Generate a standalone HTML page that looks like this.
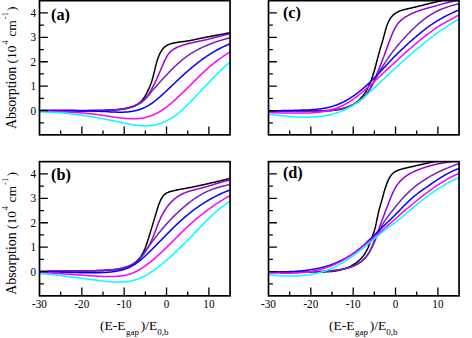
<!DOCTYPE html><html><head><meta charset="utf-8"><style>html,body{margin:0;padding:0;background:#fff;width:472px;height:338px;overflow:hidden}svg{display:block}text{font-family:"Liberation Serif",serif;fill:#000}</style></head><body>
<svg width="472" height="338" viewBox="0 0 472 338">
<rect width="472" height="338" fill="#fff"/>
<clipPath id="clipa"><rect x="39.50" y="0.65" width="190.55" height="134.20"/></clipPath>
<g clip-path="url(#clipa)" fill="none" stroke-width="1.5" stroke-linejoin="round">
<path d="M39.4 110.7 L40.0 110.7 L40.6 110.7 L41.1 110.6 L41.7 110.6 L42.3 110.6 L42.9 110.6 L43.5 110.6 L44.1 110.6 L44.6 110.6 L45.2 110.6 L45.8 110.6 L46.4 110.6 L47.0 110.6 L47.5 110.6 L48.1 110.6 L48.7 110.5 L49.3 110.5 L49.9 110.5 L50.4 110.5 L51.0 110.5 L51.6 110.5 L52.2 110.5 L52.8 110.5 L53.4 110.5 L53.9 110.5 L54.5 110.5 L55.1 110.5 L55.7 110.5 L56.3 110.5 L56.8 110.5 L57.4 110.5 L58.0 110.5 L58.6 110.5 L59.2 110.5 L59.8 110.5 L60.3 110.5 L60.9 110.5 L61.5 110.6 L62.1 110.6 L62.7 110.6 L63.2 110.6 L63.8 110.6 L64.4 110.6 L65.0 110.6 L65.6 110.6 L66.2 110.6 L66.7 110.6 L67.3 110.6 L67.9 110.6 L68.5 110.6 L69.1 110.6 L69.6 110.6 L70.2 110.6 L70.8 110.6 L71.4 110.6 L72.0 110.6 L72.6 110.6 L73.1 110.6 L73.7 110.6 L74.3 110.6 L74.9 110.6 L75.5 110.6 L76.0 110.6 L76.6 110.6 L77.2 110.6 L77.8 110.7 L78.4 110.7 L79.0 110.7 L79.5 110.7 L80.1 110.7 L80.7 110.7 L81.3 110.7 L81.9 110.7 L82.5 110.7 L83.0 110.7 L83.6 110.7 L84.2 110.7 L84.8 110.7 L85.4 110.7 L85.9 110.7 L86.5 110.7 L87.1 110.7 L87.7 110.6 L88.3 110.6 L88.9 110.6 L89.4 110.6 L90.0 110.6 L90.6 110.6 L91.2 110.6 L91.8 110.6 L92.3 110.6 L92.9 110.6 L93.5 110.6 L94.1 110.6 L94.7 110.6 L95.2 110.6 L95.8 110.6 L96.4 110.5 L97.0 110.5 L97.6 110.5 L98.2 110.5 L98.7 110.5 L99.3 110.5 L99.9 110.5 L100.5 110.4 L101.1 110.4 L101.6 110.4 L102.2 110.4 L102.8 110.4 L103.4 110.4 L104.0 110.3 L104.5 110.3 L105.1 110.3 L105.7 110.3 L106.3 110.2 L106.9 110.2 L107.4 110.2 L108.0 110.2 L108.6 110.1 L109.2 110.1 L109.8 110.1 L110.3 110.0 L110.9 110.0 L111.5 110.0 L112.1 109.9 L112.7 109.9 L113.2 109.9 L113.8 109.8 L114.4 109.8 L115.0 109.8 L115.6 109.7 L116.1 109.7 L116.7 109.6 L117.3 109.6 L117.9 109.5 L118.4 109.5 L119.0 109.4 L119.6 109.3 L120.2 109.3 L120.8 109.2 L121.3 109.1 L121.9 109.1 L122.5 109.0 L123.1 108.9 L123.6 108.8 L124.2 108.7 L124.8 108.6 L125.4 108.5 L125.9 108.4 L126.5 108.3 L127.1 108.1 L127.7 108.0 L128.2 107.9 L128.8 107.7 L129.4 107.6 L130.0 107.4 L130.5 107.3 L131.1 107.1 L131.7 106.9 L132.2 106.7 L132.8 106.5 L133.3 106.3 L133.9 106.1 L134.4 105.9 L134.9 105.6 L135.5 105.4 L136.0 105.1 L136.5 104.8 L137.0 104.6 L137.5 104.3 L138.0 104.0 L138.4 103.6 L138.9 103.3 L139.4 103.0 L139.8 102.6 L140.2 102.2 L140.6 101.9 L141.1 101.5 L141.4 101.1 L141.8 100.6 L142.2 100.2 L142.6 99.8 L142.9 99.3 L143.3 98.9 L143.6 98.4 L143.9 97.9 L144.2 97.4 L144.6 96.9 L144.9 96.4 L145.2 95.9 L145.5 95.4 L145.7 94.9 L146.0 94.4 L146.3 93.9 L146.6 93.4 L146.8 92.8 L147.1 92.3 L147.4 91.8 L147.6 91.3 L147.9 90.7 L148.1 90.2 L148.4 89.7 L148.6 89.2 L148.9 88.6 L149.1 88.1 L149.3 87.6 L149.6 87.0 L149.8 86.5 L150.0 86.0 L150.2 85.4 L150.4 84.9 L150.6 84.4 L150.9 83.8 L151.1 83.3 L151.3 82.7 L151.4 82.2 L151.6 81.6 L151.8 81.1 L152.0 80.5 L152.2 80.0 L152.3 79.4 L152.5 78.9 L152.7 78.3 L152.8 77.7 L153.0 77.2 L153.1 76.6 L153.3 76.0 L153.4 75.5 L153.5 74.9 L153.7 74.3 L153.8 73.8 L154.0 73.2 L154.1 72.6 L154.2 72.0 L154.4 71.5 L154.5 70.9 L154.6 70.3 L154.8 69.7 L154.9 69.2 L155.0 68.6 L155.2 68.0 L155.3 67.4 L155.4 66.9 L155.6 66.3 L155.7 65.7 L155.9 65.2 L156.0 64.6 L156.2 64.0 L156.3 63.5 L156.5 62.9 L156.6 62.3 L156.8 61.8 L157.0 61.2 L157.1 60.7 L157.3 60.1 L157.5 59.5 L157.7 59.0 L157.9 58.4 L158.1 57.9 L158.3 57.4 L158.5 56.8 L158.7 56.3 L158.9 55.8 L159.1 55.2 L159.4 54.7 L159.6 54.2 L159.9 53.7 L160.1 53.1 L160.4 52.6 L160.7 52.1 L161.0 51.6 L161.3 51.1 L161.6 50.6 L161.9 50.2 L162.2 49.7 L162.6 49.2 L162.9 48.8 L163.3 48.4 L163.6 47.9 L164.0 47.5 L164.4 47.2 L164.8 46.8 L165.3 46.4 L165.7 46.1 L166.2 45.8 L166.6 45.5 L167.1 45.2 L167.6 45.0 L168.1 44.7 L168.7 44.5 L169.2 44.3 L169.7 44.1 L170.3 43.9 L170.8 43.7 L171.4 43.6 L172.0 43.4 L172.5 43.3 L173.1 43.2 L173.7 43.0 L174.3 42.9 L174.8 42.8 L175.4 42.7 L176.0 42.6 L176.6 42.5 L177.2 42.4 L177.8 42.3 L178.3 42.2 L178.9 42.1 L179.5 42.1 L180.1 42.0 L180.7 41.9 L181.3 41.8 L181.9 41.8 L182.4 41.7 L183.0 41.6 L183.6 41.5 L184.2 41.5 L184.8 41.4 L185.4 41.3 L186.0 41.2 L186.5 41.1 L187.1 41.1 L187.7 41.0 L188.3 40.9 L188.8 40.8 L189.4 40.7 L190.0 40.6 L190.5 40.5 L191.1 40.3 L191.7 40.2 L192.3 40.1 L192.8 40.0 L193.4 39.9 L193.9 39.8 L194.5 39.6 L195.1 39.5 L195.6 39.4 L196.2 39.3 L196.8 39.1 L197.3 39.0 L197.9 38.9 L198.5 38.8 L199.0 38.6 L199.6 38.5 L200.2 38.4 L200.7 38.3 L201.3 38.2 L201.9 38.0 L202.4 37.9 L203.0 37.8 L203.6 37.7 L204.1 37.6 L204.7 37.5 L205.3 37.4 L205.8 37.2 L206.4 37.1 L207.0 37.0 L207.6 36.9 L208.1 36.8 L208.7 36.7 L209.3 36.6 L209.8 36.5 L210.4 36.4 L211.0 36.3 L211.6 36.2 L212.1 36.1 L212.7 36.0 L213.3 35.9 L213.9 35.7 L214.4 35.6 L215.0 35.5 L215.6 35.4 L216.2 35.3 L216.7 35.2 L217.3 35.1 L217.9 35.0 L218.5 34.9 L219.0 34.8 L219.6 34.7 L220.2 34.6 L220.8 34.5 L221.3 34.4 L221.9 34.3 L222.5 34.1 L223.0 34.0 L223.6 33.9 L224.2 33.8 L224.8 33.7 L225.3 33.6 L225.9 33.5 L226.5 33.4 L227.0 33.2 L227.6 33.1 L228.2 33.0 L228.7 32.9 L229.3 32.8 L229.9 32.6 L230.4 32.5 L231.0 32.4" stroke="#000000"/>
<path d="M39.4 110.7 L39.9 110.7 L40.5 110.7 L41.1 110.6 L41.6 110.6 L42.2 110.6 L42.8 110.6 L43.4 110.6 L43.9 110.6 L44.5 110.6 L45.1 110.6 L45.6 110.6 L46.2 110.6 L46.8 110.6 L47.3 110.6 L47.9 110.6 L48.5 110.5 L49.0 110.5 L49.6 110.5 L50.2 110.5 L50.7 110.5 L51.3 110.5 L51.9 110.5 L52.5 110.5 L53.0 110.5 L53.6 110.5 L54.2 110.5 L54.7 110.5 L55.3 110.5 L55.9 110.5 L56.4 110.5 L57.0 110.5 L57.6 110.5 L58.1 110.5 L58.7 110.5 L59.2 110.5 L59.8 110.5 L60.4 110.5 L60.9 110.6 L61.5 110.6 L62.1 110.6 L62.6 110.6 L63.2 110.6 L63.8 110.6 L64.3 110.6 L64.9 110.6 L65.5 110.6 L66.0 110.6 L66.6 110.6 L67.2 110.6 L67.7 110.6 L68.3 110.6 L68.9 110.6 L69.4 110.6 L70.0 110.6 L70.5 110.6 L71.1 110.6 L71.7 110.6 L72.2 110.6 L72.8 110.6 L73.4 110.6 L73.9 110.6 L74.5 110.7 L75.1 110.7 L75.6 110.7 L76.2 110.7 L76.7 110.7 L77.3 110.7 L77.9 110.7 L78.4 110.7 L79.0 110.7 L79.6 110.7 L80.1 110.7 L80.7 110.7 L81.3 110.7 L81.8 110.7 L82.4 110.7 L83.0 110.7 L83.5 110.7 L84.1 110.7 L84.6 110.7 L85.2 110.7 L85.8 110.7 L86.3 110.7 L86.9 110.7 L87.5 110.7 L88.0 110.7 L88.6 110.7 L89.2 110.7 L89.7 110.7 L90.3 110.7 L90.9 110.7 L91.4 110.7 L92.0 110.7 L92.6 110.6 L93.1 110.6 L93.7 110.6 L94.3 110.6 L94.8 110.6 L95.4 110.6 L96.0 110.6 L96.5 110.6 L97.1 110.6 L97.7 110.6 L98.2 110.6 L98.8 110.5 L99.4 110.5 L99.9 110.5 L100.5 110.5 L101.1 110.5 L101.6 110.5 L102.2 110.5 L102.8 110.4 L103.3 110.4 L103.9 110.4 L104.5 110.4 L105.0 110.4 L105.6 110.3 L106.2 110.3 L106.7 110.3 L107.3 110.3 L107.9 110.2 L108.5 110.2 L109.0 110.2 L109.6 110.2 L110.2 110.1 L110.7 110.1 L111.3 110.1 L111.9 110.0 L112.4 110.0 L113.0 110.0 L113.6 109.9 L114.2 109.9 L114.7 109.8 L115.3 109.8 L115.9 109.8 L116.4 109.7 L117.0 109.6 L117.6 109.6 L118.1 109.5 L118.7 109.5 L119.3 109.4 L119.8 109.3 L120.4 109.3 L120.9 109.2 L121.5 109.1 L122.1 109.0 L122.6 108.9 L123.2 108.8 L123.7 108.7 L124.3 108.6 L124.8 108.5 L125.4 108.4 L125.9 108.3 L126.5 108.2 L127.0 108.0 L127.6 107.9 L128.1 107.8 L128.7 107.6 L129.2 107.5 L129.7 107.3 L130.3 107.2 L130.8 107.0 L131.3 106.8 L131.9 106.6 L132.4 106.5 L132.9 106.3 L133.4 106.1 L134.0 105.9 L134.5 105.6 L135.0 105.4 L135.5 105.2 L136.0 105.0 L136.5 104.7 L137.0 104.5 L137.5 104.2 L138.0 103.9 L138.5 103.7 L139.0 103.4 L139.5 103.1 L139.9 102.8 L140.4 102.5 L140.9 102.2 L141.3 101.8 L141.8 101.5 L142.2 101.2 L142.7 100.8 L143.1 100.5 L143.5 100.1 L143.9 99.7 L144.3 99.3 L144.7 98.9 L145.1 98.5 L145.5 98.1 L145.9 97.7 L146.3 97.3 L146.6 96.8 L147.0 96.4 L147.3 95.9 L147.7 95.5 L148.0 95.0 L148.3 94.6 L148.7 94.1 L149.0 93.6 L149.3 93.1 L149.6 92.7 L149.9 92.2 L150.2 91.7 L150.5 91.2 L150.8 90.7 L151.1 90.2 L151.4 89.7 L151.6 89.2 L151.9 88.7 L152.2 88.2 L152.4 87.7 L152.7 87.2 L153.0 86.7 L153.2 86.2 L153.5 85.7 L153.8 85.2 L154.0 84.7 L154.3 84.1 L154.5 83.6 L154.8 83.1 L155.0 82.6 L155.2 82.1 L155.5 81.6 L155.7 81.1 L156.0 80.6 L156.2 80.1 L156.4 79.6 L156.7 79.0 L156.9 78.5 L157.1 78.0 L157.3 77.5 L157.6 77.0 L157.8 76.5 L158.0 76.0 L158.3 75.5 L158.5 74.9 L158.7 74.4 L158.9 73.9 L159.1 73.4 L159.4 72.9 L159.6 72.4 L159.8 71.8 L160.0 71.3 L160.3 70.8 L160.5 70.3 L160.7 69.8 L160.9 69.2 L161.1 68.7 L161.4 68.2 L161.6 67.7 L161.8 67.2 L162.0 66.6 L162.3 66.1 L162.5 65.6 L162.7 65.1 L162.9 64.6 L163.2 64.0 L163.4 63.5 L163.6 63.0 L163.9 62.5 L164.1 61.9 L164.3 61.4 L164.6 60.9 L164.8 60.4 L165.0 59.9 L165.3 59.3 L165.6 58.8 L165.8 58.3 L166.1 57.8 L166.3 57.3 L166.6 56.8 L166.9 56.3 L167.2 55.8 L167.5 55.4 L167.8 54.9 L168.1 54.4 L168.4 54.0 L168.8 53.5 L169.1 53.1 L169.5 52.7 L169.8 52.3 L170.2 51.9 L170.6 51.5 L171.0 51.1 L171.4 50.8 L171.9 50.4 L172.3 50.1 L172.8 49.8 L173.2 49.5 L173.7 49.2 L174.2 48.9 L174.7 48.6 L175.2 48.3 L175.7 48.0 L176.2 47.8 L176.7 47.5 L177.2 47.3 L177.7 47.1 L178.3 46.9 L178.8 46.6 L179.3 46.4 L179.9 46.2 L180.4 46.0 L181.0 45.8 L181.5 45.6 L182.0 45.5 L182.6 45.3 L183.1 45.1 L183.7 44.9 L184.2 44.8 L184.8 44.6 L185.3 44.4 L185.9 44.3 L186.4 44.1 L187.0 44.0 L187.5 43.8 L188.1 43.7 L188.6 43.5 L189.2 43.4 L189.7 43.3 L190.3 43.1 L190.8 43.0 L191.4 42.9 L191.9 42.8 L192.5 42.6 L193.0 42.5 L193.6 42.4 L194.1 42.3 L194.7 42.1 L195.2 42.0 L195.8 41.9 L196.3 41.8 L196.9 41.7 L197.4 41.6 L198.0 41.4 L198.5 41.3 L199.1 41.2 L199.6 41.1 L200.2 41.0 L200.7 40.9 L201.3 40.8 L201.8 40.6 L202.4 40.5 L202.9 40.4 L203.5 40.3 L204.0 40.2 L204.6 40.0 L205.1 39.9 L205.7 39.8 L206.2 39.7 L206.8 39.5 L207.4 39.4 L207.9 39.3 L208.5 39.1 L209.0 39.0 L209.6 38.9 L210.1 38.7 L210.6 38.6 L211.2 38.5 L211.7 38.3 L212.3 38.2 L212.8 38.0 L213.4 37.9 L213.9 37.8 L214.5 37.6 L215.0 37.5 L215.6 37.3 L216.1 37.2 L216.7 37.0 L217.2 36.9 L217.8 36.8 L218.3 36.6 L218.9 36.5 L219.4 36.3 L220.0 36.2 L220.5 36.1 L221.1 35.9 L221.6 35.8 L222.2 35.6 L222.7 35.5 L223.3 35.4 L223.8 35.2 L224.4 35.1 L224.9 35.0 L225.5 34.8 L226.0 34.7 L226.6 34.6 L227.1 34.5 L227.7 34.3 L228.2 34.2 L228.8 34.1 L229.3 34.0 L229.9 33.9 L230.5 33.7 L231.0 33.6" stroke="#9400d3"/>
<path d="M39.3 110.6 L39.9 110.6 L40.4 110.6 L41.0 110.6 L41.5 110.6 L42.1 110.6 L42.6 110.6 L43.2 110.6 L43.7 110.6 L44.3 110.6 L44.8 110.6 L45.4 110.6 L45.9 110.6 L46.5 110.6 L47.0 110.6 L47.6 110.6 L48.1 110.6 L48.7 110.6 L49.2 110.6 L49.8 110.6 L50.3 110.6 L50.8 110.6 L51.4 110.6 L51.9 110.6 L52.5 110.6 L53.0 110.6 L53.6 110.6 L54.1 110.6 L54.7 110.6 L55.2 110.6 L55.8 110.6 L56.3 110.6 L56.8 110.6 L57.4 110.6 L57.9 110.6 L58.5 110.6 L59.0 110.6 L59.6 110.6 L60.1 110.6 L60.6 110.6 L61.2 110.6 L61.7 110.6 L62.3 110.6 L62.8 110.6 L63.4 110.6 L63.9 110.6 L64.4 110.6 L65.0 110.6 L65.5 110.6 L66.1 110.6 L66.6 110.6 L67.1 110.6 L67.7 110.6 L68.2 110.6 L68.8 110.6 L69.3 110.6 L69.8 110.6 L70.4 110.6 L70.9 110.6 L71.5 110.6 L72.0 110.6 L72.6 110.6 L73.1 110.6 L73.6 110.6 L74.2 110.6 L74.7 110.6 L75.3 110.6 L75.8 110.6 L76.3 110.6 L76.9 110.6 L77.4 110.6 L78.0 110.6 L78.5 110.6 L79.0 110.6 L79.6 110.6 L80.1 110.6 L80.7 110.6 L81.2 110.6 L81.7 110.6 L82.3 110.6 L82.8 110.6 L83.4 110.6 L83.9 110.6 L84.5 110.6 L85.0 110.6 L85.5 110.6 L86.1 110.6 L86.6 110.6 L87.2 110.6 L87.7 110.6 L88.2 110.6 L88.8 110.6 L89.3 110.6 L89.9 110.6 L90.4 110.6 L91.0 110.6 L91.5 110.6 L92.0 110.6 L92.6 110.6 L93.1 110.6 L93.7 110.6 L94.2 110.6 L94.8 110.6 L95.3 110.6 L95.9 110.6 L96.4 110.6 L96.9 110.6 L97.5 110.6 L98.0 110.5 L98.6 110.5 L99.1 110.5 L99.7 110.5 L100.2 110.5 L100.8 110.5 L101.3 110.5 L101.8 110.5 L102.4 110.5 L102.9 110.5 L103.5 110.4 L104.0 110.4 L104.6 110.4 L105.1 110.4 L105.7 110.4 L106.2 110.4 L106.8 110.4 L107.3 110.4 L107.9 110.3 L108.4 110.3 L109.0 110.3 L109.5 110.3 L110.1 110.3 L110.6 110.3 L111.2 110.2 L111.7 110.2 L112.3 110.2 L112.8 110.2 L113.4 110.1 L113.9 110.1 L114.5 110.1 L115.0 110.1 L115.6 110.0 L116.1 110.0 L116.7 110.0 L117.2 109.9 L117.7 109.9 L118.3 109.8 L118.8 109.8 L119.4 109.7 L119.9 109.7 L120.5 109.6 L121.0 109.5 L121.5 109.5 L122.1 109.4 L122.6 109.3 L123.2 109.3 L123.7 109.2 L124.2 109.1 L124.8 109.0 L125.3 108.9 L125.8 108.8 L126.3 108.7 L126.9 108.6 L127.4 108.5 L127.9 108.3 L128.4 108.2 L129.0 108.1 L129.5 107.9 L130.0 107.8 L130.5 107.6 L131.0 107.5 L131.5 107.3 L132.0 107.2 L132.5 107.0 L133.0 106.8 L133.5 106.6 L134.0 106.4 L134.5 106.2 L135.0 106.0 L135.5 105.8 L136.0 105.5 L136.5 105.3 L137.0 105.1 L137.4 104.8 L137.9 104.6 L138.4 104.3 L138.9 104.0 L139.3 103.8 L139.8 103.5 L140.2 103.2 L140.7 102.9 L141.1 102.6 L141.6 102.2 L142.0 101.9 L142.4 101.6 L142.8 101.2 L143.2 100.9 L143.7 100.5 L144.1 100.2 L144.4 99.8 L144.8 99.4 L145.2 99.1 L145.6 98.7 L146.0 98.3 L146.3 97.9 L146.7 97.5 L147.0 97.1 L147.4 96.6 L147.8 96.2 L148.1 95.8 L148.4 95.4 L148.8 95.0 L149.1 94.5 L149.5 94.1 L149.8 93.7 L150.2 93.3 L150.5 92.9 L150.9 92.4 L151.2 92.0 L151.6 91.6 L151.9 91.2 L152.3 90.8 L152.6 90.4 L153.0 89.9 L153.3 89.5 L153.7 89.1 L154.0 88.7 L154.4 88.3 L154.7 87.9 L155.1 87.5 L155.4 87.1 L155.8 86.7 L156.2 86.2 L156.5 85.8 L156.9 85.4 L157.2 85.0 L157.6 84.6 L158.0 84.2 L158.3 83.8 L158.7 83.4 L159.1 83.0 L159.4 82.6 L159.8 82.2 L160.1 81.8 L160.5 81.4 L160.9 81.0 L161.2 80.6 L161.6 80.2 L162.0 79.8 L162.3 79.4 L162.7 79.0 L163.1 78.6 L163.5 78.2 L163.8 77.8 L164.2 77.4 L164.6 77.0 L164.9 76.6 L165.3 76.2 L165.7 75.8 L166.0 75.4 L166.4 75.0 L166.8 74.6 L167.2 74.2 L167.5 73.8 L167.9 73.5 L168.3 73.1 L168.7 72.7 L169.0 72.3 L169.4 71.9 L169.8 71.5 L170.2 71.1 L170.6 70.7 L170.9 70.3 L171.3 69.9 L171.7 69.5 L172.1 69.1 L172.5 68.8 L172.9 68.4 L173.2 68.0 L173.6 67.6 L174.0 67.2 L174.4 66.8 L174.8 66.5 L175.2 66.1 L175.6 65.7 L176.0 65.3 L176.4 65.0 L176.8 64.6 L177.2 64.2 L177.6 63.9 L178.0 63.5 L178.4 63.1 L178.8 62.8 L179.2 62.4 L179.6 62.1 L180.0 61.7 L180.4 61.4 L180.8 61.0 L181.2 60.7 L181.7 60.3 L182.1 60.0 L182.5 59.6 L182.9 59.3 L183.3 58.9 L183.8 58.6 L184.2 58.3 L184.6 58.0 L185.1 57.6 L185.5 57.3 L185.9 57.0 L186.4 56.7 L186.8 56.4 L187.2 56.0 L187.7 55.7 L188.1 55.4 L188.6 55.1 L189.0 54.8 L189.5 54.5 L189.9 54.2 L190.4 53.9 L190.9 53.6 L191.3 53.3 L191.8 53.1 L192.2 52.8 L192.7 52.5 L193.2 52.2 L193.6 51.9 L194.1 51.7 L194.6 51.4 L195.0 51.1 L195.5 50.9 L196.0 50.6 L196.5 50.3 L196.9 50.1 L197.4 49.8 L197.9 49.6 L198.4 49.3 L198.9 49.1 L199.3 48.8 L199.8 48.6 L200.3 48.3 L200.8 48.1 L201.3 47.9 L201.8 47.6 L202.3 47.4 L202.8 47.2 L203.3 46.9 L203.8 46.7 L204.3 46.5 L204.8 46.3 L205.3 46.1 L205.8 45.8 L206.3 45.6 L206.8 45.4 L207.3 45.2 L207.8 45.0 L208.3 44.8 L208.8 44.6 L209.3 44.4 L209.8 44.2 L210.3 44.0 L210.8 43.8 L211.3 43.6 L211.8 43.4 L212.3 43.2 L212.8 43.0 L213.3 42.8 L213.9 42.6 L214.4 42.5 L214.9 42.3 L215.4 42.1 L215.9 41.9 L216.4 41.7 L216.9 41.6 L217.5 41.4 L218.0 41.2 L218.5 41.1 L219.0 40.9 L219.5 40.7 L220.0 40.6 L220.6 40.4 L221.1 40.2 L221.6 40.1 L222.1 39.9 L222.6 39.8 L223.2 39.6 L223.7 39.5 L224.2 39.3 L224.7 39.2 L225.2 39.0 L225.8 38.9 L226.3 38.7 L226.8 38.6 L227.3 38.5 L227.8 38.3 L228.4 38.2 L228.9 38.0 L229.4 37.9 L229.9 37.8 L230.4 37.6 L231.0 37.5" stroke="#7221bc"/>
<path d="M39.4 110.7 L39.9 110.7 L40.4 110.7 L41.0 110.7 L41.5 110.8 L42.1 110.8 L42.6 110.8 L43.1 110.8 L43.7 110.8 L44.2 110.9 L44.8 110.9 L45.3 110.9 L45.9 110.9 L46.4 110.9 L46.9 110.9 L47.5 110.9 L48.0 110.9 L48.6 111.0 L49.1 111.0 L49.6 111.0 L50.2 111.0 L50.7 111.0 L51.2 111.0 L51.8 111.0 L52.3 111.0 L52.9 111.0 L53.4 111.0 L53.9 111.0 L54.5 111.0 L55.0 111.0 L55.5 111.0 L56.1 111.0 L56.6 111.0 L57.2 111.1 L57.7 111.1 L58.2 111.1 L58.8 111.1 L59.3 111.1 L59.8 111.1 L60.4 111.1 L60.9 111.1 L61.4 111.1 L62.0 111.1 L62.5 111.1 L63.1 111.1 L63.6 111.1 L64.1 111.1 L64.7 111.1 L65.2 111.1 L65.7 111.1 L66.3 111.0 L66.8 111.0 L67.3 111.0 L67.9 111.0 L68.4 111.0 L68.9 111.0 L69.5 111.0 L70.0 111.0 L70.5 111.0 L71.1 111.0 L71.6 111.0 L72.1 111.0 L72.7 111.0 L73.2 111.0 L73.8 111.0 L74.3 111.0 L74.8 111.0 L75.4 111.0 L75.9 111.0 L76.4 111.0 L77.0 111.0 L77.5 111.0 L78.0 111.0 L78.6 111.0 L79.1 111.0 L79.6 111.0 L80.2 111.0 L80.7 111.0 L81.2 111.0 L81.8 111.0 L82.3 111.0 L82.8 111.0 L83.4 111.0 L83.9 111.0 L84.4 111.0 L85.0 111.0 L85.5 111.0 L86.1 111.0 L86.6 111.0 L87.1 111.0 L87.7 111.0 L88.2 111.0 L88.7 111.1 L89.3 111.1 L89.8 111.1 L90.3 111.1 L90.9 111.1 L91.4 111.1 L92.0 111.1 L92.5 111.1 L93.0 111.1 L93.6 111.1 L94.1 111.1 L94.6 111.2 L95.2 111.2 L95.7 111.2 L96.2 111.2 L96.8 111.2 L97.3 111.2 L97.9 111.3 L98.4 111.3 L98.9 111.3 L99.5 111.3 L100.0 111.3 L100.6 111.4 L101.1 111.4 L101.6 111.4 L102.2 111.4 L102.7 111.4 L103.3 111.5 L103.8 111.5 L104.3 111.5 L104.9 111.6 L105.4 111.6 L106.0 111.6 L106.5 111.6 L107.0 111.7 L107.6 111.7 L108.1 111.7 L108.7 111.8 L109.2 111.8 L109.8 111.8 L110.3 111.9 L110.8 111.9 L111.4 111.9 L111.9 111.9 L112.5 112.0 L113.0 112.0 L113.5 112.0 L114.1 112.1 L114.6 112.1 L115.2 112.1 L115.7 112.1 L116.3 112.1 L116.8 112.2 L117.3 112.2 L117.9 112.2 L118.4 112.2 L119.0 112.2 L119.5 112.2 L120.0 112.2 L120.6 112.2 L121.1 112.2 L121.6 112.2 L122.2 112.2 L122.7 112.2 L123.3 112.2 L123.8 112.2 L124.3 112.1 L124.9 112.1 L125.4 112.1 L125.9 112.0 L126.5 112.0 L127.0 112.0 L127.5 111.9 L128.1 111.9 L128.6 111.8 L129.1 111.8 L129.6 111.7 L130.2 111.6 L130.7 111.6 L131.2 111.5 L131.7 111.4 L132.3 111.3 L132.8 111.2 L133.3 111.1 L133.8 111.0 L134.4 110.9 L134.9 110.8 L135.4 110.7 L135.9 110.6 L136.4 110.4 L136.9 110.3 L137.5 110.1 L138.0 110.0 L138.5 109.8 L139.0 109.7 L139.5 109.5 L140.0 109.4 L140.5 109.2 L141.0 109.0 L141.5 108.8 L142.0 108.6 L142.5 108.4 L142.9 108.2 L143.4 108.0 L143.9 107.8 L144.4 107.6 L144.9 107.4 L145.4 107.1 L145.8 106.9 L146.3 106.7 L146.8 106.4 L147.2 106.2 L147.7 105.9 L148.1 105.6 L148.6 105.4 L149.1 105.1 L149.5 104.8 L150.0 104.5 L150.4 104.2 L150.9 104.0 L151.3 103.7 L151.7 103.4 L152.2 103.1 L152.6 102.7 L153.0 102.4 L153.5 102.1 L153.9 101.8 L154.3 101.5 L154.8 101.1 L155.2 100.8 L155.6 100.5 L156.0 100.1 L156.5 99.8 L156.9 99.4 L157.3 99.1 L157.7 98.8 L158.1 98.4 L158.5 98.1 L158.9 97.7 L159.4 97.3 L159.8 97.0 L160.2 96.6 L160.6 96.3 L161.0 95.9 L161.4 95.5 L161.8 95.2 L162.2 94.8 L162.6 94.4 L163.0 94.1 L163.4 93.7 L163.8 93.3 L164.2 92.9 L164.6 92.6 L165.0 92.2 L165.4 91.8 L165.8 91.5 L166.2 91.1 L166.6 90.7 L166.9 90.3 L167.3 90.0 L167.7 89.6 L168.1 89.2 L168.5 88.9 L168.9 88.5 L169.3 88.1 L169.7 87.7 L170.1 87.4 L170.5 87.0 L170.9 86.6 L171.2 86.3 L171.6 85.9 L172.0 85.5 L172.4 85.1 L172.8 84.8 L173.2 84.4 L173.6 84.0 L174.0 83.7 L174.4 83.3 L174.7 82.9 L175.1 82.6 L175.5 82.2 L175.9 81.8 L176.3 81.5 L176.7 81.1 L177.1 80.7 L177.5 80.4 L177.9 80.0 L178.2 79.6 L178.6 79.3 L179.0 78.9 L179.4 78.6 L179.8 78.2 L180.2 77.8 L180.6 77.5 L181.0 77.1 L181.4 76.7 L181.8 76.4 L182.2 76.0 L182.6 75.7 L183.0 75.3 L183.4 74.9 L183.7 74.6 L184.1 74.2 L184.5 73.9 L184.9 73.5 L185.3 73.2 L185.7 72.8 L186.1 72.4 L186.5 72.1 L186.9 71.7 L187.4 71.4 L187.8 71.0 L188.2 70.7 L188.6 70.3 L189.0 70.0 L189.4 69.6 L189.8 69.3 L190.2 68.9 L190.6 68.6 L191.0 68.2 L191.4 67.9 L191.8 67.5 L192.3 67.2 L192.7 66.9 L193.1 66.5 L193.5 66.2 L193.9 65.8 L194.3 65.5 L194.8 65.2 L195.2 64.8 L195.6 64.5 L196.0 64.2 L196.4 63.8 L196.9 63.5 L197.3 63.2 L197.7 62.8 L198.1 62.5 L198.6 62.2 L199.0 61.8 L199.4 61.5 L199.8 61.2 L200.3 60.9 L200.7 60.6 L201.1 60.2 L201.6 59.9 L202.0 59.6 L202.4 59.3 L202.9 59.0 L203.3 58.7 L203.7 58.3 L204.2 58.0 L204.6 57.7 L205.1 57.4 L205.5 57.1 L206.0 56.8 L206.4 56.5 L206.8 56.2 L207.3 55.9 L207.7 55.6 L208.2 55.3 L208.6 55.0 L209.1 54.7 L209.5 54.4 L210.0 54.1 L210.4 53.9 L210.9 53.6 L211.4 53.3 L211.8 53.0 L212.3 52.7 L212.7 52.5 L213.2 52.2 L213.6 51.9 L214.1 51.6 L214.6 51.4 L215.0 51.1 L215.5 50.8 L216.0 50.6 L216.4 50.3 L216.9 50.0 L217.4 49.8 L217.8 49.5 L218.3 49.3 L218.8 49.0 L219.3 48.8 L219.7 48.5 L220.2 48.3 L220.7 48.0 L221.2 47.8 L221.7 47.6 L222.1 47.3 L222.6 47.1 L223.1 46.9 L223.6 46.6 L224.1 46.4 L224.6 46.2 L225.0 46.0 L225.5 45.8 L226.0 45.5 L226.5 45.3 L227.0 45.1 L227.5 44.9 L228.0 44.7 L228.5 44.5 L229.0 44.3 L229.5 44.1 L230.0 43.9 L230.5 43.7 L231.0 43.5" stroke="#0000ff"/>
<path d="M39.4 111.0 L40.0 111.0 L40.5 111.1 L41.0 111.1 L41.6 111.1 L42.1 111.1 L42.6 111.1 L43.2 111.2 L43.7 111.2 L44.3 111.2 L44.8 111.2 L45.3 111.2 L45.9 111.2 L46.4 111.3 L47.0 111.3 L47.5 111.3 L48.0 111.3 L48.6 111.3 L49.1 111.4 L49.7 111.4 L50.2 111.4 L50.7 111.4 L51.3 111.4 L51.8 111.4 L52.4 111.5 L52.9 111.5 L53.4 111.5 L54.0 111.5 L54.5 111.5 L55.1 111.6 L55.6 111.6 L56.2 111.6 L56.7 111.6 L57.2 111.6 L57.8 111.6 L58.3 111.7 L58.9 111.7 L59.4 111.7 L59.9 111.7 L60.5 111.7 L61.0 111.8 L61.6 111.8 L62.1 111.8 L62.6 111.8 L63.2 111.9 L63.7 111.9 L64.3 111.9 L64.8 111.9 L65.4 111.9 L65.9 112.0 L66.4 112.0 L67.0 112.0 L67.5 112.0 L68.1 112.1 L68.6 112.1 L69.1 112.1 L69.7 112.2 L70.2 112.2 L70.8 112.2 L71.3 112.2 L71.9 112.3 L72.4 112.3 L72.9 112.3 L73.5 112.4 L74.0 112.4 L74.6 112.4 L75.1 112.5 L75.6 112.5 L76.2 112.5 L76.7 112.6 L77.3 112.6 L77.8 112.6 L78.3 112.7 L78.9 112.7 L79.4 112.7 L80.0 112.8 L80.5 112.8 L81.0 112.9 L81.6 112.9 L82.1 113.0 L82.7 113.0 L83.2 113.0 L83.7 113.1 L84.3 113.1 L84.8 113.2 L85.3 113.2 L85.9 113.3 L86.4 113.3 L87.0 113.4 L87.5 113.4 L88.0 113.5 L88.6 113.5 L89.1 113.6 L89.6 113.7 L90.2 113.7 L90.7 113.8 L91.3 113.8 L91.8 113.9 L92.3 114.0 L92.9 114.0 L93.4 114.1 L93.9 114.1 L94.5 114.2 L95.0 114.3 L95.5 114.3 L96.1 114.4 L96.6 114.5 L97.1 114.6 L97.7 114.6 L98.2 114.7 L98.7 114.8 L99.3 114.9 L99.8 114.9 L100.3 115.0 L100.9 115.1 L101.4 115.2 L101.9 115.2 L102.5 115.3 L103.0 115.4 L103.5 115.5 L104.1 115.6 L104.6 115.6 L105.1 115.7 L105.7 115.8 L106.2 115.9 L106.7 116.0 L107.3 116.1 L107.8 116.1 L108.3 116.2 L108.9 116.3 L109.4 116.4 L109.9 116.5 L110.5 116.5 L111.0 116.6 L111.6 116.7 L112.1 116.8 L112.6 116.9 L113.2 116.9 L113.7 117.0 L114.2 117.1 L114.8 117.2 L115.3 117.2 L115.8 117.3 L116.4 117.4 L116.9 117.4 L117.5 117.5 L118.0 117.6 L118.5 117.7 L119.1 117.7 L119.6 117.8 L120.2 117.9 L120.7 117.9 L121.3 118.0 L121.8 118.0 L122.3 118.1 L122.9 118.2 L123.4 118.2 L124.0 118.3 L124.5 118.3 L125.1 118.4 L125.6 118.4 L126.2 118.5 L126.7 118.5 L127.3 118.5 L127.8 118.6 L128.4 118.6 L128.9 118.6 L129.4 118.7 L130.0 118.7 L130.5 118.7 L131.1 118.7 L131.6 118.7 L132.2 118.8 L132.7 118.8 L133.3 118.8 L133.8 118.8 L134.4 118.8 L134.9 118.7 L135.4 118.7 L136.0 118.7 L136.5 118.7 L137.1 118.7 L137.6 118.6 L138.1 118.6 L138.7 118.5 L139.2 118.5 L139.7 118.4 L140.3 118.4 L140.8 118.3 L141.3 118.3 L141.9 118.2 L142.4 118.1 L142.9 118.0 L143.4 117.9 L144.0 117.8 L144.5 117.7 L145.0 117.6 L145.5 117.5 L146.0 117.4 L146.5 117.2 L147.1 117.1 L147.6 116.9 L148.1 116.8 L148.6 116.6 L149.1 116.5 L149.6 116.3 L150.1 116.1 L150.6 115.9 L151.1 115.8 L151.6 115.6 L152.1 115.4 L152.6 115.2 L153.1 115.0 L153.6 114.7 L154.1 114.5 L154.5 114.3 L155.0 114.1 L155.5 113.8 L156.0 113.6 L156.5 113.3 L156.9 113.1 L157.4 112.8 L157.9 112.6 L158.4 112.3 L158.8 112.1 L159.3 111.8 L159.8 111.5 L160.2 111.2 L160.7 111.0 L161.2 110.7 L161.6 110.4 L162.1 110.1 L162.5 109.8 L163.0 109.5 L163.4 109.2 L163.9 108.9 L164.3 108.6 L164.8 108.2 L165.2 107.9 L165.7 107.6 L166.1 107.3 L166.5 107.0 L167.0 106.6 L167.4 106.3 L167.8 106.0 L168.3 105.6 L168.7 105.3 L169.1 104.9 L169.5 104.6 L170.0 104.3 L170.4 103.9 L170.8 103.6 L171.2 103.2 L171.6 102.9 L172.0 102.5 L172.4 102.1 L172.9 101.8 L173.3 101.4 L173.7 101.1 L174.1 100.7 L174.5 100.3 L174.9 100.0 L175.3 99.6 L175.7 99.2 L176.1 98.9 L176.5 98.5 L176.9 98.1 L177.3 97.8 L177.7 97.4 L178.1 97.0 L178.5 96.7 L178.9 96.3 L179.3 95.9 L179.6 95.5 L180.0 95.2 L180.4 94.8 L180.8 94.4 L181.2 94.0 L181.6 93.7 L182.0 93.3 L182.4 92.9 L182.8 92.6 L183.2 92.2 L183.6 91.8 L183.9 91.4 L184.3 91.1 L184.7 90.7 L185.1 90.3 L185.5 89.9 L185.9 89.5 L186.3 89.2 L186.7 88.8 L187.0 88.4 L187.4 88.0 L187.8 87.7 L188.2 87.3 L188.6 86.9 L189.0 86.5 L189.3 86.1 L189.7 85.8 L190.1 85.4 L190.5 85.0 L190.9 84.6 L191.3 84.2 L191.6 83.9 L192.0 83.5 L192.4 83.1 L192.8 82.7 L193.2 82.3 L193.6 82.0 L193.9 81.6 L194.3 81.2 L194.7 80.8 L195.1 80.4 L195.5 80.1 L195.9 79.7 L196.2 79.3 L196.6 78.9 L197.0 78.5 L197.4 78.2 L197.8 77.8 L198.2 77.4 L198.5 77.0 L198.9 76.6 L199.3 76.3 L199.7 75.9 L200.1 75.5 L200.5 75.1 L200.9 74.8 L201.2 74.4 L201.6 74.0 L202.0 73.6 L202.4 73.3 L202.8 72.9 L203.2 72.5 L203.6 72.1 L204.0 71.8 L204.4 71.4 L204.8 71.0 L205.2 70.7 L205.6 70.3 L206.0 69.9 L206.4 69.6 L206.8 69.2 L207.2 68.9 L207.6 68.5 L208.0 68.1 L208.4 67.8 L208.8 67.4 L209.2 67.1 L209.6 66.7 L210.0 66.4 L210.4 66.0 L210.8 65.7 L211.2 65.3 L211.7 65.0 L212.1 64.6 L212.5 64.3 L212.9 64.0 L213.3 63.6 L213.8 63.3 L214.2 62.9 L214.6 62.6 L215.0 62.3 L215.5 62.0 L215.9 61.6 L216.3 61.3 L216.8 61.0 L217.2 60.6 L217.6 60.3 L218.1 60.0 L218.5 59.7 L218.9 59.4 L219.4 59.0 L219.8 58.7 L220.2 58.4 L220.7 58.1 L221.1 57.8 L221.6 57.5 L222.0 57.2 L222.5 56.9 L222.9 56.6 L223.4 56.2 L223.8 55.9 L224.3 55.6 L224.7 55.3 L225.2 55.0 L225.6 54.7 L226.1 54.4 L226.5 54.1 L227.0 53.8 L227.4 53.5 L227.9 53.2 L228.3 52.9 L228.8 52.6 L229.2 52.3 L229.7 52.0 L230.1 51.8 L230.6 51.5 L231.1 51.2" stroke="#ff00ff"/>
<path d="M39.4 112.0 L39.9 112.0 L40.5 112.0 L41.0 112.0 L41.6 112.1 L42.1 112.1 L42.7 112.1 L43.2 112.1 L43.8 112.1 L44.3 112.1 L44.8 112.1 L45.4 112.1 L45.9 112.1 L46.5 112.2 L47.0 112.2 L47.6 112.2 L48.1 112.2 L48.6 112.2 L49.2 112.3 L49.7 112.3 L50.3 112.3 L50.8 112.3 L51.4 112.3 L51.9 112.4 L52.5 112.4 L53.0 112.4 L53.5 112.5 L54.1 112.5 L54.6 112.5 L55.2 112.5 L55.7 112.6 L56.3 112.6 L56.8 112.6 L57.3 112.7 L57.9 112.7 L58.4 112.8 L59.0 112.8 L59.5 112.8 L60.1 112.9 L60.6 112.9 L61.2 113.0 L61.7 113.0 L62.2 113.0 L62.8 113.1 L63.3 113.1 L63.9 113.2 L64.4 113.2 L65.0 113.3 L65.5 113.3 L66.0 113.4 L66.6 113.4 L67.1 113.5 L67.7 113.5 L68.2 113.6 L68.8 113.6 L69.3 113.7 L69.8 113.8 L70.4 113.8 L70.9 113.9 L71.5 113.9 L72.0 114.0 L72.6 114.1 L73.1 114.1 L73.6 114.2 L74.2 114.2 L74.7 114.3 L75.3 114.4 L75.8 114.4 L76.3 114.5 L76.9 114.6 L77.4 114.6 L78.0 114.7 L78.5 114.8 L79.0 114.9 L79.6 114.9 L80.1 115.0 L80.7 115.1 L81.2 115.1 L81.7 115.2 L82.3 115.3 L82.8 115.4 L83.4 115.4 L83.9 115.5 L84.4 115.6 L85.0 115.7 L85.5 115.8 L86.1 115.8 L86.6 115.9 L87.1 116.0 L87.7 116.1 L88.2 116.2 L88.7 116.3 L89.3 116.3 L89.8 116.4 L90.4 116.5 L90.9 116.6 L91.4 116.7 L92.0 116.8 L92.5 116.9 L93.0 116.9 L93.6 117.0 L94.1 117.1 L94.6 117.2 L95.2 117.3 L95.7 117.4 L96.2 117.5 L96.8 117.6 L97.3 117.7 L97.8 117.8 L98.4 117.9 L98.9 118.0 L99.4 118.1 L100.0 118.2 L100.5 118.3 L101.0 118.4 L101.6 118.5 L102.1 118.6 L102.6 118.7 L103.2 118.8 L103.7 118.9 L104.2 119.0 L104.8 119.1 L105.3 119.2 L105.8 119.3 L106.4 119.4 L106.9 119.5 L107.4 119.6 L108.0 119.7 L108.5 119.8 L109.0 119.9 L109.6 120.0 L110.1 120.1 L110.6 120.2 L111.2 120.3 L111.7 120.4 L112.2 120.6 L112.8 120.7 L113.3 120.8 L113.8 120.9 L114.4 121.0 L114.9 121.1 L115.4 121.2 L116.0 121.3 L116.5 121.4 L117.0 121.6 L117.6 121.7 L118.1 121.8 L118.6 121.9 L119.2 122.0 L119.7 122.1 L120.3 122.2 L120.8 122.3 L121.3 122.5 L121.9 122.6 L122.4 122.7 L122.9 122.8 L123.5 122.9 L124.0 123.0 L124.6 123.1 L125.1 123.3 L125.6 123.4 L126.2 123.5 L126.7 123.6 L127.3 123.7 L127.8 123.8 L128.3 123.9 L128.9 124.0 L129.4 124.1 L130.0 124.2 L130.5 124.3 L131.0 124.4 L131.6 124.5 L132.1 124.6 L132.7 124.7 L133.2 124.8 L133.7 124.9 L134.3 125.0 L134.8 125.1 L135.4 125.1 L135.9 125.2 L136.5 125.3 L137.0 125.3 L137.5 125.4 L138.1 125.5 L138.6 125.5 L139.2 125.6 L139.7 125.6 L140.2 125.7 L140.8 125.7 L141.3 125.8 L141.9 125.8 L142.4 125.8 L142.9 125.8 L143.5 125.9 L144.0 125.9 L144.6 125.9 L145.1 125.9 L145.6 125.9 L146.2 125.9 L146.7 125.9 L147.3 125.8 L147.8 125.8 L148.3 125.8 L148.9 125.8 L149.4 125.7 L150.0 125.7 L150.5 125.6 L151.0 125.6 L151.6 125.5 L152.1 125.4 L152.6 125.3 L153.2 125.3 L153.7 125.2 L154.2 125.1 L154.7 125.0 L155.3 124.9 L155.8 124.7 L156.3 124.6 L156.8 124.5 L157.4 124.3 L157.9 124.2 L158.4 124.1 L158.9 123.9 L159.4 123.7 L159.9 123.6 L160.5 123.4 L161.0 123.2 L161.5 123.0 L162.0 122.9 L162.5 122.7 L163.0 122.5 L163.5 122.3 L164.0 122.0 L164.5 121.8 L165.0 121.6 L165.5 121.4 L165.9 121.1 L166.4 120.9 L166.9 120.7 L167.4 120.4 L167.9 120.2 L168.3 119.9 L168.8 119.7 L169.3 119.4 L169.8 119.1 L170.2 118.8 L170.7 118.6 L171.1 118.3 L171.6 118.0 L172.1 117.7 L172.5 117.4 L173.0 117.1 L173.4 116.8 L173.9 116.5 L174.3 116.2 L174.7 115.9 L175.2 115.5 L175.6 115.2 L176.1 114.9 L176.5 114.6 L176.9 114.2 L177.4 113.9 L177.8 113.6 L178.2 113.2 L178.6 112.9 L179.1 112.5 L179.5 112.2 L179.9 111.8 L180.3 111.5 L180.7 111.1 L181.1 110.8 L181.6 110.4 L182.0 110.0 L182.4 109.7 L182.8 109.3 L183.2 108.9 L183.6 108.6 L184.0 108.2 L184.4 107.8 L184.8 107.4 L185.2 107.1 L185.6 106.7 L186.0 106.3 L186.4 105.9 L186.8 105.5 L187.2 105.1 L187.6 104.8 L188.0 104.4 L188.4 104.0 L188.8 103.6 L189.1 103.2 L189.5 102.8 L189.9 102.4 L190.3 102.0 L190.7 101.6 L191.1 101.2 L191.5 100.9 L191.8 100.5 L192.2 100.1 L192.6 99.7 L193.0 99.3 L193.4 98.9 L193.7 98.5 L194.1 98.1 L194.5 97.7 L194.9 97.3 L195.3 96.9 L195.6 96.5 L196.0 96.1 L196.4 95.7 L196.8 95.3 L197.1 94.9 L197.5 94.5 L197.9 94.1 L198.2 93.8 L198.6 93.4 L199.0 93.0 L199.4 92.6 L199.7 92.2 L200.1 91.8 L200.5 91.4 L200.9 91.0 L201.2 90.6 L201.6 90.2 L202.0 89.8 L202.3 89.4 L202.7 89.0 L203.1 88.6 L203.4 88.2 L203.8 87.8 L204.2 87.4 L204.6 87.0 L204.9 86.6 L205.3 86.2 L205.7 85.8 L206.0 85.4 L206.4 85.0 L206.8 84.7 L207.1 84.3 L207.5 83.9 L207.9 83.5 L208.3 83.1 L208.6 82.7 L209.0 82.3 L209.4 81.9 L209.8 81.5 L210.1 81.1 L210.5 80.7 L210.9 80.3 L211.2 79.9 L211.6 79.6 L212.0 79.2 L212.4 78.8 L212.8 78.4 L213.1 78.0 L213.5 77.6 L213.9 77.2 L214.3 76.8 L214.6 76.4 L215.0 76.1 L215.4 75.7 L215.8 75.3 L216.2 74.9 L216.6 74.5 L216.9 74.1 L217.3 73.8 L217.7 73.4 L218.1 73.0 L218.5 72.6 L218.9 72.2 L219.3 71.9 L219.7 71.5 L220.0 71.1 L220.4 70.7 L220.8 70.3 L221.2 70.0 L221.6 69.6 L222.0 69.2 L222.4 68.8 L222.8 68.5 L223.2 68.1 L223.6 67.7 L224.0 67.4 L224.4 67.0 L224.8 66.6 L225.2 66.3 L225.7 65.9 L226.1 65.5 L226.5 65.2 L226.9 64.8 L227.3 64.4 L227.7 64.1 L228.1 63.7 L228.5 63.4 L229.0 63.0 L229.4 62.6 L229.8 62.3 L230.2 61.9 L230.7 61.6 L231.1 61.2" stroke="#00ffff"/>
</g>
<path d="M39.50 110.60H47.90 M39.50 86.18H47.90 M39.50 61.76H47.90 M39.50 37.34H47.90 M39.50 12.92H47.90 M39.50 122.81H43.90 M39.50 98.39H43.90 M39.50 73.97H43.90 M39.50 49.55H43.90 M39.50 25.13H43.90 M81.84 134.85V126.45 M124.19 134.85V126.45 M166.53 134.85V126.45 M208.88 134.85V126.45 M60.67 134.85V130.45 M103.02 134.85V130.45 M145.36 134.85V130.45 M187.71 134.85V130.45" stroke="#000" stroke-width="1.3" fill="none"/>
<rect x="39.50" y="0.65" width="190.55" height="134.20" fill="none" stroke="#000" stroke-width="1.7"/>
<text x="51.00" y="19.50" font-size="16.3" font-weight="bold">(a)</text>
<text transform="translate(36.0 114.50) scale(0.933 1)" font-size="12" text-anchor="end">0</text>
<text transform="translate(36.0 90.08) scale(0.933 1)" font-size="12" text-anchor="end">1</text>
<text transform="translate(36.0 65.66) scale(0.933 1)" font-size="12" text-anchor="end">2</text>
<text transform="translate(36.0 41.24) scale(0.933 1)" font-size="12" text-anchor="end">3</text>
<text transform="translate(36.0 16.82) scale(0.933 1)" font-size="12" text-anchor="end">4</text>
<g transform="translate(16.2 129.00) rotate(-90)">
<text x="0" y="0" font-size="13.85">Absorption</text>
<text x="65.6" y="0" font-size="13.5">(10</text>
<text x="84.5" y="-7.8" font-size="8.5">4</text>
<text x="92.3" y="0" font-size="13.5">cm</text>
<text x="109.8" y="-7.8" font-size="8.5">-1</text>
<text x="118.1" y="0" font-size="13.5">)</text>
</g>
<clipPath id="clipb"><rect x="39.50" y="161.65" width="190.55" height="134.20"/></clipPath>
<g clip-path="url(#clipb)" fill="none" stroke-width="1.5" stroke-linejoin="round">
<path d="M39.4 271.6 L40.0 271.6 L40.6 271.5 L41.2 271.5 L41.8 271.5 L42.4 271.5 L43.0 271.5 L43.6 271.4 L44.2 271.4 L44.8 271.4 L45.4 271.4 L46.1 271.4 L46.7 271.4 L47.3 271.3 L47.9 271.3 L48.5 271.3 L49.1 271.3 L49.7 271.3 L50.3 271.3 L50.9 271.3 L51.5 271.3 L52.1 271.2 L52.7 271.2 L53.3 271.2 L53.9 271.2 L54.5 271.2 L55.1 271.2 L55.7 271.2 L56.3 271.2 L56.9 271.2 L57.5 271.2 L58.2 271.2 L58.8 271.2 L59.4 271.1 L60.0 271.1 L60.6 271.1 L61.2 271.1 L61.8 271.1 L62.4 271.1 L63.0 271.1 L63.6 271.1 L64.2 271.1 L64.8 271.1 L65.4 271.1 L66.0 271.1 L66.6 271.1 L67.2 271.1 L67.8 271.1 L68.4 271.1 L69.0 271.1 L69.6 271.1 L70.2 271.1 L70.8 271.1 L71.5 271.1 L72.1 271.0 L72.7 271.0 L73.3 271.0 L73.9 271.0 L74.5 271.0 L75.1 271.0 L75.7 271.0 L76.3 271.0 L76.9 271.0 L77.5 271.0 L78.1 271.0 L78.7 271.0 L79.3 271.0 L79.9 271.0 L80.5 271.0 L81.1 271.0 L81.7 271.0 L82.3 271.0 L82.9 270.9 L83.5 270.9 L84.1 270.9 L84.7 270.9 L85.4 270.9 L86.0 270.9 L86.6 270.9 L87.2 270.9 L87.8 270.9 L88.4 270.9 L89.0 270.8 L89.6 270.8 L90.2 270.8 L90.8 270.8 L91.4 270.8 L92.0 270.8 L92.6 270.8 L93.2 270.7 L93.8 270.7 L94.4 270.7 L95.0 270.7 L95.6 270.7 L96.2 270.6 L96.8 270.6 L97.4 270.6 L98.0 270.6 L98.7 270.6 L99.3 270.5 L99.9 270.5 L100.5 270.5 L101.1 270.5 L101.7 270.4 L102.3 270.4 L102.9 270.4 L103.5 270.4 L104.1 270.3 L104.7 270.3 L105.3 270.3 L105.9 270.2 L106.5 270.2 L107.1 270.2 L107.7 270.1 L108.3 270.1 L108.9 270.0 L109.5 270.0 L110.1 270.0 L110.7 269.9 L111.3 269.9 L112.0 269.8 L112.6 269.8 L113.2 269.7 L113.8 269.7 L114.4 269.6 L115.0 269.5 L115.6 269.5 L116.2 269.4 L116.8 269.3 L117.4 269.2 L118.0 269.2 L118.6 269.1 L119.1 269.0 L119.7 268.9 L120.3 268.7 L120.9 268.6 L121.5 268.5 L122.1 268.4 L122.7 268.2 L123.3 268.1 L123.9 267.9 L124.4 267.7 L125.0 267.6 L125.6 267.4 L126.2 267.2 L126.7 267.0 L127.3 266.8 L127.9 266.5 L128.4 266.3 L129.0 266.1 L129.6 265.8 L130.1 265.6 L130.6 265.3 L131.2 265.0 L131.7 264.7 L132.2 264.4 L132.8 264.1 L133.3 263.8 L133.8 263.5 L134.3 263.1 L134.7 262.8 L135.2 262.4 L135.7 262.1 L136.2 261.7 L136.6 261.3 L137.0 260.9 L137.5 260.5 L137.9 260.1 L138.3 259.7 L138.7 259.3 L139.1 258.8 L139.5 258.4 L139.8 257.9 L140.2 257.4 L140.5 257.0 L140.9 256.5 L141.2 256.0 L141.5 255.5 L141.8 255.0 L142.1 254.5 L142.4 254.0 L142.7 253.4 L143.0 252.9 L143.3 252.4 L143.5 251.8 L143.8 251.3 L144.1 250.7 L144.3 250.2 L144.6 249.6 L144.8 249.1 L145.0 248.5 L145.3 247.9 L145.5 247.3 L145.7 246.8 L145.9 246.2 L146.1 245.6 L146.3 245.0 L146.5 244.4 L146.7 243.9 L146.9 243.3 L147.1 242.7 L147.3 242.1 L147.5 241.5 L147.7 240.9 L147.9 240.3 L148.0 239.7 L148.2 239.1 L148.4 238.6 L148.6 238.0 L148.8 237.4 L148.9 236.8 L149.1 236.2 L149.3 235.6 L149.5 235.0 L149.6 234.5 L149.8 233.9 L150.0 233.3 L150.2 232.7 L150.3 232.1 L150.5 231.6 L150.7 231.0 L150.9 230.4 L151.0 229.8 L151.2 229.3 L151.4 228.7 L151.5 228.1 L151.7 227.5 L151.9 227.0 L152.1 226.4 L152.2 225.8 L152.4 225.3 L152.6 224.7 L152.7 224.1 L152.9 223.5 L153.1 223.0 L153.3 222.4 L153.4 221.8 L153.6 221.3 L153.8 220.7 L153.9 220.1 L154.1 219.5 L154.3 219.0 L154.5 218.4 L154.6 217.8 L154.8 217.2 L155.0 216.7 L155.1 216.1 L155.3 215.5 L155.5 215.0 L155.7 214.4 L155.9 213.8 L156.0 213.2 L156.2 212.7 L156.4 212.1 L156.6 211.5 L156.7 210.9 L156.9 210.3 L157.1 209.8 L157.3 209.2 L157.5 208.6 L157.7 208.0 L157.8 207.4 L158.0 206.8 L158.2 206.3 L158.4 205.7 L158.6 205.1 L158.8 204.5 L159.0 203.9 L159.3 203.4 L159.5 202.8 L159.7 202.2 L159.9 201.7 L160.2 201.1 L160.4 200.5 L160.7 200.0 L161.0 199.4 L161.3 198.9 L161.6 198.4 L161.9 197.8 L162.2 197.3 L162.5 196.8 L162.9 196.3 L163.2 195.9 L163.6 195.4 L164.0 195.0 L164.4 194.6 L164.9 194.2 L165.3 193.8 L165.8 193.5 L166.3 193.2 L166.8 192.9 L167.3 192.6 L167.9 192.4 L168.4 192.2 L169.0 192.0 L169.6 191.8 L170.2 191.6 L170.8 191.5 L171.4 191.3 L171.9 191.1 L172.5 191.0 L173.1 190.9 L173.7 190.7 L174.3 190.6 L174.9 190.4 L175.5 190.3 L176.1 190.2 L176.7 190.0 L177.3 189.9 L177.9 189.8 L178.5 189.7 L179.1 189.6 L179.7 189.4 L180.3 189.3 L180.9 189.2 L181.5 189.1 L182.0 189.0 L182.6 188.9 L183.2 188.8 L183.8 188.7 L184.4 188.6 L185.0 188.5 L185.6 188.4 L186.2 188.3 L186.8 188.1 L187.4 188.0 L188.0 187.9 L188.6 187.8 L189.2 187.7 L189.8 187.6 L190.4 187.5 L191.0 187.4 L191.6 187.2 L192.2 187.1 L192.7 187.0 L193.3 186.9 L193.9 186.8 L194.5 186.6 L195.1 186.5 L195.7 186.4 L196.3 186.3 L196.9 186.1 L197.5 186.0 L198.1 185.9 L198.7 185.8 L199.2 185.6 L199.8 185.5 L200.4 185.4 L201.0 185.2 L201.6 185.1 L202.2 185.0 L202.8 184.8 L203.4 184.7 L204.0 184.6 L204.6 184.4 L205.2 184.3 L205.7 184.2 L206.3 184.1 L206.9 183.9 L207.5 183.8 L208.1 183.7 L208.7 183.5 L209.3 183.4 L209.9 183.2 L210.5 183.1 L211.1 183.0 L211.6 182.8 L212.2 182.7 L212.8 182.6 L213.4 182.4 L214.0 182.3 L214.6 182.2 L215.2 182.0 L215.8 181.9 L216.4 181.7 L216.9 181.6 L217.5 181.5 L218.1 181.3 L218.7 181.2 L219.3 181.0 L219.9 180.9 L220.5 180.7 L221.1 180.6 L221.6 180.5 L222.2 180.3 L222.8 180.2 L223.4 180.0 L224.0 179.9 L224.6 179.7 L225.2 179.6 L225.7 179.4 L226.3 179.3 L226.9 179.1 L227.5 178.9 L228.1 178.8 L228.7 178.6 L229.2 178.5 L229.8 178.3 L230.4 178.1 L231.0 178.0" stroke="#000000"/>
<path d="M39.4 271.6 L40.0 271.6 L40.6 271.6 L41.2 271.5 L41.7 271.5 L42.3 271.5 L42.9 271.5 L43.5 271.4 L44.1 271.4 L44.7 271.4 L45.2 271.4 L45.8 271.4 L46.4 271.4 L47.0 271.3 L47.6 271.3 L48.2 271.3 L48.7 271.3 L49.3 271.3 L49.9 271.3 L50.5 271.3 L51.1 271.2 L51.7 271.2 L52.3 271.2 L52.8 271.2 L53.4 271.2 L54.0 271.2 L54.6 271.2 L55.2 271.2 L55.8 271.2 L56.3 271.2 L56.9 271.1 L57.5 271.1 L58.1 271.1 L58.7 271.1 L59.3 271.1 L59.8 271.1 L60.4 271.1 L61.0 271.1 L61.6 271.1 L62.2 271.1 L62.8 271.1 L63.4 271.1 L63.9 271.1 L64.5 271.1 L65.1 271.1 L65.7 271.1 L66.3 271.1 L66.9 271.1 L67.4 271.1 L68.0 271.1 L68.6 271.1 L69.2 271.1 L69.8 271.1 L70.4 271.1 L71.0 271.1 L71.5 271.1 L72.1 271.1 L72.7 271.0 L73.3 271.0 L73.9 271.0 L74.5 271.0 L75.1 271.0 L75.6 271.0 L76.2 271.0 L76.8 271.0 L77.4 271.0 L78.0 271.0 L78.6 271.0 L79.1 271.0 L79.7 271.0 L80.3 271.0 L80.9 271.0 L81.5 271.0 L82.1 271.0 L82.7 271.0 L83.2 271.0 L83.8 271.0 L84.4 271.0 L85.0 270.9 L85.6 270.9 L86.2 270.9 L86.7 270.9 L87.3 270.9 L87.9 270.9 L88.5 270.9 L89.1 270.9 L89.7 270.9 L90.2 270.9 L90.8 270.8 L91.4 270.8 L92.0 270.8 L92.6 270.8 L93.2 270.8 L93.8 270.8 L94.3 270.7 L94.9 270.7 L95.5 270.7 L96.1 270.7 L96.7 270.7 L97.3 270.6 L97.8 270.6 L98.4 270.6 L99.0 270.6 L99.6 270.6 L100.2 270.5 L100.8 270.5 L101.3 270.5 L101.9 270.4 L102.5 270.4 L103.1 270.4 L103.7 270.4 L104.3 270.3 L104.8 270.3 L105.4 270.3 L106.0 270.2 L106.6 270.2 L107.2 270.1 L107.8 270.1 L108.3 270.1 L108.9 270.0 L109.5 270.0 L110.1 269.9 L110.7 269.9 L111.2 269.8 L111.8 269.8 L112.4 269.7 L113.0 269.6 L113.6 269.6 L114.1 269.5 L114.7 269.4 L115.3 269.4 L115.9 269.3 L116.4 269.2 L117.0 269.1 L117.6 269.0 L118.2 268.9 L118.7 268.8 L119.3 268.7 L119.9 268.6 L120.4 268.5 L121.0 268.3 L121.6 268.2 L122.2 268.1 L122.7 267.9 L123.3 267.8 L123.8 267.6 L124.4 267.5 L125.0 267.3 L125.5 267.2 L126.1 267.0 L126.7 266.8 L127.2 266.6 L127.8 266.4 L128.3 266.2 L128.9 266.0 L129.4 265.8 L130.0 265.6 L130.5 265.3 L131.1 265.1 L131.6 264.8 L132.1 264.6 L132.7 264.3 L133.2 264.0 L133.7 263.7 L134.2 263.4 L134.6 263.1 L135.1 262.7 L135.5 262.4 L136.0 262.0 L136.4 261.6 L136.8 261.2 L137.2 260.8 L137.6 260.4 L138.0 260.0 L138.4 259.5 L138.8 259.1 L139.2 258.7 L139.6 258.3 L140.0 257.9 L140.4 257.5 L140.8 257.1 L141.2 256.6 L141.6 256.2 L142.0 255.8 L142.4 255.3 L142.8 254.9 L143.1 254.4 L143.5 254.0 L143.9 253.5 L144.2 253.1 L144.6 252.6 L144.9 252.1 L145.3 251.7 L145.6 251.2 L145.9 250.7 L146.3 250.2 L146.6 249.7 L146.9 249.2 L147.2 248.7 L147.5 248.2 L147.8 247.7 L148.1 247.2 L148.4 246.7 L148.7 246.2 L149.0 245.7 L149.3 245.2 L149.5 244.7 L149.8 244.1 L150.1 243.6 L150.3 243.1 L150.6 242.6 L150.8 242.0 L151.1 241.5 L151.3 241.0 L151.6 240.4 L151.8 239.9 L152.0 239.4 L152.3 238.8 L152.5 238.3 L152.7 237.8 L152.9 237.2 L153.2 236.7 L153.4 236.2 L153.6 235.6 L153.8 235.1 L154.0 234.5 L154.2 234.0 L154.4 233.4 L154.6 232.9 L154.9 232.4 L155.1 231.8 L155.3 231.3 L155.5 230.7 L155.7 230.2 L155.9 229.6 L156.1 229.1 L156.3 228.5 L156.5 228.0 L156.7 227.5 L156.9 226.9 L157.1 226.4 L157.3 225.8 L157.5 225.3 L157.7 224.7 L158.0 224.2 L158.2 223.7 L158.4 223.1 L158.6 222.6 L158.8 222.0 L159.1 221.5 L159.3 221.0 L159.5 220.4 L159.8 219.9 L160.0 219.4 L160.2 218.8 L160.5 218.3 L160.7 217.8 L161.0 217.2 L161.2 216.7 L161.5 216.2 L161.8 215.7 L162.0 215.1 L162.3 214.6 L162.6 214.1 L162.9 213.6 L163.1 213.1 L163.4 212.6 L163.7 212.0 L164.0 211.5 L164.3 211.0 L164.7 210.5 L165.0 210.0 L165.3 209.5 L165.6 209.1 L166.0 208.6 L166.3 208.1 L166.6 207.6 L167.0 207.1 L167.3 206.6 L167.7 206.2 L168.0 205.7 L168.4 205.3 L168.8 204.8 L169.2 204.4 L169.5 203.9 L169.9 203.5 L170.3 203.0 L170.7 202.6 L171.1 202.2 L171.5 201.8 L171.9 201.3 L172.3 200.9 L172.8 200.5 L173.2 200.1 L173.6 199.8 L174.0 199.4 L174.5 199.0 L174.9 198.6 L175.4 198.3 L175.8 197.9 L176.3 197.6 L176.7 197.2 L177.2 196.9 L177.7 196.6 L178.2 196.3 L178.6 196.0 L179.1 195.7 L179.6 195.4 L180.1 195.1 L180.6 194.8 L181.1 194.5 L181.6 194.3 L182.2 194.0 L182.7 193.8 L183.2 193.5 L183.7 193.3 L184.3 193.1 L184.8 192.9 L185.3 192.6 L185.9 192.4 L186.4 192.2 L187.0 192.0 L187.5 191.8 L188.1 191.6 L188.6 191.5 L189.2 191.3 L189.7 191.1 L190.3 190.9 L190.9 190.8 L191.4 190.6 L192.0 190.4 L192.6 190.3 L193.1 190.1 L193.7 190.0 L194.3 189.8 L194.9 189.7 L195.4 189.5 L196.0 189.4 L196.6 189.2 L197.2 189.1 L197.7 188.9 L198.3 188.8 L198.9 188.7 L199.5 188.5 L200.1 188.4 L200.6 188.2 L201.2 188.1 L201.8 187.9 L202.3 187.8 L202.9 187.6 L203.5 187.5 L204.1 187.3 L204.6 187.2 L205.2 187.0 L205.8 186.9 L206.3 186.7 L206.9 186.6 L207.4 186.4 L208.0 186.2 L208.6 186.1 L209.1 185.9 L209.7 185.7 L210.2 185.6 L210.8 185.4 L211.3 185.2 L211.9 185.0 L212.4 184.9 L213.0 184.7 L213.5 184.5 L214.1 184.4 L214.6 184.2 L215.2 184.0 L215.7 183.8 L216.3 183.7 L216.9 183.5 L217.4 183.3 L218.0 183.2 L218.5 183.0 L219.1 182.8 L219.6 182.7 L220.2 182.5 L220.7 182.3 L221.3 182.2 L221.9 182.0 L222.4 181.9 L223.0 181.7 L223.5 181.5 L224.1 181.4 L224.7 181.3 L225.2 181.1 L225.8 181.0 L226.4 180.8 L227.0 180.7 L227.5 180.6 L228.1 180.5 L228.7 180.3 L229.3 180.2 L229.9 180.1 L230.5 180.0 L231.1 179.9" stroke="#9400d3"/>
<path d="M39.3 271.6 L39.9 271.5 L40.5 271.5 L41.1 271.5 L41.6 271.5 L42.2 271.5 L42.8 271.5 L43.3 271.5 L43.9 271.4 L44.5 271.4 L45.0 271.4 L45.6 271.4 L46.2 271.4 L46.7 271.4 L47.3 271.4 L47.9 271.4 L48.4 271.4 L49.0 271.4 L49.6 271.3 L50.1 271.3 L50.7 271.3 L51.3 271.3 L51.8 271.3 L52.4 271.3 L53.0 271.3 L53.5 271.3 L54.1 271.3 L54.7 271.3 L55.2 271.3 L55.8 271.3 L56.4 271.3 L56.9 271.3 L57.5 271.3 L58.0 271.2 L58.6 271.2 L59.2 271.2 L59.7 271.2 L60.3 271.2 L60.9 271.2 L61.4 271.2 L62.0 271.2 L62.5 271.2 L63.1 271.2 L63.7 271.2 L64.2 271.2 L64.8 271.2 L65.4 271.2 L65.9 271.2 L66.5 271.2 L67.0 271.2 L67.6 271.2 L68.2 271.2 L68.7 271.2 L69.3 271.2 L69.8 271.2 L70.4 271.2 L71.0 271.2 L71.5 271.2 L72.1 271.2 L72.6 271.1 L73.2 271.1 L73.8 271.1 L74.3 271.1 L74.9 271.1 L75.4 271.1 L76.0 271.1 L76.6 271.1 L77.1 271.1 L77.7 271.1 L78.2 271.1 L78.8 271.1 L79.4 271.1 L79.9 271.1 L80.5 271.1 L81.1 271.1 L81.6 271.1 L82.2 271.1 L82.7 271.1 L83.3 271.1 L83.9 271.0 L84.4 271.0 L85.0 271.0 L85.5 271.0 L86.1 271.0 L86.7 271.0 L87.2 271.0 L87.8 271.0 L88.4 271.0 L88.9 271.0 L89.5 271.0 L90.0 271.0 L90.6 270.9 L91.2 270.9 L91.7 270.9 L92.3 270.9 L92.9 270.9 L93.4 270.9 L94.0 270.9 L94.6 270.9 L95.1 270.8 L95.7 270.8 L96.3 270.8 L96.8 270.8 L97.4 270.8 L97.9 270.8 L98.5 270.7 L99.1 270.7 L99.6 270.7 L100.2 270.7 L100.8 270.7 L101.4 270.6 L101.9 270.6 L102.5 270.6 L103.1 270.6 L103.6 270.6 L104.2 270.5 L104.8 270.5 L105.3 270.5 L105.9 270.5 L106.5 270.4 L107.0 270.4 L107.6 270.4 L108.2 270.4 L108.8 270.3 L109.3 270.3 L109.9 270.3 L110.5 270.2 L111.0 270.2 L111.6 270.1 L112.2 270.1 L112.7 270.0 L113.3 270.0 L113.9 269.9 L114.4 269.9 L115.0 269.8 L115.6 269.7 L116.1 269.7 L116.7 269.6 L117.2 269.5 L117.8 269.4 L118.3 269.3 L118.9 269.2 L119.5 269.1 L120.0 269.0 L120.6 268.9 L121.1 268.8 L121.6 268.7 L122.2 268.6 L122.7 268.4 L123.3 268.3 L123.8 268.2 L124.3 268.0 L124.9 267.9 L125.4 267.7 L125.9 267.5 L126.4 267.3 L127.0 267.2 L127.5 267.0 L128.0 266.8 L128.5 266.6 L129.0 266.3 L129.5 266.1 L130.0 265.9 L130.5 265.6 L131.0 265.4 L131.5 265.1 L132.0 264.9 L132.5 264.6 L133.0 264.3 L133.4 264.0 L133.9 263.7 L134.4 263.4 L134.8 263.1 L135.3 262.8 L135.7 262.5 L136.2 262.1 L136.6 261.8 L137.1 261.4 L137.5 261.0 L137.9 260.7 L138.3 260.3 L138.7 259.9 L139.1 259.5 L139.5 259.1 L139.9 258.7 L140.2 258.3 L140.6 257.9 L141.0 257.4 L141.3 257.0 L141.7 256.6 L142.0 256.1 L142.4 255.7 L142.7 255.2 L143.1 254.8 L143.4 254.3 L143.7 253.8 L144.0 253.4 L144.4 252.9 L144.7 252.4 L145.0 252.0 L145.3 251.5 L145.6 251.0 L145.9 250.6 L146.3 250.1 L146.6 249.6 L146.9 249.2 L147.2 248.7 L147.5 248.2 L147.9 247.8 L148.2 247.3 L148.5 246.8 L148.8 246.4 L149.2 245.9 L149.5 245.4 L149.8 245.0 L150.1 244.5 L150.5 244.1 L150.8 243.6 L151.1 243.1 L151.5 242.7 L151.8 242.2 L152.1 241.8 L152.5 241.3 L152.8 240.9 L153.1 240.4 L153.5 240.0 L153.8 239.5 L154.2 239.1 L154.5 238.6 L154.8 238.2 L155.2 237.7 L155.5 237.3 L155.9 236.8 L156.2 236.4 L156.6 235.9 L156.9 235.5 L157.3 235.0 L157.6 234.6 L157.9 234.2 L158.3 233.7 L158.7 233.3 L159.0 232.8 L159.4 232.4 L159.7 232.0 L160.1 231.5 L160.4 231.1 L160.8 230.7 L161.1 230.2 L161.5 229.8 L161.9 229.4 L162.2 228.9 L162.6 228.5 L163.0 228.1 L163.3 227.7 L163.7 227.2 L164.1 226.8 L164.4 226.4 L164.8 226.0 L165.2 225.5 L165.5 225.1 L165.9 224.7 L166.3 224.3 L166.7 223.9 L167.0 223.4 L167.4 223.0 L167.8 222.6 L168.2 222.2 L168.6 221.8 L168.9 221.4 L169.3 221.0 L169.7 220.6 L170.1 220.1 L170.5 219.7 L170.9 219.3 L171.3 218.9 L171.7 218.5 L172.1 218.1 L172.4 217.7 L172.8 217.3 L173.2 216.9 L173.6 216.5 L174.0 216.1 L174.4 215.7 L174.8 215.3 L175.2 214.9 L175.6 214.5 L176.0 214.2 L176.4 213.8 L176.9 213.4 L177.3 213.0 L177.7 212.6 L178.1 212.2 L178.5 211.8 L178.9 211.4 L179.3 211.1 L179.7 210.7 L180.2 210.3 L180.6 209.9 L181.0 209.5 L181.4 209.2 L181.8 208.8 L182.3 208.4 L182.7 208.0 L183.1 207.7 L183.5 207.3 L184.0 206.9 L184.4 206.6 L184.8 206.2 L185.3 205.8 L185.7 205.5 L186.1 205.1 L186.6 204.7 L187.0 204.4 L187.4 204.0 L187.9 203.7 L188.3 203.3 L188.8 203.0 L189.2 202.6 L189.7 202.3 L190.1 201.9 L190.6 201.6 L191.0 201.2 L191.5 200.9 L191.9 200.6 L192.4 200.2 L192.8 199.9 L193.3 199.6 L193.8 199.3 L194.2 198.9 L194.7 198.6 L195.1 198.3 L195.6 198.0 L196.1 197.7 L196.6 197.4 L197.0 197.0 L197.5 196.7 L198.0 196.4 L198.5 196.1 L198.9 195.8 L199.4 195.6 L199.9 195.3 L200.4 195.0 L200.9 194.7 L201.3 194.4 L201.8 194.1 L202.3 193.9 L202.8 193.6 L203.3 193.3 L203.8 193.1 L204.3 192.8 L204.8 192.6 L205.3 192.3 L205.8 192.1 L206.3 191.8 L206.8 191.6 L207.3 191.4 L207.8 191.1 L208.4 190.9 L208.9 190.7 L209.4 190.5 L209.9 190.3 L210.4 190.1 L210.9 189.8 L211.5 189.6 L212.0 189.5 L212.5 189.3 L213.1 189.1 L213.6 188.9 L214.1 188.7 L214.6 188.5 L215.2 188.4 L215.7 188.2 L216.3 188.0 L216.8 187.8 L217.3 187.7 L217.9 187.5 L218.4 187.4 L219.0 187.2 L219.5 187.1 L220.0 186.9 L220.6 186.8 L221.1 186.6 L221.7 186.5 L222.2 186.3 L222.8 186.2 L223.3 186.0 L223.9 185.9 L224.4 185.8 L225.0 185.6 L225.5 185.5 L226.1 185.4 L226.6 185.3 L227.2 185.1 L227.7 185.0 L228.3 184.9 L228.8 184.7 L229.4 184.6 L229.9 184.5 L230.5 184.4 L231.0 184.2" stroke="#7221bc"/>
<path d="M39.4 272.2 L39.9 272.2 L40.5 272.2 L41.0 272.1 L41.6 272.1 L42.1 272.1 L42.7 272.1 L43.3 272.1 L43.8 272.1 L44.4 272.0 L44.9 272.0 L45.5 272.0 L46.0 272.0 L46.6 272.0 L47.1 272.0 L47.7 272.0 L48.2 272.0 L48.8 272.0 L49.3 272.0 L49.9 272.0 L50.4 272.0 L51.0 272.0 L51.5 272.0 L52.1 272.0 L52.6 272.0 L53.2 272.0 L53.7 272.0 L54.3 272.0 L54.8 272.0 L55.4 272.0 L56.0 272.1 L56.5 272.1 L57.1 272.1 L57.6 272.1 L58.2 272.1 L58.7 272.1 L59.3 272.1 L59.8 272.1 L60.4 272.1 L60.9 272.2 L61.5 272.2 L62.0 272.2 L62.6 272.2 L63.1 272.2 L63.7 272.2 L64.2 272.2 L64.8 272.3 L65.3 272.3 L65.9 272.3 L66.4 272.3 L67.0 272.3 L67.5 272.3 L68.1 272.4 L68.6 272.4 L69.2 272.4 L69.7 272.4 L70.3 272.4 L70.8 272.4 L71.4 272.5 L71.9 272.5 L72.5 272.5 L73.0 272.5 L73.6 272.5 L74.1 272.5 L74.7 272.6 L75.2 272.6 L75.8 272.6 L76.3 272.6 L76.9 272.6 L77.4 272.6 L78.0 272.7 L78.5 272.7 L79.1 272.7 L79.6 272.7 L80.2 272.7 L80.7 272.7 L81.3 272.7 L81.8 272.7 L82.4 272.8 L82.9 272.8 L83.5 272.8 L84.0 272.8 L84.6 272.8 L85.1 272.8 L85.7 272.8 L86.2 272.8 L86.8 272.8 L87.3 272.8 L87.9 272.8 L88.4 272.8 L89.0 272.8 L89.5 272.8 L90.1 272.8 L90.6 272.8 L91.2 272.8 L91.7 272.8 L92.3 272.8 L92.8 272.8 L93.4 272.8 L93.9 272.8 L94.5 272.8 L95.0 272.8 L95.6 272.8 L96.1 272.8 L96.7 272.8 L97.2 272.8 L97.8 272.8 L98.3 272.7 L98.9 272.7 L99.4 272.7 L100.0 272.7 L100.5 272.7 L101.1 272.6 L101.7 272.6 L102.2 272.6 L102.8 272.6 L103.3 272.5 L103.9 272.5 L104.4 272.5 L105.0 272.4 L105.5 272.4 L106.1 272.4 L106.6 272.3 L107.2 272.3 L107.7 272.2 L108.3 272.2 L108.9 272.2 L109.4 272.1 L110.0 272.1 L110.5 272.0 L111.1 271.9 L111.6 271.9 L112.2 271.8 L112.7 271.7 L113.3 271.7 L113.8 271.6 L114.3 271.5 L114.9 271.4 L115.4 271.4 L116.0 271.3 L116.5 271.2 L117.1 271.1 L117.6 271.0 L118.1 270.9 L118.7 270.8 L119.2 270.6 L119.7 270.5 L120.3 270.4 L120.8 270.3 L121.3 270.1 L121.9 270.0 L122.4 269.9 L122.9 269.7 L123.4 269.6 L123.9 269.4 L124.5 269.2 L125.0 269.1 L125.5 268.9 L126.0 268.7 L126.5 268.5 L127.0 268.3 L127.5 268.1 L128.0 267.9 L128.5 267.7 L129.0 267.5 L129.5 267.2 L130.0 267.0 L130.5 266.7 L131.0 266.5 L131.4 266.2 L131.9 266.0 L132.4 265.7 L132.9 265.4 L133.3 265.1 L133.8 264.9 L134.3 264.6 L134.7 264.3 L135.2 264.0 L135.7 263.7 L136.1 263.4 L136.6 263.0 L137.0 262.7 L137.5 262.4 L137.9 262.1 L138.3 261.7 L138.8 261.4 L139.2 261.1 L139.6 260.7 L140.1 260.4 L140.5 260.0 L140.9 259.7 L141.4 259.3 L141.8 258.9 L142.2 258.6 L142.6 258.2 L143.0 257.8 L143.4 257.5 L143.9 257.1 L144.3 256.7 L144.7 256.4 L145.1 256.0 L145.5 255.6 L145.9 255.2 L146.3 254.9 L146.7 254.5 L147.1 254.1 L147.5 253.7 L147.9 253.3 L148.3 252.9 L148.7 252.6 L149.1 252.2 L149.5 251.8 L149.9 251.4 L150.3 251.0 L150.7 250.6 L151.1 250.3 L151.5 249.9 L151.9 249.5 L152.2 249.1 L152.6 248.7 L153.0 248.3 L153.4 247.9 L153.8 247.5 L154.2 247.1 L154.6 246.7 L155.0 246.4 L155.4 246.0 L155.8 245.6 L156.1 245.2 L156.5 244.8 L156.9 244.4 L157.3 244.0 L157.7 243.6 L158.1 243.2 L158.5 242.8 L158.9 242.4 L159.2 242.0 L159.6 241.6 L160.0 241.2 L160.4 240.8 L160.8 240.5 L161.2 240.1 L161.6 239.7 L161.9 239.3 L162.3 238.9 L162.7 238.5 L163.1 238.1 L163.5 237.7 L163.9 237.3 L164.3 236.9 L164.6 236.5 L165.0 236.1 L165.4 235.7 L165.8 235.3 L166.2 234.9 L166.6 234.5 L167.0 234.2 L167.3 233.8 L167.7 233.4 L168.1 233.0 L168.5 232.6 L168.9 232.2 L169.3 231.8 L169.7 231.4 L170.1 231.0 L170.4 230.6 L170.8 230.2 L171.2 229.9 L171.6 229.5 L172.0 229.1 L172.4 228.7 L172.8 228.3 L173.2 227.9 L173.6 227.5 L174.0 227.2 L174.4 226.8 L174.8 226.4 L175.1 226.0 L175.5 225.6 L175.9 225.2 L176.3 224.9 L176.7 224.5 L177.1 224.1 L177.5 223.7 L177.9 223.4 L178.3 223.0 L178.7 222.6 L179.1 222.2 L179.5 221.9 L179.9 221.5 L180.4 221.1 L180.8 220.7 L181.2 220.4 L181.6 220.0 L182.0 219.6 L182.4 219.3 L182.8 218.9 L183.2 218.6 L183.6 218.2 L184.0 217.8 L184.5 217.5 L184.9 217.1 L185.3 216.7 L185.7 216.4 L186.1 216.0 L186.6 215.7 L187.0 215.3 L187.4 215.0 L187.8 214.6 L188.3 214.3 L188.7 213.9 L189.1 213.6 L189.5 213.2 L190.0 212.9 L190.4 212.6 L190.8 212.2 L191.3 211.9 L191.7 211.5 L192.1 211.2 L192.6 210.9 L193.0 210.5 L193.5 210.2 L193.9 209.9 L194.3 209.5 L194.8 209.2 L195.2 208.9 L195.7 208.6 L196.1 208.2 L196.6 207.9 L197.0 207.6 L197.5 207.3 L197.9 207.0 L198.4 206.6 L198.8 206.3 L199.3 206.0 L199.7 205.7 L200.2 205.4 L200.7 205.1 L201.1 204.8 L201.6 204.5 L202.0 204.2 L202.5 203.9 L203.0 203.6 L203.4 203.3 L203.9 203.0 L204.4 202.7 L204.8 202.4 L205.3 202.1 L205.8 201.8 L206.2 201.5 L206.7 201.2 L207.2 201.0 L207.7 200.7 L208.1 200.4 L208.6 200.1 L209.1 199.8 L209.6 199.6 L210.0 199.3 L210.5 199.0 L211.0 198.8 L211.5 198.5 L212.0 198.2 L212.5 198.0 L212.9 197.7 L213.4 197.4 L213.9 197.2 L214.4 196.9 L214.9 196.7 L215.4 196.4 L215.9 196.2 L216.4 195.9 L216.9 195.7 L217.3 195.4 L217.8 195.2 L218.3 194.9 L218.8 194.7 L219.3 194.5 L219.8 194.2 L220.3 194.0 L220.8 193.8 L221.3 193.5 L221.8 193.3 L222.3 193.1 L222.8 192.9 L223.3 192.7 L223.8 192.4 L224.3 192.2 L224.9 192.0 L225.4 191.8 L225.9 191.6 L226.4 191.4 L226.9 191.2 L227.4 191.0 L227.9 190.8 L228.4 190.6 L228.9 190.4 L229.4 190.2 L230.0 190.0 L230.5 189.8 L231.0 189.6" stroke="#0000ff"/>
<path d="M39.3 272.6 L39.9 272.6 L40.5 272.6 L41.0 272.6 L41.6 272.7 L42.1 272.7 L42.7 272.7 L43.2 272.7 L43.8 272.7 L44.4 272.8 L44.9 272.8 L45.5 272.8 L46.0 272.8 L46.6 272.9 L47.1 272.9 L47.7 272.9 L48.2 272.9 L48.8 273.0 L49.3 273.0 L49.9 273.0 L50.5 273.0 L51.0 273.1 L51.6 273.1 L52.1 273.1 L52.7 273.2 L53.2 273.2 L53.8 273.2 L54.3 273.3 L54.9 273.3 L55.4 273.3 L56.0 273.3 L56.5 273.4 L57.1 273.4 L57.6 273.5 L58.2 273.5 L58.7 273.5 L59.3 273.6 L59.8 273.6 L60.4 273.6 L60.9 273.7 L61.5 273.7 L62.0 273.7 L62.6 273.8 L63.1 273.8 L63.6 273.9 L64.2 273.9 L64.7 273.9 L65.3 274.0 L65.8 274.0 L66.4 274.1 L66.9 274.1 L67.5 274.1 L68.0 274.2 L68.6 274.2 L69.1 274.3 L69.7 274.3 L70.2 274.3 L70.8 274.4 L71.3 274.4 L71.9 274.5 L72.4 274.5 L73.0 274.5 L73.5 274.6 L74.0 274.6 L74.6 274.7 L75.1 274.7 L75.7 274.7 L76.2 274.8 L76.8 274.8 L77.3 274.9 L77.9 274.9 L78.4 274.9 L79.0 275.0 L79.5 275.0 L80.1 275.1 L80.6 275.1 L81.2 275.1 L81.7 275.2 L82.3 275.2 L82.8 275.3 L83.4 275.3 L83.9 275.3 L84.5 275.4 L85.0 275.4 L85.5 275.4 L86.1 275.5 L86.6 275.5 L87.2 275.6 L87.7 275.6 L88.3 275.6 L88.8 275.7 L89.4 275.7 L89.9 275.7 L90.5 275.8 L91.0 275.8 L91.6 275.8 L92.1 275.9 L92.7 275.9 L93.2 275.9 L93.8 276.0 L94.4 276.0 L94.9 276.0 L95.5 276.0 L96.0 276.1 L96.6 276.1 L97.1 276.1 L97.7 276.2 L98.2 276.2 L98.8 276.2 L99.3 276.2 L99.9 276.3 L100.4 276.3 L101.0 276.3 L101.5 276.3 L102.1 276.3 L102.7 276.4 L103.2 276.4 L103.8 276.4 L104.3 276.4 L104.9 276.4 L105.4 276.5 L106.0 276.5 L106.6 276.5 L107.1 276.5 L107.7 276.5 L108.2 276.5 L108.8 276.5 L109.4 276.5 L109.9 276.5 L110.5 276.5 L111.0 276.5 L111.6 276.5 L112.1 276.5 L112.7 276.5 L113.3 276.5 L113.8 276.5 L114.4 276.5 L114.9 276.5 L115.5 276.4 L116.0 276.4 L116.6 276.4 L117.1 276.3 L117.7 276.3 L118.2 276.3 L118.8 276.2 L119.3 276.2 L119.9 276.1 L120.4 276.1 L121.0 276.0 L121.5 275.9 L122.0 275.8 L122.6 275.8 L123.1 275.7 L123.7 275.6 L124.2 275.5 L124.7 275.4 L125.3 275.3 L125.8 275.2 L126.3 275.0 L126.8 274.9 L127.4 274.8 L127.9 274.6 L128.4 274.5 L128.9 274.4 L129.4 274.2 L130.0 274.0 L130.5 273.9 L131.0 273.7 L131.5 273.5 L132.0 273.3 L132.5 273.1 L133.0 272.9 L133.5 272.7 L134.0 272.5 L134.5 272.2 L135.0 272.0 L135.5 271.8 L136.0 271.5 L136.5 271.3 L136.9 271.0 L137.4 270.8 L137.9 270.5 L138.4 270.3 L138.9 270.0 L139.3 269.7 L139.8 269.4 L140.3 269.2 L140.7 268.9 L141.2 268.6 L141.7 268.3 L142.1 268.0 L142.6 267.7 L143.1 267.4 L143.5 267.1 L144.0 266.8 L144.4 266.5 L144.9 266.1 L145.3 265.8 L145.8 265.5 L146.2 265.2 L146.7 264.8 L147.1 264.5 L147.6 264.2 L148.0 263.8 L148.5 263.5 L148.9 263.2 L149.3 262.8 L149.8 262.5 L150.2 262.1 L150.6 261.8 L151.1 261.4 L151.5 261.1 L151.9 260.7 L152.4 260.4 L152.8 260.0 L153.2 259.7 L153.6 259.3 L154.1 259.0 L154.5 258.6 L154.9 258.2 L155.3 257.9 L155.7 257.5 L156.1 257.1 L156.6 256.8 L157.0 256.4 L157.4 256.0 L157.8 255.7 L158.2 255.3 L158.6 254.9 L159.0 254.6 L159.4 254.2 L159.8 253.8 L160.2 253.4 L160.6 253.1 L161.0 252.7 L161.4 252.3 L161.8 251.9 L162.2 251.6 L162.6 251.2 L163.0 250.8 L163.4 250.4 L163.8 250.0 L164.2 249.7 L164.6 249.3 L165.0 248.9 L165.4 248.5 L165.8 248.1 L166.2 247.7 L166.6 247.4 L167.0 247.0 L167.4 246.6 L167.8 246.2 L168.2 245.8 L168.6 245.4 L169.0 245.0 L169.3 244.6 L169.7 244.3 L170.1 243.9 L170.5 243.5 L170.9 243.1 L171.3 242.7 L171.7 242.3 L172.1 241.9 L172.5 241.5 L172.8 241.1 L173.2 240.7 L173.6 240.4 L174.0 240.0 L174.4 239.6 L174.8 239.2 L175.2 238.8 L175.6 238.4 L176.0 238.0 L176.3 237.6 L176.7 237.2 L177.1 236.8 L177.5 236.5 L177.9 236.1 L178.3 235.7 L178.7 235.3 L179.1 234.9 L179.5 234.5 L179.9 234.1 L180.2 233.7 L180.6 233.4 L181.0 233.0 L181.4 232.6 L181.8 232.2 L182.2 231.8 L182.6 231.4 L183.0 231.0 L183.4 230.7 L183.8 230.3 L184.2 229.9 L184.6 229.5 L185.0 229.1 L185.4 228.8 L185.8 228.4 L186.2 228.0 L186.6 227.6 L187.0 227.2 L187.4 226.9 L187.8 226.5 L188.2 226.1 L188.6 225.7 L189.0 225.4 L189.4 225.0 L189.8 224.6 L190.2 224.3 L190.7 223.9 L191.1 223.5 L191.5 223.1 L191.9 222.8 L192.3 222.4 L192.7 222.0 L193.1 221.7 L193.6 221.3 L194.0 221.0 L194.4 220.6 L194.8 220.2 L195.2 219.9 L195.6 219.5 L196.1 219.2 L196.5 218.8 L196.9 218.4 L197.3 218.1 L197.8 217.7 L198.2 217.4 L198.6 217.0 L199.0 216.7 L199.5 216.3 L199.9 216.0 L200.3 215.6 L200.7 215.3 L201.2 214.9 L201.6 214.6 L202.0 214.3 L202.5 213.9 L202.9 213.6 L203.3 213.2 L203.8 212.9 L204.2 212.6 L204.7 212.2 L205.1 211.9 L205.5 211.6 L206.0 211.2 L206.4 210.9 L206.8 210.6 L207.3 210.2 L207.7 209.9 L208.2 209.6 L208.6 209.2 L209.1 208.9 L209.5 208.6 L210.0 208.3 L210.4 208.0 L210.9 207.6 L211.3 207.3 L211.8 207.0 L212.2 206.7 L212.7 206.4 L213.1 206.1 L213.6 205.7 L214.0 205.4 L214.5 205.1 L214.9 204.8 L215.4 204.5 L215.8 204.2 L216.3 203.9 L216.8 203.6 L217.2 203.3 L217.7 203.0 L218.1 202.7 L218.6 202.4 L219.1 202.1 L219.5 201.8 L220.0 201.5 L220.5 201.2 L220.9 200.9 L221.4 200.6 L221.9 200.3 L222.3 200.1 L222.8 199.8 L223.3 199.5 L223.7 199.2 L224.2 198.9 L224.7 198.6 L225.1 198.4 L225.6 198.1 L226.1 197.8 L226.6 197.5 L227.0 197.3 L227.5 197.0 L228.0 196.7 L228.5 196.5 L229.0 196.2 L229.4 195.9 L229.9 195.7 L230.4 195.4 L230.9 195.2" stroke="#ff00ff"/>
<path d="M39.4 273.7 L39.9 273.7 L40.5 273.7 L41.0 273.8 L41.6 273.8 L42.2 273.8 L42.7 273.9 L43.3 273.9 L43.8 274.0 L44.4 274.0 L44.9 274.0 L45.5 274.1 L46.1 274.1 L46.6 274.2 L47.2 274.2 L47.7 274.3 L48.3 274.3 L48.8 274.4 L49.4 274.4 L50.0 274.5 L50.5 274.5 L51.1 274.6 L51.6 274.6 L52.2 274.7 L52.7 274.7 L53.3 274.8 L53.8 274.9 L54.4 274.9 L54.9 275.0 L55.5 275.0 L56.0 275.1 L56.6 275.2 L57.1 275.2 L57.7 275.3 L58.3 275.3 L58.8 275.4 L59.4 275.5 L59.9 275.5 L60.5 275.6 L61.0 275.7 L61.6 275.7 L62.1 275.8 L62.7 275.9 L63.2 275.9 L63.8 276.0 L64.3 276.1 L64.9 276.1 L65.4 276.2 L66.0 276.3 L66.5 276.3 L67.1 276.4 L67.6 276.5 L68.2 276.5 L68.7 276.6 L69.3 276.7 L69.8 276.7 L70.4 276.8 L70.9 276.9 L71.5 277.0 L72.0 277.0 L72.6 277.1 L73.1 277.2 L73.7 277.2 L74.2 277.3 L74.8 277.4 L75.3 277.5 L75.9 277.5 L76.4 277.6 L77.0 277.7 L77.5 277.8 L78.1 277.8 L78.6 277.9 L79.2 278.0 L79.7 278.1 L80.3 278.1 L80.8 278.2 L81.4 278.3 L81.9 278.3 L82.5 278.4 L83.0 278.5 L83.6 278.6 L84.1 278.6 L84.7 278.7 L85.2 278.8 L85.8 278.9 L86.3 278.9 L86.9 279.0 L87.4 279.1 L88.0 279.1 L88.5 279.2 L89.1 279.3 L89.6 279.4 L90.2 279.4 L90.7 279.5 L91.3 279.6 L91.8 279.6 L92.4 279.7 L93.0 279.8 L93.5 279.9 L94.1 279.9 L94.6 280.0 L95.2 280.1 L95.7 280.1 L96.3 280.2 L96.8 280.3 L97.4 280.3 L97.9 280.4 L98.5 280.5 L99.0 280.5 L99.6 280.6 L100.2 280.7 L100.7 280.7 L101.3 280.8 L101.8 280.9 L102.4 280.9 L102.9 281.0 L103.5 281.0 L104.1 281.1 L104.6 281.2 L105.2 281.2 L105.7 281.3 L106.3 281.3 L106.8 281.4 L107.4 281.4 L108.0 281.5 L108.5 281.6 L109.1 281.6 L109.6 281.7 L110.2 281.7 L110.8 281.7 L111.3 281.8 L111.9 281.8 L112.4 281.9 L113.0 281.9 L113.6 281.9 L114.1 282.0 L114.7 282.0 L115.2 282.0 L115.8 282.0 L116.3 282.1 L116.9 282.1 L117.5 282.1 L118.0 282.1 L118.6 282.1 L119.1 282.1 L119.7 282.1 L120.2 282.1 L120.8 282.1 L121.3 282.1 L121.9 282.1 L122.4 282.0 L123.0 282.0 L123.5 282.0 L124.1 281.9 L124.6 281.9 L125.2 281.8 L125.7 281.8 L126.3 281.7 L126.8 281.7 L127.4 281.6 L127.9 281.5 L128.4 281.4 L129.0 281.3 L129.5 281.2 L130.1 281.1 L130.6 281.0 L131.1 280.9 L131.7 280.8 L132.2 280.7 L132.7 280.5 L133.3 280.4 L133.8 280.3 L134.3 280.1 L134.8 280.0 L135.4 279.8 L135.9 279.6 L136.4 279.5 L136.9 279.3 L137.5 279.1 L138.0 278.9 L138.5 278.7 L139.0 278.5 L139.5 278.3 L140.0 278.1 L140.5 277.9 L141.0 277.7 L141.5 277.4 L142.0 277.2 L142.5 277.0 L143.0 276.7 L143.5 276.5 L144.0 276.2 L144.5 276.0 L145.0 275.7 L145.5 275.5 L146.0 275.2 L146.5 274.9 L146.9 274.6 L147.4 274.4 L147.9 274.1 L148.4 273.8 L148.9 273.5 L149.3 273.2 L149.8 272.9 L150.3 272.6 L150.7 272.3 L151.2 272.0 L151.7 271.7 L152.1 271.4 L152.6 271.1 L153.1 270.7 L153.5 270.4 L154.0 270.1 L154.4 269.8 L154.9 269.4 L155.4 269.1 L155.8 268.8 L156.3 268.5 L156.7 268.1 L157.2 267.8 L157.6 267.5 L158.0 267.1 L158.5 266.8 L158.9 266.4 L159.4 266.1 L159.8 265.7 L160.3 265.4 L160.7 265.1 L161.1 264.7 L161.6 264.4 L162.0 264.0 L162.4 263.7 L162.9 263.3 L163.3 262.9 L163.7 262.6 L164.2 262.2 L164.6 261.9 L165.0 261.5 L165.4 261.1 L165.9 260.8 L166.3 260.4 L166.7 260.1 L167.1 259.7 L167.6 259.3 L168.0 259.0 L168.4 258.6 L168.8 258.2 L169.2 257.9 L169.6 257.5 L170.1 257.1 L170.5 256.7 L170.9 256.4 L171.3 256.0 L171.7 255.6 L172.1 255.2 L172.5 254.9 L172.9 254.5 L173.4 254.1 L173.8 253.7 L174.2 253.4 L174.6 253.0 L175.0 252.6 L175.4 252.2 L175.8 251.8 L176.2 251.5 L176.6 251.1 L177.0 250.7 L177.4 250.3 L177.8 249.9 L178.2 249.6 L178.6 249.2 L179.0 248.8 L179.4 248.4 L179.8 248.0 L180.2 247.6 L180.6 247.3 L181.0 246.9 L181.4 246.5 L181.8 246.1 L182.2 245.7 L182.6 245.3 L183.0 244.9 L183.4 244.6 L183.8 244.2 L184.2 243.8 L184.6 243.4 L185.0 243.0 L185.4 242.6 L185.8 242.2 L186.2 241.8 L186.6 241.4 L187.0 241.0 L187.4 240.6 L187.7 240.2 L188.1 239.8 L188.5 239.4 L188.9 239.1 L189.3 238.7 L189.7 238.3 L190.1 237.9 L190.5 237.5 L190.8 237.1 L191.2 236.7 L191.6 236.3 L192.0 235.9 L192.4 235.5 L192.8 235.1 L193.1 234.7 L193.5 234.3 L193.9 233.9 L194.3 233.4 L194.7 233.0 L195.1 232.6 L195.4 232.2 L195.8 231.8 L196.2 231.4 L196.6 231.0 L197.0 230.6 L197.4 230.2 L197.7 229.8 L198.1 229.4 L198.5 229.0 L198.9 228.6 L199.3 228.2 L199.7 227.8 L200.1 227.4 L200.4 227.0 L200.8 226.6 L201.2 226.2 L201.6 225.8 L202.0 225.4 L202.4 225.0 L202.8 224.6 L203.1 224.2 L203.5 223.8 L203.9 223.4 L204.3 223.0 L204.7 222.6 L205.1 222.2 L205.5 221.8 L205.9 221.4 L206.3 221.0 L206.7 220.7 L207.1 220.3 L207.5 219.9 L207.9 219.5 L208.3 219.1 L208.7 218.7 L209.1 218.3 L209.5 217.9 L209.9 217.5 L210.3 217.2 L210.7 216.8 L211.1 216.4 L211.5 216.0 L211.9 215.6 L212.3 215.3 L212.7 214.9 L213.1 214.5 L213.5 214.1 L213.9 213.7 L214.3 213.4 L214.7 213.0 L215.2 212.6 L215.6 212.3 L216.0 211.9 L216.4 211.5 L216.8 211.2 L217.2 210.8 L217.7 210.4 L218.1 210.1 L218.5 209.7 L218.9 209.4 L219.4 209.0 L219.8 208.7 L220.2 208.3 L220.7 208.0 L221.1 207.6 L221.5 207.3 L222.0 206.9 L222.4 206.6 L222.8 206.2 L223.3 205.9 L223.7 205.6 L224.2 205.2 L224.6 204.9 L225.1 204.6 L225.5 204.2 L226.0 203.9 L226.4 203.6 L226.9 203.3 L227.3 202.9 L227.8 202.6 L228.3 202.3 L228.7 202.0 L229.2 201.7 L229.7 201.4 L230.1 201.1 L230.6 200.8 L231.1 200.5" stroke="#00ffff"/>
</g>
<path d="M39.50 271.60H47.90 M39.50 247.18H47.90 M39.50 222.76H47.90 M39.50 198.34H47.90 M39.50 173.92H47.90 M39.50 283.81H43.90 M39.50 259.39H43.90 M39.50 234.97H43.90 M39.50 210.55H43.90 M39.50 186.13H43.90 M81.84 295.85V287.45 M124.19 295.85V287.45 M166.53 295.85V287.45 M208.88 295.85V287.45 M60.67 295.85V291.45 M103.02 295.85V291.45 M145.36 295.85V291.45 M187.71 295.85V291.45" stroke="#000" stroke-width="1.3" fill="none"/>
<rect x="39.50" y="161.65" width="190.55" height="134.20" fill="none" stroke="#000" stroke-width="1.7"/>
<text x="51.00" y="180.40" font-size="16.3" font-weight="bold">(b)</text>
<text transform="translate(36.0 275.50) scale(0.933 1)" font-size="12" text-anchor="end">0</text>
<text transform="translate(36.0 251.08) scale(0.933 1)" font-size="12" text-anchor="end">1</text>
<text transform="translate(36.0 226.66) scale(0.933 1)" font-size="12" text-anchor="end">2</text>
<text transform="translate(36.0 202.24) scale(0.933 1)" font-size="12" text-anchor="end">3</text>
<text transform="translate(36.0 177.82) scale(0.933 1)" font-size="12" text-anchor="end">4</text>
<g transform="translate(16.2 294.70) rotate(-90)">
<text x="0" y="0" font-size="13.85">Absorption</text>
<text x="65.6" y="0" font-size="13.5">(10</text>
<text x="84.5" y="-7.8" font-size="8.5">4</text>
<text x="92.3" y="0" font-size="13.5">cm</text>
<text x="109.8" y="-7.8" font-size="8.5">-1</text>
<text x="118.1" y="0" font-size="13.5">)</text>
</g>
<text transform="translate(39.50 307.8) scale(0.933 1)" font-size="12" text-anchor="middle">-30</text>
<text transform="translate(81.84 307.8) scale(0.933 1)" font-size="12" text-anchor="middle">-20</text>
<text transform="translate(124.19 307.8) scale(0.933 1)" font-size="12" text-anchor="middle">-10</text>
<text transform="translate(166.53 307.8) scale(0.933 1)" font-size="12" text-anchor="middle">0</text>
<text transform="translate(208.88 307.8) scale(0.933 1)" font-size="12" text-anchor="middle">10</text>
<text x="100.00" y="330" font-size="13.5">(E-E</text>
<text x="126.00" y="335.1" font-size="9">gap</text>
<text x="140.70" y="330" font-size="13.5">)/E</text>
<text x="157.20" y="335.1" font-size="9">0,b</text>
<clipPath id="clipc"><rect x="268.50" y="0.65" width="190.55" height="134.20"/></clipPath>
<g clip-path="url(#clipc)" fill="none" stroke-width="1.5" stroke-linejoin="round">
<path d="M268.4 111.0 L269.0 111.0 L269.6 111.0 L270.2 111.0 L270.9 111.0 L271.5 111.0 L272.1 111.0 L272.7 111.0 L273.3 111.0 L273.9 111.0 L274.6 111.0 L275.2 111.0 L275.8 111.0 L276.4 111.0 L277.0 111.0 L277.6 111.0 L278.3 111.0 L278.9 111.0 L279.5 111.0 L280.1 111.0 L280.7 110.9 L281.3 110.9 L281.9 110.9 L282.6 110.9 L283.2 110.9 L283.8 110.9 L284.4 110.9 L285.0 110.9 L285.6 110.9 L286.3 110.9 L286.9 110.9 L287.5 110.9 L288.1 110.9 L288.7 110.9 L289.3 110.9 L290.0 110.9 L290.6 110.9 L291.2 110.9 L291.8 110.9 L292.4 110.9 L293.0 110.9 L293.6 110.9 L294.3 110.9 L294.9 110.9 L295.5 110.9 L296.1 110.9 L296.7 110.9 L297.3 110.9 L298.0 110.9 L298.6 110.9 L299.2 110.9 L299.8 110.9 L300.4 110.9 L301.0 110.9 L301.7 110.9 L302.3 110.9 L302.9 110.9 L303.5 110.9 L304.1 110.9 L304.7 110.9 L305.4 110.9 L306.0 110.9 L306.6 110.9 L307.2 110.9 L307.8 110.9 L308.4 110.8 L309.0 110.8 L309.7 110.8 L310.3 110.8 L310.9 110.8 L311.5 110.8 L312.1 110.8 L312.7 110.8 L313.4 110.8 L314.0 110.8 L314.6 110.8 L315.2 110.8 L315.8 110.8 L316.4 110.8 L317.0 110.8 L317.7 110.8 L318.3 110.8 L318.9 110.8 L319.5 110.8 L320.1 110.7 L320.7 110.7 L321.3 110.7 L322.0 110.7 L322.6 110.7 L323.2 110.7 L323.8 110.7 L324.4 110.7 L325.0 110.6 L325.7 110.6 L326.3 110.6 L326.9 110.6 L327.5 110.6 L328.1 110.5 L328.7 110.5 L329.4 110.5 L330.0 110.5 L330.6 110.4 L331.2 110.4 L331.8 110.4 L332.4 110.3 L333.0 110.3 L333.7 110.2 L334.3 110.2 L334.9 110.1 L335.5 110.0 L336.1 110.0 L336.7 109.9 L337.3 109.8 L337.9 109.7 L338.5 109.6 L339.2 109.5 L339.8 109.4 L340.4 109.3 L341.0 109.2 L341.6 109.1 L342.2 108.9 L342.8 108.8 L343.4 108.6 L344.0 108.5 L344.6 108.3 L345.2 108.1 L345.7 107.9 L346.3 107.7 L346.9 107.5 L347.5 107.3 L348.1 107.1 L348.6 106.9 L349.2 106.6 L349.7 106.4 L350.3 106.1 L350.8 105.9 L351.4 105.6 L351.9 105.3 L352.5 105.0 L353.0 104.7 L353.5 104.4 L354.0 104.0 L354.5 103.7 L355.0 103.3 L355.5 103.0 L356.0 102.6 L356.5 102.2 L357.0 101.9 L357.5 101.5 L357.9 101.0 L358.4 100.6 L358.8 100.2 L359.3 99.8 L359.7 99.4 L360.2 98.9 L360.6 98.5 L361.0 98.0 L361.4 97.5 L361.8 97.1 L362.2 96.6 L362.6 96.1 L363.0 95.7 L363.4 95.2 L363.7 94.7 L364.1 94.2 L364.4 93.7 L364.8 93.2 L365.1 92.7 L365.5 92.1 L365.8 91.6 L366.1 91.1 L366.4 90.6 L366.7 90.1 L367.0 89.5 L367.3 89.0 L367.6 88.5 L367.9 87.9 L368.2 87.4 L368.4 86.8 L368.7 86.3 L369.0 85.7 L369.2 85.2 L369.5 84.6 L369.7 84.0 L370.0 83.5 L370.2 82.9 L370.4 82.3 L370.7 81.8 L370.9 81.2 L371.1 80.6 L371.3 80.0 L371.5 79.5 L371.7 78.9 L371.9 78.3 L372.1 77.7 L372.3 77.1 L372.5 76.5 L372.7 76.0 L372.9 75.4 L373.1 74.8 L373.3 74.2 L373.5 73.6 L373.6 73.0 L373.8 72.4 L374.0 71.8 L374.2 71.2 L374.3 70.6 L374.5 70.0 L374.7 69.4 L374.8 68.8 L375.0 68.2 L375.2 67.6 L375.3 67.0 L375.5 66.4 L375.6 65.8 L375.8 65.3 L376.0 64.7 L376.1 64.1 L376.3 63.5 L376.4 62.9 L376.6 62.3 L376.7 61.7 L376.9 61.1 L377.0 60.5 L377.2 59.9 L377.3 59.3 L377.5 58.7 L377.6 58.1 L377.8 57.5 L378.0 56.9 L378.1 56.3 L378.3 55.7 L378.4 55.1 L378.6 54.5 L378.7 54.0 L378.9 53.4 L379.1 52.8 L379.2 52.2 L379.4 51.6 L379.6 51.0 L379.7 50.4 L379.9 49.8 L380.1 49.2 L380.2 48.7 L380.4 48.1 L380.6 47.5 L380.8 46.9 L380.9 46.3 L381.1 45.7 L381.3 45.2 L381.5 44.6 L381.6 44.0 L381.8 43.4 L382.0 42.8 L382.2 42.2 L382.3 41.6 L382.5 41.0 L382.7 40.5 L382.9 39.9 L383.0 39.3 L383.2 38.7 L383.4 38.1 L383.5 37.5 L383.7 36.9 L383.9 36.3 L384.0 35.7 L384.2 35.1 L384.4 34.5 L384.5 33.9 L384.7 33.3 L384.8 32.7 L385.0 32.0 L385.2 31.4 L385.3 30.8 L385.5 30.2 L385.7 29.6 L385.8 29.0 L386.0 28.4 L386.2 27.8 L386.4 27.2 L386.6 26.6 L386.8 26.0 L387.0 25.5 L387.2 24.9 L387.4 24.3 L387.6 23.7 L387.9 23.2 L388.1 22.6 L388.4 22.0 L388.6 21.5 L388.9 20.9 L389.2 20.4 L389.5 19.9 L389.8 19.3 L390.1 18.8 L390.4 18.3 L390.8 17.8 L391.1 17.4 L391.5 16.9 L391.9 16.4 L392.3 16.0 L392.7 15.5 L393.1 15.1 L393.6 14.7 L394.0 14.3 L394.5 14.0 L394.9 13.6 L395.4 13.3 L395.9 12.9 L396.4 12.6 L397.0 12.3 L397.5 12.1 L398.0 11.8 L398.6 11.5 L399.1 11.3 L399.7 11.1 L400.3 10.8 L400.8 10.6 L401.4 10.4 L402.0 10.2 L402.6 10.1 L403.2 9.9 L403.8 9.7 L404.4 9.6 L405.0 9.4 L405.6 9.3 L406.2 9.1 L406.9 9.0 L407.5 8.8 L408.1 8.7 L408.7 8.6 L409.3 8.4 L409.9 8.3 L410.6 8.2 L411.2 8.0 L411.8 7.9 L412.4 7.7 L413.0 7.6 L413.6 7.4 L414.2 7.3 L414.8 7.2 L415.4 7.0 L416.0 6.9 L416.6 6.7 L417.2 6.6 L417.8 6.4 L418.4 6.3 L419.0 6.1 L419.5 6.0 L420.1 5.8 L420.7 5.7 L421.3 5.5 L421.9 5.4 L422.5 5.2 L423.1 5.1 L423.7 4.9 L424.3 4.8 L424.9 4.6 L425.5 4.5 L426.1 4.3 L426.7 4.2 L427.3 4.1 L427.9 3.9 L428.5 3.8 L429.0 3.6 L429.6 3.5 L430.2 3.3 L430.8 3.2 L431.4 3.1 L432.0 2.9 L432.6 2.8 L433.2 2.6 L433.8 2.5 L434.4 2.3 L435.0 2.2 L435.6 2.1 L436.2 1.9 L436.8 1.8 L437.4 1.6 L438.0 1.5 L438.6 1.3 L439.2 1.2 L439.8 1.0 L440.4 0.9 L441.0 0.8 L441.6 0.6 L442.2 0.5 L442.8 0.3 L443.4 0.2 L444.0 0.0 L444.6 -0.1 L445.2 -0.3 L445.8 -0.4 L446.4 -0.6 L447.0 -0.7 L447.6 -0.9 L448.2 -1.0 L448.8 -1.2 L449.4 -1.3 L450.0 -1.5" stroke="#000000"/>
<path d="M268.4 110.9 L269.0 111.0 L269.6 111.0 L270.3 111.0 L270.9 111.0 L271.5 111.0 L272.1 111.0 L272.7 111.0 L273.4 111.0 L274.0 111.0 L274.6 111.1 L275.2 111.1 L275.9 111.1 L276.5 111.1 L277.1 111.1 L277.7 111.1 L278.3 111.1 L279.0 111.1 L279.6 111.1 L280.2 111.1 L280.8 111.1 L281.4 111.1 L282.1 111.1 L282.7 111.1 L283.3 111.1 L283.9 111.1 L284.5 111.1 L285.2 111.1 L285.8 111.1 L286.4 111.1 L287.0 111.1 L287.7 111.1 L288.3 111.1 L288.9 111.1 L289.5 111.1 L290.1 111.0 L290.8 111.0 L291.4 111.0 L292.0 111.0 L292.6 111.0 L293.2 111.0 L293.9 111.0 L294.5 111.0 L295.1 111.0 L295.7 111.0 L296.4 111.0 L297.0 111.0 L297.6 111.0 L298.2 111.0 L298.8 111.0 L299.5 111.0 L300.1 111.0 L300.7 111.0 L301.3 111.0 L302.0 111.0 L302.6 111.0 L303.2 111.0 L303.8 111.0 L304.4 111.0 L305.1 111.0 L305.7 111.0 L306.3 111.0 L306.9 111.0 L307.6 111.0 L308.2 111.0 L308.8 111.0 L309.4 111.0 L310.0 111.0 L310.7 111.0 L311.3 111.0 L311.9 111.0 L312.5 111.0 L313.2 111.0 L313.8 111.0 L314.4 111.0 L315.0 111.0 L315.6 111.0 L316.3 111.0 L316.9 111.0 L317.5 111.0 L318.1 111.0 L318.7 111.0 L319.4 111.0 L320.0 111.0 L320.6 111.0 L321.2 111.0 L321.8 111.0 L322.5 111.0 L323.1 110.9 L323.7 110.9 L324.3 110.9 L324.9 110.9 L325.6 110.8 L326.2 110.8 L326.8 110.8 L327.4 110.7 L328.0 110.7 L328.6 110.7 L329.3 110.6 L329.9 110.6 L330.5 110.5 L331.1 110.4 L331.7 110.4 L332.3 110.3 L332.9 110.2 L333.6 110.2 L334.2 110.1 L334.8 110.0 L335.4 109.9 L336.0 109.8 L336.6 109.7 L337.2 109.6 L337.8 109.5 L338.4 109.4 L339.1 109.3 L339.7 109.1 L340.3 109.0 L340.9 108.9 L341.5 108.7 L342.1 108.6 L342.7 108.4 L343.3 108.3 L343.9 108.1 L344.5 107.9 L345.1 107.7 L345.7 107.6 L346.3 107.4 L346.9 107.2 L347.5 107.0 L348.1 106.7 L348.7 106.5 L349.3 106.3 L349.9 106.1 L350.4 105.8 L351.0 105.6 L351.6 105.3 L352.2 105.1 L352.7 104.8 L353.3 104.5 L353.9 104.3 L354.4 104.0 L355.0 103.7 L355.5 103.4 L356.1 103.1 L356.6 102.8 L357.1 102.4 L357.6 102.1 L358.2 101.8 L358.7 101.4 L359.2 101.1 L359.7 100.7 L360.2 100.4 L360.7 100.0 L361.2 99.6 L361.6 99.2 L362.1 98.8 L362.6 98.4 L363.0 98.0 L363.4 97.6 L363.9 97.2 L364.3 96.7 L364.7 96.3 L365.1 95.8 L365.5 95.4 L365.9 94.9 L366.3 94.4 L366.7 94.0 L367.1 93.5 L367.4 93.0 L367.8 92.5 L368.1 92.0 L368.5 91.5 L368.8 91.0 L369.1 90.4 L369.5 89.9 L369.8 89.4 L370.1 88.8 L370.4 88.3 L370.7 87.8 L371.0 87.2 L371.3 86.7 L371.6 86.1 L371.9 85.6 L372.2 85.0 L372.4 84.4 L372.7 83.9 L373.0 83.3 L373.2 82.7 L373.5 82.2 L373.8 81.6 L374.0 81.0 L374.3 80.4 L374.5 79.9 L374.8 79.3 L375.0 78.7 L375.3 78.1 L375.5 77.5 L375.7 76.9 L376.0 76.4 L376.2 75.8 L376.5 75.2 L376.7 74.6 L376.9 74.0 L377.2 73.5 L377.4 72.9 L377.6 72.3 L377.9 71.7 L378.1 71.1 L378.3 70.6 L378.6 70.0 L378.8 69.4 L379.0 68.8 L379.2 68.3 L379.5 67.7 L379.7 67.1 L379.9 66.5 L380.2 66.0 L380.4 65.4 L380.6 64.8 L380.8 64.2 L381.1 63.7 L381.3 63.1 L381.5 62.5 L381.7 61.9 L381.9 61.4 L382.2 60.8 L382.4 60.2 L382.6 59.6 L382.8 59.1 L383.0 58.5 L383.3 57.9 L383.5 57.3 L383.7 56.8 L383.9 56.2 L384.1 55.6 L384.4 55.0 L384.6 54.4 L384.8 53.9 L385.0 53.3 L385.2 52.7 L385.4 52.1 L385.6 51.6 L385.9 51.0 L386.1 50.4 L386.3 49.8 L386.5 49.2 L386.7 48.6 L386.9 48.1 L387.1 47.5 L387.4 46.9 L387.6 46.3 L387.8 45.7 L388.0 45.1 L388.2 44.5 L388.4 44.0 L388.6 43.4 L388.8 42.8 L389.1 42.2 L389.3 41.6 L389.5 41.0 L389.7 40.4 L389.9 39.8 L390.1 39.3 L390.4 38.7 L390.6 38.1 L390.8 37.5 L391.0 36.9 L391.3 36.3 L391.5 35.7 L391.7 35.2 L392.0 34.6 L392.2 34.0 L392.5 33.4 L392.7 32.9 L393.0 32.3 L393.2 31.7 L393.5 31.2 L393.7 30.6 L394.0 30.0 L394.3 29.5 L394.6 28.9 L394.9 28.4 L395.1 27.8 L395.4 27.3 L395.8 26.7 L396.1 26.2 L396.4 25.7 L396.7 25.2 L397.1 24.7 L397.4 24.2 L397.8 23.7 L398.2 23.2 L398.6 22.7 L399.0 22.3 L399.4 21.8 L399.8 21.4 L400.2 21.0 L400.7 20.6 L401.2 20.2 L401.6 19.8 L402.1 19.4 L402.6 19.0 L403.1 18.6 L403.6 18.3 L404.1 17.9 L404.6 17.6 L405.1 17.2 L405.6 16.9 L406.1 16.6 L406.7 16.3 L407.2 16.0 L407.7 15.6 L408.3 15.4 L408.8 15.1 L409.3 14.8 L409.9 14.5 L410.4 14.2 L411.0 14.0 L411.5 13.7 L412.1 13.4 L412.7 13.2 L413.2 12.9 L413.8 12.7 L414.4 12.5 L415.0 12.2 L415.5 12.0 L416.1 11.8 L416.7 11.6 L417.3 11.3 L417.9 11.1 L418.5 10.9 L419.1 10.7 L419.7 10.5 L420.3 10.3 L420.9 10.1 L421.4 9.9 L422.0 9.7 L422.7 9.5 L423.3 9.4 L423.9 9.2 L424.5 9.0 L425.1 8.8 L425.7 8.6 L426.3 8.5 L426.9 8.3 L427.5 8.1 L428.1 8.0 L428.7 7.8 L429.3 7.6 L429.9 7.4 L430.5 7.3 L431.1 7.1 L431.7 6.9 L432.3 6.8 L432.9 6.6 L433.5 6.4 L434.1 6.3 L434.7 6.1 L435.3 5.9 L435.9 5.8 L436.5 5.6 L437.1 5.4 L437.7 5.3 L438.3 5.1 L438.9 4.9 L439.5 4.8 L440.1 4.6 L440.7 4.4 L441.3 4.2 L441.9 4.1 L442.5 3.9 L443.0 3.7 L443.6 3.6 L444.2 3.4 L444.8 3.3 L445.4 3.1 L446.0 2.9 L446.6 2.8 L447.2 2.6 L447.8 2.5 L448.4 2.3 L449.0 2.2 L449.6 2.0 L450.2 1.9 L450.8 1.7 L451.4 1.6 L452.0 1.5 L452.6 1.3 L453.2 1.2 L453.8 1.1 L454.4 1.0 L455.0 0.9 L455.7 0.7 L456.3 0.6 L456.9 0.5 L457.5 0.4 L458.2 0.3 L458.8 0.2 L459.4 0.2 L460.1 0.1" stroke="#9400d3"/>
<path d="M268.4 111.0 L269.0 111.0 L269.6 111.0 L270.2 111.0 L270.8 111.0 L271.4 111.0 L272.0 111.0 L272.6 111.0 L273.2 111.0 L273.8 111.1 L274.4 111.1 L275.0 111.1 L275.6 111.1 L276.2 111.1 L276.8 111.1 L277.4 111.1 L278.0 111.1 L278.6 111.1 L279.2 111.1 L279.8 111.1 L280.3 111.1 L280.9 111.1 L281.5 111.1 L282.1 111.1 L282.7 111.1 L283.3 111.1 L283.9 111.1 L284.5 111.1 L285.1 111.1 L285.7 111.1 L286.3 111.1 L286.9 111.1 L287.5 111.0 L288.1 111.0 L288.7 111.0 L289.3 111.0 L289.8 111.0 L290.4 111.0 L291.0 111.0 L291.6 111.0 L292.2 111.0 L292.8 111.0 L293.4 111.0 L294.0 111.0 L294.6 111.0 L295.2 111.0 L295.8 111.0 L296.4 111.0 L297.0 111.0 L297.6 111.0 L298.1 111.0 L298.7 111.0 L299.3 111.0 L299.9 111.0 L300.5 111.0 L301.1 111.0 L301.7 111.0 L302.3 111.0 L302.9 111.0 L303.5 111.0 L304.1 111.0 L304.7 111.0 L305.3 111.0 L305.9 111.0 L306.5 111.0 L307.1 111.0 L307.7 111.0 L308.3 111.0 L308.9 111.0 L309.5 111.0 L310.1 111.0 L310.7 111.0 L311.3 111.0 L311.9 111.0 L312.4 111.0 L313.0 111.0 L313.6 111.0 L314.2 111.1 L314.8 111.1 L315.4 111.1 L316.0 111.1 L316.6 111.1 L317.2 111.1 L317.8 111.1 L318.4 111.1 L319.0 111.1 L319.6 111.0 L320.2 111.0 L320.8 111.0 L321.4 111.0 L322.0 111.0 L322.6 111.0 L323.2 111.0 L323.8 111.0 L324.4 110.9 L325.0 110.9 L325.6 110.9 L326.2 110.9 L326.8 110.8 L327.4 110.8 L328.0 110.7 L328.6 110.7 L329.2 110.7 L329.8 110.6 L330.4 110.6 L331.0 110.5 L331.6 110.4 L332.1 110.4 L332.7 110.3 L333.3 110.2 L333.9 110.2 L334.5 110.1 L335.1 110.0 L335.7 109.9 L336.3 109.8 L336.9 109.7 L337.4 109.6 L338.0 109.5 L338.6 109.4 L339.2 109.3 L339.8 109.2 L340.4 109.0 L340.9 108.9 L341.5 108.8 L342.1 108.6 L342.7 108.5 L343.2 108.3 L343.8 108.2 L344.4 108.0 L345.0 107.8 L345.5 107.6 L346.1 107.4 L346.7 107.3 L347.3 107.1 L347.8 106.9 L348.4 106.6 L348.9 106.4 L349.5 106.2 L350.0 106.0 L350.6 105.7 L351.1 105.5 L351.7 105.2 L352.2 105.0 L352.8 104.7 L353.3 104.5 L353.8 104.2 L354.4 103.9 L354.9 103.6 L355.4 103.3 L355.9 103.0 L356.4 102.7 L356.9 102.4 L357.4 102.1 L357.9 101.8 L358.4 101.5 L358.9 101.1 L359.4 100.8 L359.9 100.4 L360.3 100.1 L360.8 99.7 L361.2 99.3 L361.7 99.0 L362.1 98.6 L362.6 98.2 L363.0 97.8 L363.4 97.4 L363.8 97.0 L364.2 96.5 L364.6 96.1 L365.0 95.7 L365.4 95.3 L365.8 94.8 L366.1 94.4 L366.5 93.9 L366.9 93.4 L367.2 93.0 L367.6 92.5 L367.9 92.0 L368.2 91.6 L368.6 91.1 L368.9 90.6 L369.2 90.1 L369.5 89.6 L369.9 89.1 L370.2 88.6 L370.5 88.1 L370.8 87.6 L371.1 87.0 L371.4 86.5 L371.7 86.0 L372.0 85.5 L372.2 85.0 L372.5 84.4 L372.8 83.9 L373.1 83.4 L373.4 82.8 L373.7 82.3 L373.9 81.8 L374.2 81.2 L374.5 80.7 L374.8 80.2 L375.1 79.6 L375.3 79.1 L375.6 78.6 L375.9 78.0 L376.2 77.5 L376.5 77.0 L376.8 76.4 L377.0 75.9 L377.3 75.4 L377.6 74.9 L377.9 74.3 L378.2 73.8 L378.5 73.3 L378.8 72.8 L379.1 72.2 L379.4 71.7 L379.7 71.2 L380.0 70.7 L380.3 70.2 L380.6 69.7 L380.9 69.1 L381.2 68.6 L381.5 68.1 L381.8 67.6 L382.2 67.1 L382.5 66.6 L382.8 66.1 L383.1 65.6 L383.4 65.1 L383.7 64.6 L384.1 64.1 L384.4 63.6 L384.7 63.1 L385.0 62.6 L385.4 62.1 L385.7 61.6 L386.0 61.1 L386.4 60.6 L386.7 60.1 L387.0 59.6 L387.4 59.1 L387.7 58.7 L388.0 58.2 L388.4 57.7 L388.7 57.2 L389.1 56.7 L389.4 56.2 L389.8 55.8 L390.1 55.3 L390.5 54.8 L390.8 54.3 L391.2 53.8 L391.5 53.4 L391.9 52.9 L392.2 52.4 L392.6 51.9 L392.9 51.5 L393.3 51.0 L393.7 50.5 L394.0 50.1 L394.4 49.6 L394.8 49.1 L395.1 48.7 L395.5 48.2 L395.9 47.7 L396.2 47.3 L396.6 46.8 L397.0 46.4 L397.4 45.9 L397.7 45.5 L398.1 45.0 L398.5 44.5 L398.9 44.1 L399.3 43.6 L399.7 43.2 L400.0 42.7 L400.4 42.3 L400.8 41.8 L401.2 41.4 L401.6 40.9 L402.0 40.5 L402.4 40.1 L402.8 39.6 L403.2 39.2 L403.6 38.7 L404.0 38.3 L404.4 37.9 L404.8 37.4 L405.2 37.0 L405.6 36.5 L406.0 36.1 L406.4 35.7 L406.8 35.2 L407.2 34.8 L407.6 34.4 L408.0 33.9 L408.5 33.5 L408.9 33.1 L409.3 32.7 L409.7 32.2 L410.1 31.8 L410.6 31.4 L411.0 31.0 L411.4 30.5 L411.8 30.1 L412.2 29.7 L412.7 29.3 L413.1 28.9 L413.5 28.4 L414.0 28.0 L414.4 27.6 L414.8 27.2 L415.3 26.8 L415.7 26.4 L416.2 26.0 L416.6 25.6 L417.0 25.2 L417.5 24.8 L417.9 24.4 L418.4 24.0 L418.8 23.6 L419.3 23.2 L419.7 22.8 L420.2 22.4 L420.6 22.0 L421.1 21.7 L421.6 21.3 L422.0 20.9 L422.5 20.5 L423.0 20.2 L423.4 19.8 L423.9 19.4 L424.4 19.1 L424.9 18.7 L425.3 18.4 L425.8 18.0 L426.3 17.7 L426.8 17.3 L427.3 17.0 L427.7 16.6 L428.2 16.3 L428.7 16.0 L429.2 15.6 L429.7 15.3 L430.2 15.0 L430.7 14.7 L431.2 14.4 L431.7 14.1 L432.2 13.8 L432.7 13.5 L433.3 13.2 L433.8 12.9 L434.3 12.6 L434.8 12.3 L435.3 12.0 L435.9 11.8 L436.4 11.5 L436.9 11.2 L437.4 11.0 L438.0 10.7 L438.5 10.5 L439.1 10.2 L439.6 10.0 L440.1 9.7 L440.7 9.5 L441.2 9.3 L441.8 9.0 L442.3 8.8 L442.9 8.6 L443.4 8.4 L444.0 8.2 L444.6 8.0 L445.1 7.8 L445.7 7.6 L446.2 7.4 L446.8 7.2 L447.4 7.0 L447.9 6.8 L448.5 6.6 L449.1 6.4 L449.6 6.2 L450.2 6.1 L450.8 5.9 L451.4 5.7 L451.9 5.6 L452.5 5.4 L453.1 5.2 L453.7 5.1 L454.2 4.9 L454.8 4.8 L455.4 4.6 L456.0 4.5 L456.6 4.3 L457.1 4.2 L457.7 4.0 L458.3 3.9 L458.9 3.8 L459.5 3.6 L460.0 3.5" stroke="#7221bc"/>
<path d="M268.4 111.0 L269.0 111.0 L269.5 111.0 L270.1 111.0 L270.7 111.0 L271.2 110.9 L271.8 110.9 L272.4 110.9 L272.9 110.9 L273.5 110.9 L274.1 110.9 L274.6 110.8 L275.2 110.8 L275.8 110.8 L276.3 110.8 L276.9 110.8 L277.5 110.8 L278.0 110.8 L278.6 110.7 L279.2 110.7 L279.7 110.7 L280.3 110.7 L280.9 110.7 L281.4 110.7 L282.0 110.6 L282.6 110.6 L283.1 110.6 L283.7 110.6 L284.3 110.6 L284.8 110.6 L285.4 110.6 L286.0 110.5 L286.5 110.5 L287.1 110.5 L287.7 110.5 L288.2 110.5 L288.8 110.5 L289.4 110.5 L289.9 110.4 L290.5 110.4 L291.1 110.4 L291.6 110.4 L292.2 110.4 L292.8 110.4 L293.3 110.4 L293.9 110.3 L294.5 110.3 L295.0 110.3 L295.6 110.3 L296.2 110.3 L296.7 110.3 L297.3 110.3 L297.9 110.2 L298.4 110.2 L299.0 110.2 L299.6 110.2 L300.1 110.2 L300.7 110.2 L301.3 110.1 L301.8 110.1 L302.4 110.1 L303.0 110.1 L303.6 110.1 L304.1 110.1 L304.7 110.0 L305.3 110.0 L305.8 110.0 L306.4 110.0 L307.0 110.0 L307.5 109.9 L308.1 109.9 L308.7 109.9 L309.2 109.9 L309.8 109.8 L310.4 109.8 L310.9 109.8 L311.5 109.7 L312.1 109.7 L312.6 109.6 L313.2 109.6 L313.8 109.6 L314.3 109.5 L314.9 109.5 L315.5 109.4 L316.0 109.4 L316.6 109.3 L317.2 109.3 L317.7 109.2 L318.3 109.1 L318.9 109.1 L319.4 109.0 L320.0 108.9 L320.5 108.9 L321.1 108.8 L321.7 108.7 L322.2 108.6 L322.8 108.5 L323.3 108.4 L323.9 108.3 L324.5 108.2 L325.0 108.1 L325.6 108.0 L326.1 107.9 L326.7 107.8 L327.2 107.7 L327.8 107.5 L328.3 107.4 L328.9 107.3 L329.4 107.1 L330.0 107.0 L330.5 106.9 L331.1 106.7 L331.6 106.6 L332.2 106.4 L332.7 106.2 L333.2 106.1 L333.8 105.9 L334.3 105.7 L334.8 105.5 L335.4 105.4 L335.9 105.2 L336.4 105.0 L337.0 104.8 L337.5 104.6 L338.0 104.4 L338.6 104.2 L339.1 103.9 L339.6 103.7 L340.1 103.5 L340.6 103.3 L341.1 103.0 L341.7 102.8 L342.2 102.6 L342.7 102.3 L343.2 102.1 L343.7 101.8 L344.2 101.6 L344.7 101.3 L345.2 101.0 L345.7 100.8 L346.2 100.5 L346.7 100.2 L347.2 99.9 L347.7 99.6 L348.2 99.4 L348.6 99.1 L349.1 98.8 L349.6 98.5 L350.1 98.2 L350.6 97.9 L351.0 97.6 L351.5 97.2 L352.0 96.9 L352.5 96.6 L352.9 96.3 L353.4 96.0 L353.9 95.7 L354.3 95.3 L354.8 95.0 L355.2 94.7 L355.7 94.3 L356.2 94.0 L356.6 93.7 L357.1 93.3 L357.5 93.0 L358.0 92.6 L358.4 92.3 L358.9 91.9 L359.3 91.6 L359.7 91.2 L360.2 90.9 L360.6 90.5 L361.1 90.2 L361.5 89.8 L361.9 89.4 L362.4 89.1 L362.8 88.7 L363.2 88.3 L363.7 88.0 L364.1 87.6 L364.5 87.2 L364.9 86.8 L365.4 86.5 L365.8 86.1 L366.2 85.7 L366.6 85.3 L367.1 84.9 L367.5 84.6 L367.9 84.2 L368.3 83.8 L368.7 83.4 L369.1 83.0 L369.5 82.6 L369.9 82.2 L370.4 81.8 L370.8 81.4 L371.2 81.0 L371.6 80.6 L372.0 80.2 L372.4 79.8 L372.8 79.4 L373.2 79.0 L373.6 78.6 L374.0 78.2 L374.4 77.8 L374.8 77.4 L375.2 77.0 L375.6 76.6 L376.0 76.2 L376.4 75.8 L376.8 75.4 L377.2 75.0 L377.5 74.6 L377.9 74.2 L378.3 73.7 L378.7 73.3 L379.1 72.9 L379.5 72.5 L379.9 72.1 L380.3 71.7 L380.7 71.3 L381.0 70.8 L381.4 70.4 L381.8 70.0 L382.2 69.6 L382.6 69.2 L383.0 68.8 L383.4 68.4 L383.7 67.9 L384.1 67.5 L384.5 67.1 L384.9 66.7 L385.3 66.3 L385.7 65.9 L386.0 65.4 L386.4 65.0 L386.8 64.6 L387.2 64.2 L387.6 63.8 L388.0 63.4 L388.4 63.0 L388.8 62.5 L389.1 62.1 L389.5 61.7 L389.9 61.3 L390.3 60.9 L390.7 60.5 L391.1 60.1 L391.5 59.7 L391.9 59.3 L392.3 58.9 L392.7 58.4 L393.1 58.0 L393.5 57.6 L393.8 57.2 L394.2 56.8 L394.6 56.4 L395.0 56.0 L395.4 55.6 L395.8 55.2 L396.3 54.8 L396.7 54.4 L397.1 54.0 L397.5 53.6 L397.9 53.2 L398.3 52.8 L398.7 52.4 L399.1 52.0 L399.5 51.7 L399.9 51.3 L400.3 50.9 L400.7 50.5 L401.1 50.1 L401.5 49.7 L402.0 49.3 L402.4 48.9 L402.8 48.5 L403.2 48.1 L403.6 47.8 L404.0 47.4 L404.5 47.0 L404.9 46.6 L405.3 46.2 L405.7 45.8 L406.1 45.4 L406.5 45.1 L407.0 44.7 L407.4 44.3 L407.8 43.9 L408.2 43.5 L408.6 43.2 L409.1 42.8 L409.5 42.4 L409.9 42.0 L410.3 41.6 L410.8 41.3 L411.2 40.9 L411.6 40.5 L412.0 40.1 L412.5 39.8 L412.9 39.4 L413.3 39.0 L413.7 38.6 L414.2 38.3 L414.6 37.9 L415.0 37.5 L415.4 37.2 L415.9 36.8 L416.3 36.4 L416.7 36.0 L417.2 35.7 L417.6 35.3 L418.0 34.9 L418.5 34.6 L418.9 34.2 L419.3 33.8 L419.8 33.5 L420.2 33.1 L420.6 32.8 L421.1 32.4 L421.5 32.0 L421.9 31.7 L422.4 31.3 L422.8 31.0 L423.3 30.6 L423.7 30.3 L424.2 29.9 L424.6 29.6 L425.1 29.2 L425.5 28.9 L426.0 28.5 L426.4 28.2 L426.9 27.9 L427.3 27.5 L427.8 27.2 L428.2 26.9 L428.7 26.5 L429.1 26.2 L429.6 25.9 L430.1 25.5 L430.5 25.2 L431.0 24.9 L431.5 24.6 L431.9 24.3 L432.4 24.0 L432.9 23.6 L433.4 23.3 L433.8 23.0 L434.3 22.7 L434.8 22.4 L435.3 22.1 L435.7 21.8 L436.2 21.5 L436.7 21.2 L437.2 20.9 L437.7 20.6 L438.2 20.3 L438.7 20.1 L439.1 19.8 L439.6 19.5 L440.1 19.2 L440.6 18.9 L441.1 18.6 L441.6 18.4 L442.1 18.1 L442.6 17.8 L443.1 17.5 L443.6 17.3 L444.1 17.0 L444.6 16.7 L445.1 16.5 L445.6 16.2 L446.1 15.9 L446.6 15.7 L447.1 15.4 L447.6 15.2 L448.1 14.9 L448.6 14.7 L449.2 14.4 L449.7 14.2 L450.2 13.9 L450.7 13.7 L451.2 13.4 L451.7 13.2 L452.2 12.9 L452.7 12.7 L453.3 12.5 L453.8 12.2 L454.3 12.0 L454.8 11.7 L455.3 11.5 L455.8 11.3 L456.4 11.1 L456.9 10.8 L457.4 10.6 L457.9 10.4 L458.4 10.2 L459.0 9.9 L459.5 9.7 L460.0 9.5" stroke="#0000ff"/>
<path d="M268.4 112.5 L269.0 112.5 L269.5 112.5 L270.1 112.6 L270.7 112.6 L271.2 112.6 L271.8 112.6 L272.3 112.7 L272.9 112.7 L273.5 112.7 L274.0 112.7 L274.6 112.7 L275.2 112.8 L275.7 112.8 L276.3 112.8 L276.8 112.8 L277.4 112.8 L278.0 112.8 L278.5 112.9 L279.1 112.9 L279.7 112.9 L280.2 112.9 L280.8 112.9 L281.3 112.9 L281.9 112.9 L282.5 113.0 L283.0 113.0 L283.6 113.0 L284.2 113.0 L284.7 113.0 L285.3 113.0 L285.9 113.0 L286.4 113.0 L287.0 113.0 L287.5 113.0 L288.1 113.0 L288.7 113.0 L289.2 113.1 L289.8 113.1 L290.4 113.1 L290.9 113.1 L291.5 113.1 L292.0 113.1 L292.6 113.1 L293.2 113.1 L293.7 113.1 L294.3 113.1 L294.9 113.1 L295.4 113.1 L296.0 113.1 L296.6 113.1 L297.1 113.1 L297.7 113.1 L298.2 113.1 L298.8 113.1 L299.4 113.1 L299.9 113.1 L300.5 113.1 L301.1 113.1 L301.6 113.1 L302.2 113.1 L302.8 113.1 L303.3 113.1 L303.9 113.1 L304.4 113.1 L305.0 113.1 L305.6 113.0 L306.1 113.0 L306.7 113.0 L307.3 113.0 L307.8 113.0 L308.4 113.0 L309.0 112.9 L309.5 112.9 L310.1 112.9 L310.6 112.9 L311.2 112.8 L311.8 112.8 L312.3 112.8 L312.9 112.7 L313.4 112.7 L314.0 112.7 L314.6 112.6 L315.1 112.6 L315.7 112.5 L316.2 112.5 L316.8 112.4 L317.4 112.4 L317.9 112.3 L318.5 112.2 L319.0 112.2 L319.6 112.1 L320.2 112.0 L320.7 111.9 L321.3 111.9 L321.8 111.8 L322.4 111.7 L322.9 111.6 L323.5 111.5 L324.1 111.4 L324.6 111.3 L325.2 111.2 L325.7 111.1 L326.3 111.0 L326.8 110.9 L327.4 110.7 L327.9 110.6 L328.5 110.5 L329.0 110.4 L329.6 110.2 L330.1 110.1 L330.6 109.9 L331.2 109.8 L331.7 109.6 L332.3 109.5 L332.8 109.3 L333.4 109.1 L333.9 109.0 L334.4 108.8 L335.0 108.6 L335.5 108.4 L336.0 108.3 L336.6 108.1 L337.1 107.9 L337.6 107.7 L338.1 107.5 L338.7 107.3 L339.2 107.0 L339.7 106.8 L340.2 106.6 L340.7 106.4 L341.2 106.2 L341.8 105.9 L342.3 105.7 L342.8 105.4 L343.3 105.2 L343.8 104.9 L344.3 104.7 L344.8 104.4 L345.3 104.2 L345.8 103.9 L346.2 103.6 L346.7 103.4 L347.2 103.1 L347.7 102.8 L348.2 102.5 L348.7 102.2 L349.1 101.9 L349.6 101.6 L350.1 101.3 L350.5 101.0 L351.0 100.7 L351.5 100.4 L351.9 100.0 L352.4 99.7 L352.9 99.4 L353.3 99.1 L353.8 98.8 L354.2 98.4 L354.7 98.1 L355.1 97.8 L355.6 97.4 L356.0 97.1 L356.5 96.8 L356.9 96.4 L357.4 96.1 L357.8 95.7 L358.3 95.4 L358.7 95.0 L359.2 94.7 L359.6 94.3 L360.0 94.0 L360.5 93.6 L360.9 93.3 L361.3 92.9 L361.8 92.6 L362.2 92.2 L362.6 91.8 L363.1 91.5 L363.5 91.1 L363.9 90.8 L364.4 90.4 L364.8 90.0 L365.2 89.7 L365.6 89.3 L366.1 88.9 L366.5 88.5 L366.9 88.2 L367.3 87.8 L367.8 87.4 L368.2 87.0 L368.6 86.7 L369.0 86.3 L369.5 85.9 L369.9 85.5 L370.3 85.2 L370.7 84.8 L371.1 84.4 L371.6 84.0 L372.0 83.6 L372.4 83.3 L372.8 82.9 L373.2 82.5 L373.6 82.1 L374.1 81.7 L374.5 81.4 L374.9 81.0 L375.3 80.6 L375.7 80.2 L376.1 79.8 L376.5 79.5 L377.0 79.1 L377.4 78.7 L377.8 78.3 L378.2 77.9 L378.6 77.5 L379.0 77.2 L379.4 76.8 L379.8 76.4 L380.3 76.0 L380.7 75.6 L381.1 75.2 L381.5 74.9 L381.9 74.5 L382.3 74.1 L382.7 73.7 L383.1 73.3 L383.6 72.9 L384.0 72.5 L384.4 72.2 L384.8 71.8 L385.2 71.4 L385.6 71.0 L386.0 70.6 L386.4 70.2 L386.8 69.8 L387.2 69.5 L387.7 69.1 L388.1 68.7 L388.5 68.3 L388.9 67.9 L389.3 67.5 L389.7 67.1 L390.1 66.8 L390.5 66.4 L390.9 66.0 L391.4 65.6 L391.8 65.2 L392.2 64.8 L392.6 64.5 L393.0 64.1 L393.4 63.7 L393.8 63.3 L394.2 62.9 L394.6 62.5 L395.1 62.2 L395.5 61.8 L395.9 61.4 L396.3 61.0 L396.7 60.6 L397.1 60.2 L397.5 59.9 L397.9 59.5 L398.4 59.1 L398.8 58.7 L399.2 58.3 L399.6 57.9 L400.0 57.6 L400.4 57.2 L400.8 56.8 L401.3 56.4 L401.7 56.1 L402.1 55.7 L402.5 55.3 L402.9 54.9 L403.3 54.5 L403.8 54.2 L404.2 53.8 L404.6 53.4 L405.0 53.0 L405.4 52.7 L405.8 52.3 L406.3 51.9 L406.7 51.5 L407.1 51.2 L407.5 50.8 L407.9 50.4 L408.4 50.0 L408.8 49.7 L409.2 49.3 L409.6 48.9 L410.1 48.6 L410.5 48.2 L410.9 47.8 L411.3 47.5 L411.8 47.1 L412.2 46.7 L412.6 46.4 L413.0 46.0 L413.5 45.6 L413.9 45.3 L414.3 44.9 L414.8 44.5 L415.2 44.2 L415.6 43.8 L416.1 43.4 L416.5 43.1 L416.9 42.7 L417.4 42.4 L417.8 42.0 L418.2 41.6 L418.7 41.3 L419.1 40.9 L419.5 40.6 L420.0 40.2 L420.4 39.9 L420.9 39.5 L421.3 39.2 L421.7 38.8 L422.2 38.5 L422.6 38.1 L423.1 37.8 L423.5 37.4 L424.0 37.1 L424.4 36.7 L424.9 36.4 L425.3 36.0 L425.7 35.7 L426.2 35.3 L426.6 35.0 L427.1 34.7 L427.5 34.3 L428.0 34.0 L428.4 33.6 L428.9 33.3 L429.3 33.0 L429.8 32.6 L430.2 32.3 L430.7 32.0 L431.1 31.6 L431.6 31.3 L432.0 31.0 L432.5 30.6 L432.9 30.3 L433.4 30.0 L433.8 29.6 L434.3 29.3 L434.8 29.0 L435.2 28.7 L435.7 28.4 L436.1 28.0 L436.6 27.7 L437.1 27.4 L437.5 27.1 L438.0 26.8 L438.5 26.5 L439.0 26.2 L439.4 25.9 L439.9 25.6 L440.4 25.3 L440.9 25.0 L441.4 24.7 L441.8 24.5 L442.3 24.2 L442.8 23.9 L443.3 23.6 L443.8 23.3 L444.3 23.1 L444.8 22.8 L445.3 22.5 L445.8 22.2 L446.3 22.0 L446.8 21.7 L447.2 21.4 L447.7 21.2 L448.2 20.9 L448.7 20.6 L449.2 20.3 L449.7 20.1 L450.2 19.8 L450.7 19.5 L451.2 19.3 L451.7 19.0 L452.2 18.7 L452.7 18.4 L453.2 18.2 L453.7 17.9 L454.2 17.6 L454.7 17.3 L455.2 17.1 L455.6 16.8 L456.1 16.5 L456.6 16.2 L457.1 15.9 L457.6 15.6 L458.1 15.3 L458.5 15.0 L459.0 14.7 L459.5 14.4 L460.0 14.1" stroke="#ff00ff"/>
<path d="M268.4 114.2 L269.0 114.3 L269.5 114.4 L270.1 114.4 L270.7 114.5 L271.2 114.5 L271.8 114.6 L272.3 114.7 L272.9 114.7 L273.5 114.8 L274.0 114.8 L274.6 114.9 L275.1 115.0 L275.7 115.0 L276.2 115.1 L276.8 115.2 L277.4 115.2 L277.9 115.3 L278.5 115.3 L279.0 115.4 L279.6 115.4 L280.2 115.5 L280.7 115.6 L281.3 115.6 L281.8 115.7 L282.4 115.7 L283.0 115.8 L283.5 115.8 L284.1 115.9 L284.6 116.0 L285.2 116.0 L285.8 116.1 L286.3 116.1 L286.9 116.2 L287.5 116.2 L288.0 116.3 L288.6 116.3 L289.1 116.4 L289.7 116.4 L290.3 116.4 L290.8 116.5 L291.4 116.5 L292.0 116.6 L292.5 116.6 L293.1 116.7 L293.6 116.7 L294.2 116.7 L294.8 116.8 L295.3 116.8 L295.9 116.8 L296.5 116.9 L297.0 116.9 L297.6 116.9 L298.2 116.9 L298.7 117.0 L299.3 117.0 L299.9 117.0 L300.4 117.0 L301.0 117.1 L301.6 117.1 L302.1 117.1 L302.7 117.1 L303.3 117.1 L303.8 117.1 L304.4 117.2 L305.0 117.2 L305.5 117.2 L306.1 117.2 L306.7 117.2 L307.2 117.2 L307.8 117.2 L308.4 117.2 L308.9 117.2 L309.5 117.2 L310.1 117.1 L310.6 117.1 L311.2 117.1 L311.8 117.1 L312.3 117.1 L312.9 117.0 L313.5 117.0 L314.0 117.0 L314.6 117.0 L315.1 116.9 L315.7 116.9 L316.3 116.8 L316.8 116.8 L317.4 116.7 L318.0 116.7 L318.5 116.6 L319.1 116.6 L319.6 116.5 L320.2 116.5 L320.8 116.4 L321.3 116.3 L321.9 116.3 L322.4 116.2 L323.0 116.1 L323.6 116.0 L324.1 115.9 L324.7 115.8 L325.2 115.7 L325.8 115.6 L326.3 115.5 L326.9 115.4 L327.4 115.3 L328.0 115.2 L328.5 115.1 L329.1 115.0 L329.6 114.8 L330.2 114.7 L330.7 114.6 L331.3 114.4 L331.8 114.3 L332.4 114.1 L332.9 114.0 L333.5 113.8 L334.0 113.7 L334.5 113.5 L335.1 113.4 L335.6 113.2 L336.1 113.0 L336.7 112.8 L337.2 112.7 L337.7 112.5 L338.3 112.3 L338.8 112.1 L339.3 111.9 L339.9 111.7 L340.4 111.5 L340.9 111.3 L341.4 111.1 L342.0 110.9 L342.5 110.7 L343.0 110.4 L343.5 110.2 L344.0 110.0 L344.5 109.8 L345.0 109.5 L345.6 109.3 L346.1 109.0 L346.6 108.8 L347.1 108.5 L347.6 108.3 L348.1 108.0 L348.6 107.8 L349.1 107.5 L349.6 107.2 L350.1 107.0 L350.5 106.7 L351.0 106.4 L351.5 106.1 L352.0 105.9 L352.5 105.6 L353.0 105.3 L353.4 105.0 L353.9 104.7 L354.4 104.4 L354.9 104.1 L355.3 103.8 L355.8 103.5 L356.3 103.1 L356.7 102.8 L357.2 102.5 L357.6 102.2 L358.1 101.8 L358.5 101.5 L359.0 101.2 L359.4 100.8 L359.9 100.5 L360.3 100.2 L360.8 99.8 L361.2 99.5 L361.7 99.1 L362.1 98.8 L362.5 98.4 L363.0 98.1 L363.4 97.7 L363.8 97.3 L364.3 97.0 L364.7 96.6 L365.1 96.2 L365.5 95.9 L366.0 95.5 L366.4 95.1 L366.8 94.8 L367.2 94.4 L367.7 94.0 L368.1 93.6 L368.5 93.2 L368.9 92.9 L369.3 92.5 L369.8 92.1 L370.2 91.7 L370.6 91.3 L371.0 90.9 L371.4 90.6 L371.8 90.2 L372.2 89.8 L372.7 89.4 L373.1 89.0 L373.5 88.6 L373.9 88.2 L374.3 87.8 L374.7 87.4 L375.1 87.1 L375.5 86.7 L375.9 86.3 L376.4 85.9 L376.8 85.5 L377.2 85.1 L377.6 84.7 L378.0 84.3 L378.4 83.9 L378.8 83.5 L379.2 83.1 L379.6 82.8 L380.0 82.4 L380.5 82.0 L380.9 81.6 L381.3 81.2 L381.7 80.8 L382.1 80.4 L382.5 80.0 L382.9 79.6 L383.3 79.3 L383.7 78.9 L384.2 78.5 L384.6 78.1 L385.0 77.7 L385.4 77.3 L385.8 76.9 L386.2 76.5 L386.6 76.2 L387.0 75.8 L387.5 75.4 L387.9 75.0 L388.3 74.6 L388.7 74.2 L389.1 73.8 L389.5 73.5 L389.9 73.1 L390.3 72.7 L390.8 72.3 L391.2 71.9 L391.6 71.5 L392.0 71.2 L392.4 70.8 L392.8 70.4 L393.2 70.0 L393.7 69.6 L394.1 69.2 L394.5 68.9 L394.9 68.5 L395.3 68.1 L395.7 67.7 L396.2 67.3 L396.6 67.0 L397.0 66.6 L397.4 66.2 L397.8 65.8 L398.2 65.4 L398.7 65.1 L399.1 64.7 L399.5 64.3 L399.9 63.9 L400.3 63.6 L400.8 63.2 L401.2 62.8 L401.6 62.4 L402.0 62.0 L402.4 61.7 L402.8 61.3 L403.3 60.9 L403.7 60.5 L404.1 60.2 L404.5 59.8 L405.0 59.4 L405.4 59.0 L405.8 58.7 L406.2 58.3 L406.6 57.9 L407.1 57.6 L407.5 57.2 L407.9 56.8 L408.3 56.4 L408.8 56.1 L409.2 55.7 L409.6 55.3 L410.0 55.0 L410.5 54.6 L410.9 54.2 L411.3 53.8 L411.7 53.5 L412.2 53.1 L412.6 52.7 L413.0 52.4 L413.4 52.0 L413.9 51.6 L414.3 51.3 L414.7 50.9 L415.2 50.5 L415.6 50.2 L416.0 49.8 L416.4 49.4 L416.9 49.1 L417.3 48.7 L417.7 48.3 L418.2 48.0 L418.6 47.6 L419.0 47.3 L419.5 46.9 L419.9 46.5 L420.3 46.2 L420.8 45.8 L421.2 45.4 L421.6 45.1 L422.1 44.7 L422.5 44.4 L422.9 44.0 L423.4 43.6 L423.8 43.3 L424.2 42.9 L424.7 42.6 L425.1 42.2 L425.6 41.9 L426.0 41.5 L426.4 41.2 L426.9 40.8 L427.3 40.5 L427.8 40.1 L428.2 39.8 L428.7 39.4 L429.1 39.1 L429.5 38.7 L430.0 38.4 L430.4 38.0 L430.9 37.7 L431.3 37.3 L431.8 37.0 L432.2 36.6 L432.7 36.3 L433.1 36.0 L433.6 35.6 L434.0 35.3 L434.5 34.9 L434.9 34.6 L435.4 34.3 L435.8 33.9 L436.3 33.6 L436.8 33.3 L437.2 33.0 L437.7 32.6 L438.1 32.3 L438.6 32.0 L439.1 31.6 L439.5 31.3 L440.0 31.0 L440.4 30.7 L440.9 30.4 L441.4 30.0 L441.8 29.7 L442.3 29.4 L442.8 29.1 L443.3 28.8 L443.7 28.5 L444.2 28.2 L444.7 27.8 L445.1 27.5 L445.6 27.2 L446.1 26.9 L446.6 26.6 L447.0 26.3 L447.5 26.0 L448.0 25.7 L448.5 25.4 L448.9 25.1 L449.4 24.8 L449.9 24.5 L450.4 24.2 L450.9 23.9 L451.3 23.6 L451.8 23.3 L452.3 23.0 L452.8 22.7 L453.3 22.4 L453.7 22.1 L454.2 21.8 L454.7 21.5 L455.2 21.2 L455.7 21.0 L456.2 20.7 L456.6 20.4 L457.1 20.1 L457.6 19.8 L458.1 19.5 L458.6 19.2 L459.1 18.9 L459.5 18.6 L460.0 18.3" stroke="#00ffff"/>
</g>
<path d="M268.50 110.60H276.90 M268.50 86.18H276.90 M268.50 61.76H276.90 M268.50 37.34H276.90 M268.50 12.92H276.90 M268.50 122.81H272.90 M268.50 98.39H272.90 M268.50 73.97H272.90 M268.50 49.55H272.90 M268.50 25.13H272.90 M310.84 134.85V126.45 M353.19 134.85V126.45 M395.53 134.85V126.45 M437.88 134.85V126.45 M289.67 134.85V130.45 M332.02 134.85V130.45 M374.36 134.85V130.45 M416.71 134.85V130.45" stroke="#000" stroke-width="1.3" fill="none"/>
<rect x="268.50" y="0.65" width="190.55" height="134.20" fill="none" stroke="#000" stroke-width="1.7"/>
<text x="282.90" y="17.80" font-size="16.3" font-weight="bold">(c)</text>
<clipPath id="clipd"><rect x="268.50" y="161.65" width="190.55" height="134.20"/></clipPath>
<g clip-path="url(#clipd)" fill="none" stroke-width="1.5" stroke-linejoin="round">
<path d="M268.4 271.9 L269.0 271.9 L269.6 271.9 L270.2 272.0 L270.8 272.0 L271.4 272.0 L272.1 272.0 L272.7 272.0 L273.3 272.0 L273.9 272.0 L274.5 272.1 L275.1 272.1 L275.7 272.1 L276.3 272.1 L276.9 272.1 L277.5 272.1 L278.1 272.1 L278.8 272.1 L279.4 272.1 L280.0 272.1 L280.6 272.1 L281.2 272.1 L281.8 272.1 L282.4 272.0 L283.0 272.0 L283.6 272.0 L284.2 272.0 L284.8 272.0 L285.4 272.0 L286.0 272.0 L286.6 272.0 L287.2 272.0 L287.8 272.0 L288.5 272.0 L289.1 271.9 L289.7 271.9 L290.3 271.9 L290.9 271.9 L291.5 271.9 L292.1 271.9 L292.7 271.9 L293.3 271.9 L293.9 271.8 L294.5 271.8 L295.1 271.8 L295.7 271.8 L296.3 271.8 L296.9 271.8 L297.5 271.8 L298.1 271.8 L298.7 271.8 L299.3 271.7 L299.9 271.7 L300.6 271.7 L301.2 271.7 L301.8 271.7 L302.4 271.7 L303.0 271.7 L303.6 271.7 L304.2 271.7 L304.8 271.7 L305.4 271.7 L306.0 271.7 L306.6 271.7 L307.2 271.7 L307.8 271.7 L308.5 271.7 L309.1 271.7 L309.7 271.7 L310.3 271.7 L310.9 271.7 L311.5 271.8 L312.1 271.8 L312.7 271.8 L313.3 271.8 L314.0 271.8 L314.6 271.8 L315.2 271.8 L315.8 271.8 L316.4 271.8 L317.0 271.9 L317.6 271.9 L318.2 271.9 L318.8 271.9 L319.5 271.9 L320.1 271.9 L320.7 271.9 L321.3 271.9 L321.9 271.9 L322.5 271.9 L323.1 271.9 L323.7 271.9 L324.3 271.9 L324.9 271.8 L325.6 271.8 L326.2 271.8 L326.8 271.8 L327.4 271.7 L328.0 271.7 L328.6 271.7 L329.2 271.6 L329.8 271.6 L330.4 271.5 L331.0 271.5 L331.6 271.4 L332.2 271.4 L332.8 271.3 L333.4 271.2 L334.0 271.2 L334.6 271.1 L335.2 271.0 L335.8 270.9 L336.4 270.8 L337.0 270.7 L337.6 270.6 L338.2 270.5 L338.8 270.3 L339.4 270.2 L339.9 270.1 L340.5 269.9 L341.1 269.8 L341.7 269.6 L342.3 269.4 L342.9 269.3 L343.5 269.1 L344.0 268.9 L344.6 268.7 L345.2 268.5 L345.8 268.3 L346.3 268.1 L346.9 267.9 L347.4 267.6 L348.0 267.4 L348.6 267.1 L349.1 266.9 L349.7 266.6 L350.2 266.4 L350.8 266.1 L351.3 265.8 L351.8 265.5 L352.4 265.2 L352.9 264.9 L353.4 264.6 L353.9 264.3 L354.4 264.0 L354.9 263.6 L355.4 263.3 L355.9 262.9 L356.4 262.6 L356.9 262.2 L357.4 261.9 L357.8 261.5 L358.3 261.1 L358.7 260.7 L359.2 260.3 L359.6 259.9 L360.1 259.5 L360.5 259.1 L360.9 258.6 L361.3 258.2 L361.7 257.8 L362.1 257.3 L362.5 256.9 L362.9 256.4 L363.3 255.9 L363.6 255.4 L364.0 255.0 L364.3 254.5 L364.7 254.0 L365.0 253.4 L365.3 252.9 L365.6 252.4 L365.9 251.9 L366.2 251.3 L366.5 250.8 L366.8 250.3 L367.1 249.7 L367.3 249.1 L367.6 248.6 L367.9 248.0 L368.1 247.5 L368.3 246.9 L368.6 246.3 L368.8 245.7 L369.1 245.2 L369.3 244.6 L369.5 244.0 L369.7 243.4 L370.0 242.9 L370.2 242.3 L370.4 241.7 L370.6 241.1 L370.8 240.6 L371.0 240.0 L371.3 239.4 L371.5 238.8 L371.7 238.3 L371.9 237.7 L372.1 237.1 L372.3 236.6 L372.5 236.0 L372.7 235.5 L372.9 234.9 L373.1 234.3 L373.3 233.8 L373.5 233.2 L373.7 232.6 L373.9 232.1 L374.1 231.5 L374.2 230.9 L374.4 230.3 L374.6 229.8 L374.8 229.2 L374.9 228.6 L375.1 228.0 L375.2 227.5 L375.4 226.9 L375.5 226.3 L375.7 225.7 L375.8 225.1 L375.9 224.5 L376.1 223.9 L376.2 223.3 L376.3 222.7 L376.4 222.1 L376.6 221.5 L376.7 220.9 L376.8 220.3 L376.9 219.7 L377.1 219.1 L377.2 218.5 L377.3 217.9 L377.4 217.4 L377.6 216.8 L377.7 216.2 L377.8 215.6 L377.9 215.0 L378.1 214.4 L378.2 213.8 L378.3 213.2 L378.5 212.6 L378.6 212.0 L378.7 211.4 L378.9 210.8 L379.0 210.2 L379.2 209.6 L379.3 209.0 L379.5 208.4 L379.7 207.9 L379.8 207.3 L380.0 206.7 L380.1 206.1 L380.3 205.5 L380.5 204.9 L380.6 204.4 L380.8 203.8 L381.0 203.2 L381.1 202.6 L381.3 202.0 L381.5 201.4 L381.6 200.9 L381.8 200.3 L382.0 199.7 L382.1 199.1 L382.3 198.5 L382.4 198.0 L382.6 197.4 L382.8 196.8 L382.9 196.2 L383.1 195.6 L383.3 195.0 L383.4 194.5 L383.6 193.9 L383.7 193.3 L383.9 192.7 L384.1 192.1 L384.2 191.5 L384.4 191.0 L384.6 190.4 L384.7 189.8 L384.9 189.2 L385.1 188.6 L385.3 188.1 L385.5 187.5 L385.7 186.9 L385.9 186.3 L386.1 185.7 L386.3 185.1 L386.5 184.6 L386.7 184.0 L386.9 183.4 L387.1 182.8 L387.3 182.3 L387.6 181.7 L387.8 181.1 L388.1 180.5 L388.3 180.0 L388.6 179.4 L388.9 178.9 L389.2 178.4 L389.5 177.8 L389.8 177.3 L390.1 176.8 L390.4 176.3 L390.8 175.8 L391.1 175.3 L391.5 174.9 L391.9 174.4 L392.3 174.0 L392.7 173.6 L393.1 173.2 L393.5 172.8 L394.0 172.5 L394.5 172.1 L394.9 171.8 L395.4 171.5 L396.0 171.2 L396.5 171.0 L397.0 170.7 L397.6 170.5 L398.1 170.3 L398.7 170.0 L399.3 169.8 L399.9 169.6 L400.5 169.5 L401.0 169.3 L401.6 169.1 L402.2 168.9 L402.8 168.8 L403.4 168.6 L404.0 168.5 L404.6 168.3 L405.2 168.2 L405.8 168.0 L406.4 167.9 L407.0 167.7 L407.6 167.6 L408.2 167.5 L408.8 167.3 L409.4 167.2 L410.0 167.1 L410.6 166.9 L411.2 166.8 L411.8 166.7 L412.4 166.5 L413.0 166.4 L413.6 166.3 L414.1 166.1 L414.7 166.0 L415.3 165.9 L415.9 165.7 L416.5 165.6 L417.1 165.5 L417.7 165.3 L418.3 165.2 L418.9 165.1 L419.5 164.9 L420.0 164.8 L420.6 164.7 L421.2 164.5 L421.8 164.4 L422.4 164.3 L423.0 164.1 L423.6 164.0 L424.2 163.9 L424.8 163.7 L425.4 163.6 L426.0 163.4 L426.6 163.3 L427.1 163.2 L427.7 163.0 L428.3 162.9 L428.9 162.8 L429.5 162.6 L430.1 162.5 L430.7 162.4 L431.3 162.2 L431.9 162.1 L432.5 162.0 L433.1 161.9 L433.7 161.7 L434.3 161.6 L434.9 161.5 L435.5 161.4 L436.1 161.2 L436.6 161.1 L437.2 161.0 L437.8 160.9 L438.4 160.7 L439.0 160.6 L439.6 160.5 L440.2 160.4 L440.8 160.3 L441.4 160.2 L442.0 160.1 L442.6 160.0 L443.2 159.9 L443.8 159.8 L444.4 159.6 L445.0 159.5" stroke="#000000"/>
<path d="M268.4 272.1 L269.0 272.1 L269.6 272.1 L270.3 272.0 L270.9 272.0 L271.5 272.0 L272.1 272.0 L272.8 272.0 L273.4 271.9 L274.0 271.9 L274.7 271.9 L275.3 271.9 L275.9 271.9 L276.5 271.9 L277.2 271.9 L277.8 271.9 L278.4 271.8 L279.0 271.8 L279.7 271.8 L280.3 271.8 L280.9 271.8 L281.5 271.8 L282.2 271.8 L282.8 271.8 L283.4 271.8 L284.0 271.8 L284.7 271.8 L285.3 271.8 L285.9 271.8 L286.6 271.8 L287.2 271.8 L287.8 271.8 L288.4 271.8 L289.1 271.8 L289.7 271.8 L290.3 271.8 L290.9 271.8 L291.6 271.8 L292.2 271.8 L292.8 271.9 L293.4 271.9 L294.1 271.9 L294.7 271.9 L295.3 271.9 L295.9 271.9 L296.6 271.9 L297.2 271.9 L297.8 271.9 L298.4 271.9 L299.1 271.9 L299.7 271.9 L300.3 271.9 L300.9 271.9 L301.6 271.9 L302.2 271.9 L302.8 271.9 L303.4 271.9 L304.1 271.9 L304.7 271.9 L305.3 271.9 L305.9 271.9 L306.5 271.9 L307.2 271.9 L307.8 271.9 L308.4 271.9 L309.0 271.9 L309.7 271.9 L310.3 271.9 L310.9 271.9 L311.5 271.8 L312.2 271.8 L312.8 271.8 L313.4 271.8 L314.0 271.8 L314.7 271.8 L315.3 271.8 L315.9 271.7 L316.5 271.7 L317.2 271.7 L317.8 271.7 L318.4 271.7 L319.0 271.6 L319.7 271.6 L320.3 271.6 L320.9 271.5 L321.5 271.5 L322.1 271.5 L322.8 271.4 L323.4 271.4 L324.0 271.4 L324.6 271.3 L325.3 271.3 L325.9 271.2 L326.5 271.2 L327.1 271.1 L327.8 271.1 L328.4 271.0 L329.0 271.0 L329.6 270.9 L330.3 270.9 L330.9 270.8 L331.5 270.7 L332.1 270.7 L332.7 270.6 L333.4 270.5 L334.0 270.5 L334.6 270.4 L335.2 270.3 L335.9 270.2 L336.5 270.2 L337.1 270.1 L337.7 270.0 L338.4 269.9 L339.0 269.8 L339.6 269.7 L340.2 269.6 L340.8 269.5 L341.5 269.4 L342.1 269.3 L342.7 269.2 L343.3 269.0 L343.9 268.9 L344.6 268.8 L345.2 268.6 L345.8 268.5 L346.4 268.4 L347.0 268.2 L347.6 268.0 L348.2 267.9 L348.8 267.7 L349.4 267.5 L350.0 267.3 L350.6 267.1 L351.2 266.9 L351.8 266.7 L352.3 266.5 L352.9 266.3 L353.5 266.0 L354.1 265.8 L354.6 265.5 L355.2 265.2 L355.7 265.0 L356.3 264.7 L356.8 264.4 L357.4 264.1 L357.9 263.8 L358.4 263.4 L358.9 263.1 L359.5 262.7 L360.0 262.4 L360.5 262.0 L361.0 261.6 L361.4 261.3 L361.9 260.9 L362.4 260.5 L362.9 260.1 L363.3 259.6 L363.8 259.2 L364.2 258.8 L364.6 258.3 L365.0 257.9 L365.5 257.4 L365.9 257.0 L366.3 256.5 L366.6 256.0 L367.0 255.5 L367.4 255.0 L367.7 254.5 L368.1 254.0 L368.4 253.5 L368.7 252.9 L369.1 252.4 L369.4 251.9 L369.7 251.3 L370.0 250.8 L370.2 250.2 L370.5 249.6 L370.8 249.1 L371.1 248.5 L371.3 247.9 L371.6 247.4 L371.9 246.8 L372.1 246.2 L372.4 245.6 L372.6 245.1 L372.8 244.5 L373.1 243.9 L373.3 243.3 L373.6 242.7 L373.8 242.1 L374.0 241.5 L374.2 241.0 L374.5 240.4 L374.7 239.8 L374.9 239.2 L375.2 238.6 L375.4 238.0 L375.6 237.4 L375.8 236.8 L376.1 236.3 L376.3 235.7 L376.5 235.1 L376.7 234.5 L377.0 233.9 L377.2 233.3 L377.4 232.7 L377.6 232.2 L377.8 231.6 L378.1 231.0 L378.3 230.4 L378.5 229.8 L378.7 229.2 L378.9 228.7 L379.1 228.1 L379.4 227.5 L379.6 226.9 L379.8 226.3 L380.0 225.7 L380.2 225.2 L380.4 224.6 L380.7 224.0 L380.9 223.4 L381.1 222.8 L381.3 222.2 L381.5 221.6 L381.8 221.1 L382.0 220.5 L382.2 219.9 L382.4 219.3 L382.6 218.7 L382.8 218.1 L383.1 217.6 L383.3 217.0 L383.5 216.4 L383.7 215.8 L383.9 215.2 L384.2 214.6 L384.4 214.1 L384.6 213.5 L384.8 212.9 L385.0 212.3 L385.3 211.7 L385.5 211.1 L385.7 210.6 L385.9 210.0 L386.2 209.4 L386.4 208.8 L386.6 208.2 L386.8 207.6 L387.1 207.1 L387.3 206.5 L387.5 205.9 L387.7 205.3 L388.0 204.7 L388.2 204.1 L388.4 203.6 L388.6 203.0 L388.9 202.4 L389.1 201.8 L389.3 201.2 L389.6 200.6 L389.8 200.0 L390.0 199.5 L390.3 198.9 L390.5 198.3 L390.7 197.7 L391.0 197.1 L391.2 196.5 L391.5 195.9 L391.7 195.4 L391.9 194.8 L392.2 194.2 L392.5 193.6 L392.7 193.0 L393.0 192.5 L393.2 191.9 L393.5 191.3 L393.8 190.8 L394.1 190.2 L394.3 189.7 L394.6 189.1 L394.9 188.6 L395.2 188.0 L395.5 187.5 L395.9 187.0 L396.2 186.4 L396.5 185.9 L396.9 185.4 L397.2 184.9 L397.6 184.4 L398.0 183.9 L398.3 183.4 L398.7 182.9 L399.1 182.5 L399.5 182.0 L399.9 181.5 L400.3 181.1 L400.8 180.6 L401.2 180.2 L401.6 179.8 L402.1 179.3 L402.6 178.9 L403.0 178.5 L403.5 178.1 L404.0 177.7 L404.4 177.3 L404.9 176.9 L405.4 176.6 L405.9 176.2 L406.4 175.8 L406.9 175.5 L407.5 175.1 L408.0 174.8 L408.5 174.5 L409.1 174.2 L409.6 173.8 L410.1 173.5 L410.7 173.2 L411.2 172.9 L411.8 172.6 L412.4 172.4 L412.9 172.1 L413.5 171.8 L414.1 171.5 L414.6 171.3 L415.2 171.0 L415.8 170.8 L416.4 170.5 L416.9 170.3 L417.5 170.0 L418.1 169.8 L418.7 169.6 L419.3 169.4 L419.9 169.1 L420.5 168.9 L421.1 168.7 L421.7 168.5 L422.2 168.3 L422.8 168.1 L423.4 167.9 L424.0 167.7 L424.6 167.5 L425.2 167.3 L425.8 167.1 L426.4 166.9 L427.0 166.7 L427.6 166.5 L428.2 166.3 L428.8 166.2 L429.4 166.0 L430.0 165.8 L430.6 165.6 L431.2 165.5 L431.8 165.3 L432.4 165.2 L433.0 165.0 L433.6 164.9 L434.2 164.7 L434.8 164.6 L435.4 164.4 L436.0 164.3 L436.6 164.2 L437.2 164.0 L437.8 163.9 L438.4 163.8 L439.0 163.7 L439.7 163.6 L440.3 163.4 L440.9 163.3 L441.5 163.2 L442.1 163.1 L442.7 163.0 L443.3 162.9 L444.0 162.8 L444.6 162.7 L445.2 162.6 L445.8 162.5 L446.4 162.4 L447.1 162.3 L447.7 162.2 L448.3 162.1 L448.9 162.0 L449.5 161.9 L450.1 161.8 L450.8 161.7 L451.4 161.6 L452.0 161.5 L452.6 161.4 L453.2 161.3 L453.9 161.2 L454.5 161.1 L455.1 160.9 L455.7 160.8 L456.3 160.7 L456.9 160.6 L457.5 160.5 L458.2 160.4 L458.8 160.2 L459.4 160.1 L460.0 160.0" stroke="#9400d3"/>
<path d="M268.4 272.1 L269.0 272.1 L269.6 272.1 L270.2 272.0 L270.8 272.0 L271.4 272.0 L272.0 272.0 L272.6 272.0 L273.2 271.9 L273.8 271.9 L274.4 271.9 L275.0 271.9 L275.6 271.9 L276.2 271.9 L276.8 271.9 L277.4 271.9 L278.0 271.8 L278.6 271.8 L279.2 271.8 L279.8 271.8 L280.4 271.8 L281.0 271.8 L281.6 271.8 L282.2 271.8 L282.8 271.8 L283.4 271.8 L284.0 271.8 L284.6 271.8 L285.2 271.8 L285.8 271.8 L286.4 271.8 L287.0 271.8 L287.6 271.8 L288.2 271.8 L288.8 271.8 L289.4 271.8 L290.0 271.8 L290.6 271.8 L291.2 271.8 L291.8 271.8 L292.4 271.8 L293.0 271.8 L293.6 271.8 L294.2 271.8 L294.8 271.9 L295.4 271.9 L296.0 271.9 L296.6 271.9 L297.2 271.9 L297.8 271.9 L298.4 271.9 L299.0 271.9 L299.6 271.9 L300.2 271.9 L300.8 271.9 L301.4 271.9 L302.0 271.9 L302.6 271.9 L303.2 271.9 L303.8 271.9 L304.4 271.9 L305.0 271.9 L305.6 271.9 L306.2 271.9 L306.8 271.9 L307.4 271.9 L308.0 271.9 L308.5 271.9 L309.1 271.9 L309.7 271.9 L310.3 271.9 L310.9 271.9 L311.5 271.9 L312.1 271.8 L312.7 271.8 L313.3 271.8 L313.9 271.8 L314.5 271.8 L315.1 271.8 L315.7 271.8 L316.3 271.7 L316.9 271.7 L317.5 271.7 L318.1 271.7 L318.7 271.7 L319.3 271.6 L319.9 271.6 L320.5 271.6 L321.1 271.6 L321.7 271.5 L322.3 271.5 L322.9 271.5 L323.5 271.4 L324.1 271.4 L324.7 271.3 L325.3 271.3 L325.9 271.3 L326.5 271.2 L327.1 271.2 L327.7 271.1 L328.3 271.1 L328.9 271.0 L329.5 271.0 L330.1 270.9 L330.7 270.9 L331.3 270.8 L331.9 270.7 L332.5 270.7 L333.1 270.6 L333.7 270.5 L334.3 270.5 L334.8 270.4 L335.4 270.3 L336.0 270.2 L336.6 270.1 L337.2 270.1 L337.8 270.0 L338.4 269.9 L339.0 269.8 L339.6 269.7 L340.2 269.6 L340.8 269.5 L341.4 269.4 L342.0 269.3 L342.6 269.2 L343.2 269.1 L343.8 268.9 L344.4 268.8 L345.0 268.7 L345.5 268.5 L346.1 268.4 L346.7 268.3 L347.3 268.1 L347.9 267.9 L348.5 267.8 L349.0 267.6 L349.6 267.4 L350.2 267.2 L350.7 267.1 L351.3 266.9 L351.9 266.6 L352.4 266.4 L353.0 266.2 L353.5 266.0 L354.1 265.7 L354.6 265.5 L355.1 265.2 L355.7 265.0 L356.2 264.7 L356.7 264.4 L357.3 264.1 L357.8 263.8 L358.3 263.5 L358.8 263.2 L359.3 262.9 L359.8 262.6 L360.2 262.2 L360.7 261.9 L361.2 261.5 L361.7 261.2 L362.1 260.8 L362.6 260.4 L363.0 260.0 L363.4 259.6 L363.9 259.2 L364.3 258.8 L364.7 258.4 L365.1 258.0 L365.5 257.5 L365.9 257.1 L366.2 256.6 L366.6 256.2 L367.0 255.7 L367.3 255.2 L367.7 254.8 L368.0 254.3 L368.4 253.8 L368.7 253.3 L369.0 252.8 L369.4 252.3 L369.7 251.8 L370.0 251.3 L370.3 250.7 L370.6 250.2 L370.9 249.7 L371.2 249.2 L371.4 248.6 L371.7 248.1 L372.0 247.5 L372.3 247.0 L372.5 246.4 L372.8 245.9 L373.0 245.3 L373.3 244.8 L373.5 244.2 L373.8 243.7 L374.0 243.1 L374.2 242.6 L374.5 242.0 L374.7 241.5 L374.9 240.9 L375.2 240.3 L375.4 239.8 L375.6 239.2 L375.9 238.7 L376.1 238.1 L376.3 237.5 L376.6 237.0 L376.8 236.4 L377.0 235.9 L377.2 235.3 L377.5 234.8 L377.7 234.2 L378.0 233.7 L378.2 233.1 L378.4 232.6 L378.7 232.0 L378.9 231.5 L379.2 230.9 L379.5 230.4 L379.7 229.9 L380.0 229.3 L380.2 228.8 L380.5 228.3 L380.8 227.7 L381.1 227.2 L381.3 226.7 L381.6 226.2 L381.9 225.6 L382.2 225.1 L382.5 224.6 L382.8 224.1 L383.1 223.6 L383.4 223.1 L383.7 222.6 L384.0 222.1 L384.3 221.6 L384.7 221.1 L385.0 220.6 L385.3 220.1 L385.7 219.6 L386.0 219.1 L386.3 218.6 L386.7 218.1 L387.0 217.6 L387.4 217.2 L387.8 216.7 L388.1 216.2 L388.5 215.7 L388.8 215.3 L389.2 214.8 L389.6 214.3 L389.9 213.8 L390.3 213.4 L390.7 212.9 L391.0 212.4 L391.4 211.9 L391.8 211.5 L392.1 211.0 L392.5 210.5 L392.9 210.0 L393.3 209.6 L393.6 209.1 L394.0 208.6 L394.4 208.2 L394.8 207.7 L395.1 207.2 L395.5 206.7 L395.9 206.3 L396.3 205.8 L396.6 205.3 L397.0 204.9 L397.4 204.4 L397.8 203.9 L398.2 203.5 L398.6 203.0 L398.9 202.6 L399.3 202.1 L399.7 201.7 L400.1 201.2 L400.5 200.7 L400.9 200.3 L401.3 199.8 L401.7 199.4 L402.1 198.9 L402.5 198.5 L402.9 198.0 L403.3 197.6 L403.7 197.2 L404.1 196.7 L404.5 196.3 L404.9 195.9 L405.4 195.4 L405.8 195.0 L406.2 194.6 L406.6 194.1 L407.0 193.7 L407.5 193.3 L407.9 192.9 L408.3 192.5 L408.7 192.1 L409.2 191.6 L409.6 191.2 L410.1 190.8 L410.5 190.4 L410.9 190.0 L411.4 189.6 L411.8 189.2 L412.3 188.9 L412.7 188.5 L413.2 188.1 L413.7 187.7 L414.1 187.3 L414.6 186.9 L415.0 186.6 L415.5 186.2 L416.0 185.8 L416.5 185.5 L416.9 185.1 L417.4 184.7 L417.9 184.4 L418.4 184.0 L418.8 183.7 L419.3 183.3 L419.8 183.0 L420.3 182.6 L420.8 182.3 L421.3 181.9 L421.8 181.6 L422.3 181.3 L422.8 180.9 L423.3 180.6 L423.8 180.3 L424.3 179.9 L424.8 179.6 L425.3 179.3 L425.8 179.0 L426.3 178.7 L426.8 178.3 L427.3 178.0 L427.8 177.7 L428.3 177.4 L428.9 177.1 L429.4 176.8 L429.9 176.5 L430.4 176.2 L430.9 175.9 L431.5 175.6 L432.0 175.3 L432.5 175.1 L433.0 174.8 L433.6 174.5 L434.1 174.2 L434.6 173.9 L435.2 173.6 L435.7 173.4 L436.2 173.1 L436.8 172.8 L437.3 172.6 L437.8 172.3 L438.4 172.0 L438.9 171.8 L439.5 171.5 L440.0 171.3 L440.5 171.0 L441.1 170.8 L441.6 170.5 L442.2 170.3 L442.7 170.0 L443.3 169.8 L443.8 169.5 L444.4 169.3 L444.9 169.0 L445.5 168.8 L446.0 168.6 L446.6 168.3 L447.1 168.1 L447.7 167.9 L448.2 167.7 L448.8 167.4 L449.3 167.2 L449.9 167.0 L450.5 166.8 L451.0 166.5 L451.6 166.3 L452.1 166.1 L452.7 165.9 L453.3 165.7 L453.8 165.5 L454.4 165.3 L454.9 165.0 L455.5 164.8 L456.1 164.6 L456.6 164.4 L457.2 164.2 L457.8 164.0 L458.3 163.8 L458.9 163.6 L459.4 163.4 L460.0 163.2" stroke="#7221bc"/>
<path d="M268.4 272.0 L269.0 272.0 L269.5 272.0 L270.1 272.0 L270.7 272.0 L271.2 271.9 L271.8 271.9 L272.4 271.9 L272.9 271.9 L273.5 271.9 L274.1 271.9 L274.6 271.9 L275.2 271.9 L275.8 271.9 L276.3 271.9 L276.9 271.9 L277.5 271.9 L278.0 271.9 L278.6 271.9 L279.1 271.9 L279.7 271.9 L280.3 271.9 L280.9 271.9 L281.4 271.8 L282.0 271.8 L282.6 271.8 L283.1 271.8 L283.7 271.8 L284.3 271.8 L284.8 271.8 L285.4 271.8 L286.0 271.7 L286.5 271.7 L287.1 271.7 L287.7 271.7 L288.2 271.7 L288.8 271.7 L289.4 271.6 L289.9 271.6 L290.5 271.6 L291.1 271.6 L291.6 271.5 L292.2 271.5 L292.8 271.5 L293.3 271.5 L293.9 271.4 L294.5 271.4 L295.0 271.4 L295.6 271.3 L296.2 271.3 L296.7 271.2 L297.3 271.2 L297.9 271.2 L298.4 271.1 L299.0 271.1 L299.6 271.0 L300.1 271.0 L300.7 270.9 L301.3 270.9 L301.8 270.8 L302.4 270.8 L303.0 270.7 L303.5 270.7 L304.1 270.6 L304.7 270.5 L305.2 270.5 L305.8 270.4 L306.3 270.3 L306.9 270.3 L307.5 270.2 L308.0 270.1 L308.6 270.0 L309.1 270.0 L309.7 269.9 L310.3 269.8 L310.8 269.7 L311.4 269.6 L311.9 269.5 L312.5 269.4 L313.1 269.3 L313.6 269.3 L314.2 269.2 L314.7 269.1 L315.3 268.9 L315.8 268.8 L316.4 268.7 L316.9 268.6 L317.5 268.5 L318.0 268.4 L318.6 268.3 L319.2 268.1 L319.7 268.0 L320.3 267.9 L320.8 267.8 L321.3 267.6 L321.9 267.5 L322.4 267.3 L323.0 267.2 L323.5 267.1 L324.1 266.9 L324.6 266.8 L325.2 266.6 L325.7 266.4 L326.3 266.3 L326.8 266.1 L327.3 265.9 L327.9 265.8 L328.4 265.6 L329.0 265.4 L329.5 265.2 L330.0 265.1 L330.6 264.9 L331.1 264.7 L331.6 264.5 L332.2 264.3 L332.7 264.1 L333.2 263.9 L333.8 263.7 L334.3 263.5 L334.8 263.3 L335.3 263.1 L335.9 262.8 L336.4 262.6 L336.9 262.4 L337.4 262.2 L338.0 261.9 L338.5 261.7 L339.0 261.5 L339.5 261.2 L340.0 261.0 L340.5 260.7 L341.1 260.5 L341.6 260.2 L342.1 260.0 L342.6 259.7 L343.1 259.5 L343.6 259.2 L344.1 258.9 L344.6 258.7 L345.1 258.4 L345.6 258.1 L346.1 257.9 L346.6 257.6 L347.1 257.3 L347.6 257.0 L348.0 256.7 L348.5 256.4 L349.0 256.1 L349.5 255.8 L350.0 255.5 L350.5 255.2 L350.9 254.9 L351.4 254.6 L351.9 254.3 L352.3 254.0 L352.8 253.7 L353.3 253.4 L353.7 253.0 L354.2 252.7 L354.7 252.4 L355.1 252.1 L355.6 251.7 L356.0 251.4 L356.5 251.1 L356.9 250.7 L357.4 250.4 L357.8 250.0 L358.3 249.7 L358.7 249.3 L359.2 249.0 L359.6 248.6 L360.0 248.3 L360.5 247.9 L360.9 247.5 L361.3 247.2 L361.8 246.8 L362.2 246.4 L362.6 246.1 L363.1 245.7 L363.5 245.3 L363.9 245.0 L364.3 244.6 L364.7 244.2 L365.2 243.8 L365.6 243.4 L366.0 243.1 L366.4 242.7 L366.8 242.3 L367.2 241.9 L367.6 241.5 L368.0 241.1 L368.5 240.7 L368.9 240.3 L369.3 239.9 L369.7 239.5 L370.1 239.1 L370.5 238.7 L370.9 238.3 L371.3 238.0 L371.7 237.6 L372.1 237.2 L372.5 236.8 L372.9 236.4 L373.3 236.0 L373.7 235.6 L374.1 235.2 L374.5 234.8 L375.0 234.4 L375.4 234.0 L375.8 233.6 L376.2 233.2 L376.6 232.8 L377.0 232.4 L377.4 232.0 L377.8 231.6 L378.2 231.2 L378.6 230.9 L379.0 230.5 L379.4 230.1 L379.9 229.7 L380.3 229.3 L380.7 228.9 L381.1 228.5 L381.5 228.1 L381.9 227.7 L382.3 227.3 L382.7 226.9 L383.1 226.5 L383.5 226.2 L383.9 225.8 L384.4 225.4 L384.8 225.0 L385.2 224.6 L385.6 224.2 L386.0 223.8 L386.4 223.4 L386.8 223.0 L387.2 222.6 L387.6 222.2 L388.0 221.8 L388.4 221.4 L388.8 221.1 L389.2 220.7 L389.7 220.3 L390.1 219.9 L390.5 219.5 L390.9 219.1 L391.3 218.7 L391.7 218.3 L392.1 217.9 L392.5 217.5 L392.9 217.1 L393.3 216.7 L393.7 216.3 L394.1 215.9 L394.5 215.5 L394.9 215.1 L395.3 214.7 L395.7 214.3 L396.1 213.9 L396.5 213.5 L396.9 213.1 L397.3 212.7 L397.7 212.3 L398.1 211.9 L398.5 211.5 L398.9 211.1 L399.3 210.7 L399.7 210.2 L400.1 209.8 L400.5 209.4 L400.9 209.0 L401.2 208.6 L401.6 208.2 L402.0 207.8 L402.4 207.4 L402.8 207.0 L403.2 206.6 L403.6 206.2 L404.0 205.8 L404.4 205.4 L404.8 205.0 L405.2 204.6 L405.6 204.2 L406.0 203.8 L406.4 203.4 L406.8 203.0 L407.2 202.6 L407.6 202.2 L408.1 201.8 L408.5 201.4 L408.9 201.0 L409.3 200.6 L409.7 200.3 L410.1 199.9 L410.5 199.5 L410.9 199.1 L411.4 198.7 L411.8 198.3 L412.2 198.0 L412.6 197.6 L413.1 197.2 L413.5 196.9 L413.9 196.5 L414.3 196.1 L414.8 195.8 L415.2 195.4 L415.7 195.1 L416.1 194.7 L416.5 194.4 L417.0 194.0 L417.4 193.7 L417.9 193.3 L418.3 193.0 L418.8 192.6 L419.2 192.3 L419.7 192.0 L420.2 191.6 L420.6 191.3 L421.1 191.0 L421.5 190.6 L422.0 190.3 L422.5 190.0 L422.9 189.7 L423.4 189.3 L423.9 189.0 L424.3 188.7 L424.8 188.4 L425.3 188.0 L425.7 187.7 L426.2 187.4 L426.7 187.1 L427.1 186.7 L427.6 186.4 L428.1 186.1 L428.5 185.8 L429.0 185.5 L429.5 185.1 L429.9 184.8 L430.4 184.5 L430.9 184.2 L431.3 183.8 L431.8 183.5 L432.3 183.2 L432.7 182.9 L433.2 182.5 L433.7 182.2 L434.1 181.9 L434.6 181.6 L435.1 181.3 L435.5 181.0 L436.0 180.6 L436.5 180.3 L436.9 180.0 L437.4 179.7 L437.9 179.4 L438.4 179.1 L438.8 178.8 L439.3 178.5 L439.8 178.2 L440.3 177.9 L440.7 177.6 L441.2 177.3 L441.7 177.0 L442.2 176.7 L442.7 176.4 L443.2 176.1 L443.7 175.8 L444.1 175.5 L444.6 175.2 L445.1 175.0 L445.6 174.7 L446.1 174.4 L446.6 174.1 L447.1 173.9 L447.6 173.6 L448.1 173.3 L448.6 173.1 L449.1 172.8 L449.6 172.6 L450.1 172.3 L450.6 172.1 L451.1 171.8 L451.6 171.6 L452.1 171.3 L452.7 171.1 L453.2 170.8 L453.7 170.6 L454.2 170.4 L454.7 170.2 L455.3 169.9 L455.8 169.7 L456.3 169.5 L456.8 169.3 L457.4 169.1 L457.9 168.9 L458.4 168.7 L459.0 168.5 L459.5 168.3 L460.0 168.1" stroke="#0000ff"/>
<path d="M268.5 272.8 L269.0 272.8 L269.6 272.8 L270.1 272.8 L270.7 272.9 L271.2 272.9 L271.8 272.9 L272.3 272.9 L272.9 272.9 L273.4 273.0 L274.0 273.0 L274.5 273.0 L275.1 273.0 L275.6 273.0 L276.2 273.1 L276.7 273.1 L277.3 273.1 L277.8 273.1 L278.4 273.1 L279.0 273.1 L279.5 273.1 L280.1 273.2 L280.6 273.2 L281.2 273.2 L281.7 273.2 L282.3 273.2 L282.9 273.2 L283.4 273.2 L284.0 273.2 L284.5 273.2 L285.1 273.2 L285.7 273.2 L286.2 273.2 L286.8 273.2 L287.4 273.2 L287.9 273.2 L288.5 273.2 L289.0 273.2 L289.6 273.2 L290.2 273.2 L290.7 273.2 L291.3 273.2 L291.9 273.1 L292.4 273.1 L293.0 273.1 L293.5 273.1 L294.1 273.1 L294.7 273.1 L295.2 273.0 L295.8 273.0 L296.4 273.0 L296.9 272.9 L297.5 272.9 L298.1 272.9 L298.6 272.8 L299.2 272.8 L299.8 272.8 L300.3 272.7 L300.9 272.7 L301.4 272.6 L302.0 272.6 L302.6 272.5 L303.1 272.5 L303.7 272.4 L304.3 272.4 L304.8 272.3 L305.4 272.2 L305.9 272.2 L306.5 272.1 L307.1 272.0 L307.6 271.9 L308.2 271.9 L308.7 271.8 L309.3 271.7 L309.8 271.6 L310.4 271.5 L311.0 271.4 L311.5 271.4 L312.1 271.3 L312.6 271.2 L313.2 271.1 L313.7 271.0 L314.3 270.8 L314.8 270.7 L315.4 270.6 L315.9 270.5 L316.5 270.4 L317.0 270.3 L317.6 270.2 L318.1 270.0 L318.7 269.9 L319.2 269.8 L319.7 269.6 L320.3 269.5 L320.8 269.3 L321.4 269.2 L321.9 269.1 L322.4 268.9 L323.0 268.7 L323.5 268.6 L324.0 268.4 L324.6 268.3 L325.1 268.1 L325.6 267.9 L326.2 267.8 L326.7 267.6 L327.2 267.4 L327.7 267.2 L328.3 267.0 L328.8 266.8 L329.3 266.6 L329.8 266.4 L330.3 266.2 L330.8 266.0 L331.3 265.8 L331.9 265.6 L332.4 265.4 L332.9 265.2 L333.4 265.0 L333.9 264.7 L334.4 264.5 L334.9 264.3 L335.4 264.1 L335.9 263.8 L336.4 263.6 L336.9 263.3 L337.4 263.1 L337.9 262.9 L338.4 262.6 L338.9 262.4 L339.4 262.1 L339.9 261.9 L340.4 261.6 L340.8 261.3 L341.3 261.1 L341.8 260.8 L342.3 260.5 L342.8 260.3 L343.3 260.0 L343.7 259.7 L344.2 259.4 L344.7 259.1 L345.2 258.9 L345.7 258.6 L346.1 258.3 L346.6 258.0 L347.1 257.7 L347.6 257.4 L348.0 257.1 L348.5 256.8 L349.0 256.5 L349.4 256.2 L349.9 255.9 L350.4 255.6 L350.8 255.3 L351.3 255.0 L351.8 254.7 L352.2 254.4 L352.7 254.0 L353.2 253.7 L353.6 253.4 L354.1 253.1 L354.5 252.8 L355.0 252.4 L355.4 252.1 L355.9 251.8 L356.4 251.5 L356.8 251.1 L357.3 250.8 L357.7 250.5 L358.2 250.1 L358.6 249.8 L359.1 249.4 L359.5 249.1 L360.0 248.8 L360.4 248.4 L360.9 248.1 L361.3 247.7 L361.7 247.4 L362.2 247.0 L362.6 246.7 L363.1 246.4 L363.5 246.0 L364.0 245.7 L364.4 245.3 L364.8 245.0 L365.3 244.6 L365.7 244.2 L366.2 243.9 L366.6 243.5 L367.0 243.2 L367.5 242.8 L367.9 242.5 L368.3 242.1 L368.8 241.7 L369.2 241.4 L369.7 241.0 L370.1 240.7 L370.5 240.3 L371.0 239.9 L371.4 239.6 L371.8 239.2 L372.2 238.9 L372.7 238.5 L373.1 238.1 L373.5 237.8 L374.0 237.4 L374.4 237.0 L374.8 236.7 L375.3 236.3 L375.7 235.9 L376.1 235.6 L376.5 235.2 L377.0 234.8 L377.4 234.5 L377.8 234.1 L378.2 233.7 L378.7 233.4 L379.1 233.0 L379.5 232.6 L379.9 232.3 L380.4 231.9 L380.8 231.5 L381.2 231.2 L381.6 230.8 L382.1 230.4 L382.5 230.1 L382.9 229.7 L383.3 229.3 L383.7 229.0 L384.2 228.6 L384.6 228.2 L385.0 227.9 L385.4 227.5 L385.9 227.1 L386.3 226.8 L386.7 226.4 L387.1 226.0 L387.5 225.7 L388.0 225.3 L388.4 224.9 L388.8 224.5 L389.2 224.2 L389.6 223.8 L390.1 223.4 L390.5 223.1 L390.9 222.7 L391.3 222.3 L391.7 222.0 L392.2 221.6 L392.6 221.2 L393.0 220.9 L393.4 220.5 L393.8 220.1 L394.3 219.8 L394.7 219.4 L395.1 219.0 L395.5 218.7 L395.9 218.3 L396.4 217.9 L396.8 217.6 L397.2 217.2 L397.6 216.8 L398.0 216.5 L398.5 216.1 L398.9 215.7 L399.3 215.4 L399.7 215.0 L400.1 214.6 L400.6 214.3 L401.0 213.9 L401.4 213.5 L401.8 213.2 L402.2 212.8 L402.7 212.4 L403.1 212.1 L403.5 211.7 L403.9 211.3 L404.4 211.0 L404.8 210.6 L405.2 210.3 L405.6 209.9 L406.1 209.5 L406.5 209.2 L406.9 208.8 L407.3 208.4 L407.8 208.1 L408.2 207.7 L408.6 207.4 L409.0 207.0 L409.5 206.6 L409.9 206.3 L410.3 205.9 L410.7 205.6 L411.2 205.2 L411.6 204.9 L412.0 204.5 L412.5 204.1 L412.9 203.8 L413.3 203.4 L413.8 203.1 L414.2 202.7 L414.6 202.4 L415.1 202.0 L415.5 201.7 L415.9 201.3 L416.4 200.9 L416.8 200.6 L417.2 200.2 L417.7 199.9 L418.1 199.5 L418.5 199.2 L419.0 198.8 L419.4 198.5 L419.8 198.1 L420.3 197.8 L420.7 197.4 L421.2 197.1 L421.6 196.7 L422.0 196.4 L422.5 196.1 L422.9 195.7 L423.4 195.4 L423.8 195.0 L424.3 194.7 L424.7 194.3 L425.2 194.0 L425.6 193.7 L426.0 193.3 L426.5 193.0 L426.9 192.7 L427.4 192.3 L427.8 192.0 L428.3 191.6 L428.7 191.3 L429.2 191.0 L429.7 190.7 L430.1 190.3 L430.6 190.0 L431.0 189.7 L431.5 189.3 L431.9 189.0 L432.4 188.7 L432.8 188.4 L433.3 188.1 L433.8 187.7 L434.2 187.4 L434.7 187.1 L435.2 186.8 L435.6 186.5 L436.1 186.2 L436.5 185.8 L437.0 185.5 L437.5 185.2 L437.9 184.9 L438.4 184.6 L438.9 184.3 L439.4 184.0 L439.8 183.7 L440.3 183.4 L440.8 183.1 L441.2 182.8 L441.7 182.5 L442.2 182.2 L442.7 181.9 L443.2 181.6 L443.6 181.3 L444.1 181.1 L444.6 180.8 L445.1 180.5 L445.6 180.2 L446.0 179.9 L446.5 179.6 L447.0 179.4 L447.5 179.1 L448.0 178.8 L448.5 178.5 L449.0 178.3 L449.5 178.0 L450.0 177.7 L450.5 177.5 L450.9 177.2 L451.4 177.0 L451.9 176.7 L452.4 176.5 L452.9 176.2 L453.4 176.0 L453.9 175.7 L454.4 175.5 L454.9 175.2 L455.5 175.0 L456.0 174.7 L456.5 174.5 L457.0 174.3 L457.5 174.0 L458.0 173.8 L458.5 173.6 L459.0 173.4 L459.5 173.1 L460.1 172.9" stroke="#ff00ff"/>
<path d="M268.4 274.8 L269.0 274.9 L269.5 274.9 L270.1 275.0 L270.6 275.0 L271.2 275.1 L271.7 275.1 L272.3 275.2 L272.8 275.2 L273.4 275.3 L273.9 275.3 L274.5 275.4 L275.1 275.4 L275.6 275.5 L276.2 275.5 L276.7 275.6 L277.3 275.6 L277.8 275.6 L278.4 275.7 L278.9 275.7 L279.5 275.8 L280.1 275.8 L280.6 275.8 L281.2 275.8 L281.7 275.9 L282.3 275.9 L282.9 275.9 L283.4 275.9 L284.0 276.0 L284.5 276.0 L285.1 276.0 L285.7 276.0 L286.2 276.0 L286.8 276.1 L287.3 276.1 L287.9 276.1 L288.5 276.1 L289.0 276.1 L289.6 276.1 L290.1 276.1 L290.7 276.1 L291.3 276.1 L291.8 276.1 L292.4 276.1 L292.9 276.1 L293.5 276.1 L294.1 276.0 L294.6 276.0 L295.2 276.0 L295.7 276.0 L296.3 276.0 L296.9 275.9 L297.4 275.9 L298.0 275.9 L298.5 275.9 L299.1 275.8 L299.6 275.8 L300.2 275.7 L300.8 275.7 L301.3 275.7 L301.9 275.6 L302.4 275.6 L303.0 275.5 L303.5 275.5 L304.1 275.4 L304.6 275.3 L305.2 275.3 L305.8 275.2 L306.3 275.2 L306.9 275.1 L307.4 275.0 L308.0 274.9 L308.5 274.9 L309.1 274.8 L309.6 274.7 L310.2 274.6 L310.7 274.5 L311.3 274.4 L311.8 274.3 L312.3 274.2 L312.9 274.1 L313.4 274.0 L314.0 273.9 L314.5 273.8 L315.1 273.7 L315.6 273.6 L316.2 273.5 L316.7 273.3 L317.2 273.2 L317.8 273.1 L318.3 273.0 L318.8 272.8 L319.4 272.7 L319.9 272.5 L320.4 272.4 L321.0 272.2 L321.5 272.1 L322.0 271.9 L322.6 271.8 L323.1 271.6 L323.6 271.4 L324.2 271.3 L324.7 271.1 L325.2 270.9 L325.7 270.7 L326.3 270.6 L326.8 270.4 L327.3 270.2 L327.8 270.0 L328.3 269.8 L328.9 269.6 L329.4 269.4 L329.9 269.2 L330.4 269.0 L330.9 268.7 L331.4 268.5 L331.9 268.3 L332.4 268.1 L332.9 267.8 L333.4 267.6 L333.9 267.4 L334.5 267.1 L335.0 266.9 L335.5 266.6 L336.0 266.4 L336.5 266.1 L336.9 265.9 L337.4 265.6 L337.9 265.4 L338.4 265.1 L338.9 264.8 L339.4 264.5 L339.9 264.3 L340.4 264.0 L340.9 263.7 L341.4 263.4 L341.9 263.2 L342.3 262.9 L342.8 262.6 L343.3 262.3 L343.8 262.0 L344.3 261.7 L344.7 261.4 L345.2 261.1 L345.7 260.8 L346.2 260.5 L346.6 260.2 L347.1 259.9 L347.6 259.6 L348.0 259.3 L348.5 259.0 L349.0 258.6 L349.4 258.3 L349.9 258.0 L350.4 257.7 L350.8 257.4 L351.3 257.0 L351.7 256.7 L352.2 256.4 L352.7 256.1 L353.1 255.7 L353.6 255.4 L354.0 255.1 L354.5 254.7 L354.9 254.4 L355.4 254.1 L355.8 253.7 L356.3 253.4 L356.7 253.1 L357.2 252.7 L357.6 252.4 L358.0 252.1 L358.5 251.7 L358.9 251.4 L359.4 251.0 L359.8 250.7 L360.2 250.4 L360.7 250.0 L361.1 249.7 L361.5 249.3 L362.0 249.0 L362.4 248.6 L362.8 248.3 L363.3 247.9 L363.7 247.6 L364.1 247.2 L364.6 246.9 L365.0 246.5 L365.4 246.2 L365.9 245.8 L366.3 245.5 L366.7 245.1 L367.1 244.8 L367.6 244.4 L368.0 244.1 L368.4 243.7 L368.8 243.4 L369.3 243.0 L369.7 242.6 L370.1 242.3 L370.5 241.9 L371.0 241.6 L371.4 241.2 L371.8 240.9 L372.2 240.5 L372.7 240.1 L373.1 239.8 L373.5 239.4 L373.9 239.1 L374.4 238.7 L374.8 238.3 L375.2 238.0 L375.7 237.6 L376.1 237.3 L376.5 236.9 L376.9 236.5 L377.4 236.2 L377.8 235.8 L378.2 235.5 L378.6 235.1 L379.1 234.7 L379.5 234.4 L379.9 234.0 L380.4 233.7 L380.8 233.3 L381.2 233.0 L381.7 232.6 L382.1 232.3 L382.5 231.9 L383.0 231.6 L383.4 231.2 L383.8 230.9 L384.3 230.5 L384.7 230.2 L385.2 229.9 L385.6 229.5 L386.1 229.2 L386.5 228.9 L387.0 228.5 L387.4 228.2 L387.8 227.8 L388.3 227.5 L388.7 227.2 L389.2 226.9 L389.6 226.5 L390.1 226.2 L390.5 225.9 L391.0 225.5 L391.4 225.2 L391.9 224.9 L392.3 224.5 L392.8 224.2 L393.2 223.9 L393.7 223.5 L394.1 223.2 L394.6 222.9 L395.0 222.5 L395.4 222.2 L395.9 221.9 L396.3 221.5 L396.8 221.2 L397.2 220.8 L397.6 220.5 L398.1 220.1 L398.5 219.8 L399.0 219.4 L399.4 219.1 L399.8 218.7 L400.3 218.4 L400.7 218.0 L401.1 217.7 L401.6 217.3 L402.0 217.0 L402.4 216.6 L402.8 216.3 L403.3 215.9 L403.7 215.6 L404.1 215.2 L404.6 214.8 L405.0 214.5 L405.4 214.1 L405.8 213.8 L406.3 213.4 L406.7 213.0 L407.1 212.7 L407.5 212.3 L408.0 212.0 L408.4 211.6 L408.8 211.2 L409.2 210.9 L409.7 210.5 L410.1 210.2 L410.5 209.8 L410.9 209.4 L411.4 209.1 L411.8 208.7 L412.2 208.4 L412.6 208.0 L413.1 207.6 L413.5 207.3 L413.9 206.9 L414.4 206.6 L414.8 206.2 L415.2 205.8 L415.6 205.5 L416.1 205.1 L416.5 204.8 L416.9 204.4 L417.4 204.1 L417.8 203.7 L418.2 203.4 L418.7 203.0 L419.1 202.7 L419.5 202.3 L420.0 202.0 L420.4 201.6 L420.9 201.3 L421.3 200.9 L421.7 200.6 L422.2 200.2 L422.6 199.9 L423.0 199.6 L423.5 199.2 L423.9 198.9 L424.4 198.5 L424.8 198.2 L425.3 197.9 L425.7 197.5 L426.2 197.2 L426.6 196.9 L427.0 196.5 L427.5 196.2 L427.9 195.9 L428.4 195.5 L428.8 195.2 L429.3 194.9 L429.7 194.5 L430.2 194.2 L430.6 193.9 L431.1 193.6 L431.6 193.3 L432.0 192.9 L432.5 192.6 L432.9 192.3 L433.4 192.0 L433.8 191.7 L434.3 191.3 L434.8 191.0 L435.2 190.7 L435.7 190.4 L436.2 190.1 L436.6 189.8 L437.1 189.5 L437.6 189.2 L438.0 188.9 L438.5 188.6 L439.0 188.3 L439.4 188.0 L439.9 187.7 L440.4 187.4 L440.8 187.1 L441.3 186.8 L441.8 186.5 L442.3 186.2 L442.7 185.9 L443.2 185.7 L443.7 185.4 L444.2 185.1 L444.7 184.8 L445.1 184.5 L445.6 184.2 L446.1 184.0 L446.6 183.7 L447.1 183.4 L447.6 183.1 L448.1 182.9 L448.5 182.6 L449.0 182.3 L449.5 182.1 L450.0 181.8 L450.5 181.6 L451.0 181.3 L451.5 181.0 L452.0 180.8 L452.5 180.5 L453.0 180.3 L453.5 180.0 L454.0 179.8 L454.5 179.5 L455.0 179.3 L455.5 179.0 L456.0 178.8 L456.5 178.6 L457.0 178.3 L457.5 178.1 L458.0 177.9 L458.6 177.6 L459.1 177.4 L459.6 177.2 L460.1 177.0" stroke="#00ffff"/>
</g>
<path d="M268.50 271.60H276.90 M268.50 247.18H276.90 M268.50 222.76H276.90 M268.50 198.34H276.90 M268.50 173.92H276.90 M268.50 283.81H272.90 M268.50 259.39H272.90 M268.50 234.97H272.90 M268.50 210.55H272.90 M268.50 186.13H272.90 M310.84 295.85V287.45 M353.19 295.85V287.45 M395.53 295.85V287.45 M437.88 295.85V287.45 M289.67 295.85V291.45 M332.02 295.85V291.45 M374.36 295.85V291.45 M416.71 295.85V291.45" stroke="#000" stroke-width="1.3" fill="none"/>
<rect x="268.50" y="161.65" width="190.55" height="134.20" fill="none" stroke="#000" stroke-width="1.7"/>
<text x="282.90" y="178.00" font-size="16.3" font-weight="bold">(d)</text>
<text transform="translate(268.50 307.8) scale(0.933 1)" font-size="12" text-anchor="middle">-30</text>
<text transform="translate(310.84 307.8) scale(0.933 1)" font-size="12" text-anchor="middle">-20</text>
<text transform="translate(353.19 307.8) scale(0.933 1)" font-size="12" text-anchor="middle">-10</text>
<text transform="translate(395.53 307.8) scale(0.933 1)" font-size="12" text-anchor="middle">0</text>
<text transform="translate(437.88 307.8) scale(0.933 1)" font-size="12" text-anchor="middle">10</text>
<text x="329.00" y="330" font-size="13.5">(E-E</text>
<text x="355.00" y="335.1" font-size="9">gap</text>
<text x="369.70" y="330" font-size="13.5">)/E</text>
<text x="386.20" y="335.1" font-size="9">0,b</text>
</svg></body></html>
